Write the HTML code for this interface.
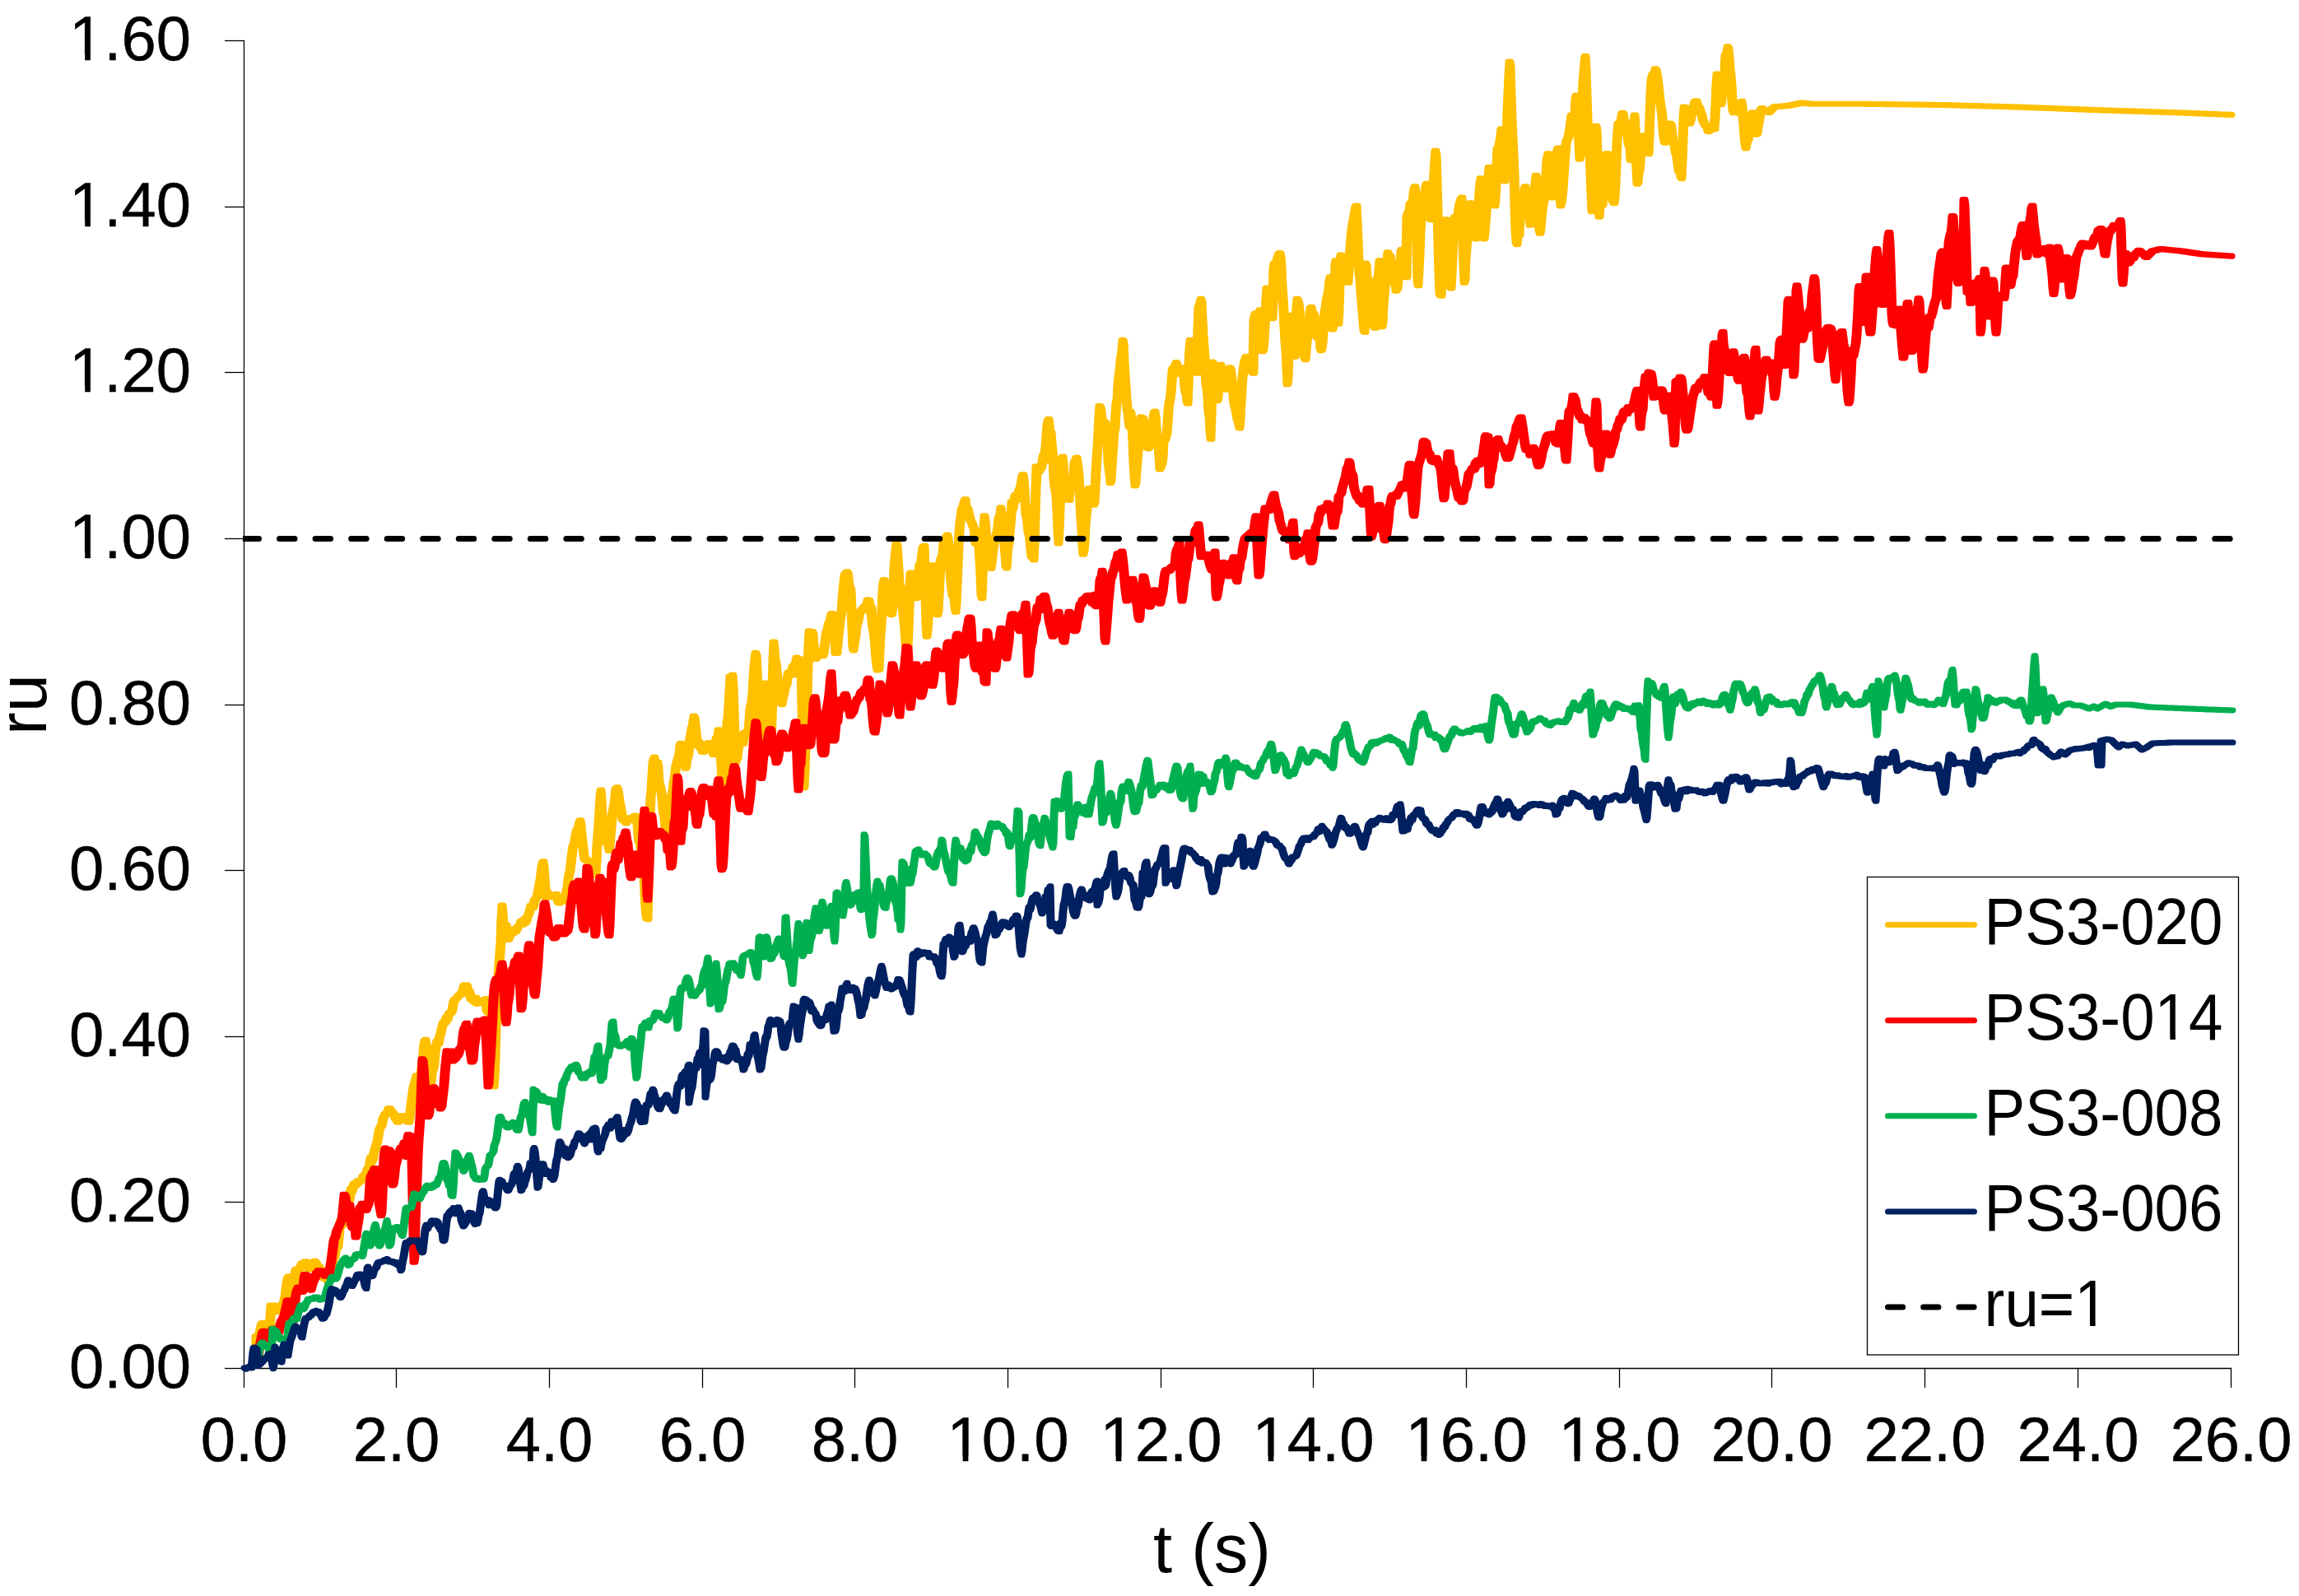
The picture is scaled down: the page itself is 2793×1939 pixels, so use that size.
<!DOCTYPE html>
<html><head><meta charset="utf-8"><title>ru vs t</title>
<style>html,body{margin:0;padding:0;background:#fff;}svg{display:block;}</style>
</head><body>
<svg width="2793" height="1939" viewBox="0 0 2793 1939">
<defs><clipPath id="f1c29" clipPathUnits="userSpaceOnUse"><path clip-rule="evenodd" d="M-5000,-5000H8000V8000H-5000ZM121.72,-6.64H137.07V2.50H121.72ZM144.10,-6.64H158.83V2.50H144.10Z"/></clipPath><clipPath id="f1c26" clipPathUnits="userSpaceOnUse"><path clip-rule="evenodd" d="M-5000,-5000H8000V8000H-5000ZM225.53,-6.64H240.88V2.50H225.53ZM247.91,-6.64H262.65V2.50H247.91Z"/></clipPath><clipPath id="f1c18" clipPathUnits="userSpaceOnUse"><path clip-rule="evenodd" d="M-5000,-5000H8000V8000H-5000ZM1897.93,1768.62H1912.65V1777.50H1897.93ZM1919.37,1768.62H1933.49V1777.50H1919.37Z"/></clipPath><clipPath id="f1c17" clipPathUnits="userSpaceOnUse"><path clip-rule="evenodd" d="M-5000,-5000H8000V8000H-5000ZM1711.93,1768.62H1726.65V1777.50H1711.93ZM1733.37,1768.62H1747.49V1777.50H1733.37Z"/></clipPath><clipPath id="f1c16" clipPathUnits="userSpaceOnUse"><path clip-rule="evenodd" d="M-5000,-5000H8000V8000H-5000ZM1525.93,1768.62H1540.65V1777.50H1525.93ZM1547.37,1768.62H1561.49V1777.50H1547.37Z"/></clipPath><clipPath id="f1c15" clipPathUnits="userSpaceOnUse"><path clip-rule="evenodd" d="M-5000,-5000H8000V8000H-5000ZM1340.93,1768.62H1355.65V1777.50H1340.93ZM1362.37,1768.62H1376.49V1777.50H1362.37Z"/></clipPath><clipPath id="f1c14" clipPathUnits="userSpaceOnUse"><path clip-rule="evenodd" d="M-5000,-5000H8000V8000H-5000ZM1154.93,1768.62H1169.65V1777.50H1154.93ZM1176.37,1768.62H1190.49V1777.50H1176.37Z"/></clipPath><clipPath id="f1c8" clipPathUnits="userSpaceOnUse"><path clip-rule="evenodd" d="M-5000,-5000H8000V8000H-5000ZM88.47,66.12H103.19V75.00H88.47ZM109.91,66.12H124.03V75.00H109.91Z"/></clipPath><clipPath id="f1c7" clipPathUnits="userSpaceOnUse"><path clip-rule="evenodd" d="M-5000,-5000H8000V8000H-5000ZM88.47,268.12H103.19V277.00H88.47ZM109.91,268.12H124.03V277.00H109.91Z"/></clipPath><clipPath id="f1c6" clipPathUnits="userSpaceOnUse"><path clip-rule="evenodd" d="M-5000,-5000H8000V8000H-5000ZM88.47,469.12H103.19V478.00H88.47ZM109.91,469.12H124.03V478.00H109.91Z"/></clipPath><clipPath id="f1c5" clipPathUnits="userSpaceOnUse"><path clip-rule="evenodd" d="M-5000,-5000H8000V8000H-5000ZM88.47,671.12H103.19V680.00H88.47ZM109.91,671.12H124.03V680.00H109.91Z"/></clipPath></defs>
<rect x="0" y="0" width="2793" height="1939" fill="#fff"/>
<line x1="296.5" y1="49" x2="296.5" y2="1663" stroke="#000" stroke-width="1.3"/>
<line x1="296" y1="1662.5" x2="2711" y2="1662.5" stroke="#000" stroke-width="1.3"/>
<line x1="273" y1="1662.5" x2="297" y2="1662.5" stroke="#000" stroke-width="1.3"/>
<text x="232.0" y="1685.5" text-anchor="end" font-size="76" stroke="#000" stroke-width="0.45" style="font-family:'Liberation Sans',Arial,sans-serif">0.00</text>
<line x1="273" y1="1460.5" x2="297" y2="1460.5" stroke="#000" stroke-width="1.3"/>
<text x="232.0" y="1483.5" text-anchor="end" font-size="76" stroke="#000" stroke-width="0.45" style="font-family:'Liberation Sans',Arial,sans-serif">0.20</text>
<line x1="273" y1="1259.5" x2="297" y2="1259.5" stroke="#000" stroke-width="1.3"/>
<text x="232.0" y="1282.5" text-anchor="end" font-size="76" stroke="#000" stroke-width="0.45" style="font-family:'Liberation Sans',Arial,sans-serif">0.40</text>
<line x1="273" y1="1057.5" x2="297" y2="1057.5" stroke="#000" stroke-width="1.3"/>
<text x="232.0" y="1080.5" text-anchor="end" font-size="76" stroke="#000" stroke-width="0.45" style="font-family:'Liberation Sans',Arial,sans-serif">0.60</text>
<line x1="273" y1="856.5" x2="297" y2="856.5" stroke="#000" stroke-width="1.3"/>
<text x="232.0" y="879.5" text-anchor="end" font-size="76" stroke="#000" stroke-width="0.45" style="font-family:'Liberation Sans',Arial,sans-serif">0.80</text>
<line x1="273" y1="654.5" x2="297" y2="654.5" stroke="#000" stroke-width="1.3"/>
<text clip-path="url(#f1c5)" x="232.0" y="677.5" text-anchor="end" font-size="76" stroke="#000" stroke-width="0.45" style="font-family:'Liberation Sans',Arial,sans-serif">1.00</text>
<line x1="273" y1="452.5" x2="297" y2="452.5" stroke="#000" stroke-width="1.3"/>
<text clip-path="url(#f1c6)" x="232.0" y="475.5" text-anchor="end" font-size="76" stroke="#000" stroke-width="0.45" style="font-family:'Liberation Sans',Arial,sans-serif">1.20</text>
<line x1="273" y1="251.5" x2="297" y2="251.5" stroke="#000" stroke-width="1.3"/>
<text clip-path="url(#f1c7)" x="232.0" y="274.5" text-anchor="end" font-size="76" stroke="#000" stroke-width="0.45" style="font-family:'Liberation Sans',Arial,sans-serif">1.40</text>
<line x1="273" y1="49.5" x2="297" y2="49.5" stroke="#000" stroke-width="1.3"/>
<text clip-path="url(#f1c8)" x="232.0" y="72.5" text-anchor="end" font-size="76" stroke="#000" stroke-width="0.45" style="font-family:'Liberation Sans',Arial,sans-serif">1.60</text>
<line x1="296.5" y1="1662" x2="296.5" y2="1686" stroke="#000" stroke-width="1.3"/>
<text x="296.5" y="1775" text-anchor="middle" font-size="76" stroke="#000" stroke-width="0.45" style="font-family:'Liberation Sans',Arial,sans-serif">0.0</text>
<line x1="481.5" y1="1662" x2="481.5" y2="1686" stroke="#000" stroke-width="1.3"/>
<text x="481.5" y="1775" text-anchor="middle" font-size="76" stroke="#000" stroke-width="0.45" style="font-family:'Liberation Sans',Arial,sans-serif">2.0</text>
<line x1="667.5" y1="1662" x2="667.5" y2="1686" stroke="#000" stroke-width="1.3"/>
<text x="667.5" y="1775" text-anchor="middle" font-size="76" stroke="#000" stroke-width="0.45" style="font-family:'Liberation Sans',Arial,sans-serif">4.0</text>
<line x1="853.5" y1="1662" x2="853.5" y2="1686" stroke="#000" stroke-width="1.3"/>
<text x="853.5" y="1775" text-anchor="middle" font-size="76" stroke="#000" stroke-width="0.45" style="font-family:'Liberation Sans',Arial,sans-serif">6.0</text>
<line x1="1038.5" y1="1662" x2="1038.5" y2="1686" stroke="#000" stroke-width="1.3"/>
<text x="1038.5" y="1775" text-anchor="middle" font-size="76" stroke="#000" stroke-width="0.45" style="font-family:'Liberation Sans',Arial,sans-serif">8.0</text>
<line x1="1224.5" y1="1662" x2="1224.5" y2="1686" stroke="#000" stroke-width="1.3"/>
<text clip-path="url(#f1c14)" x="1224.5" y="1775" text-anchor="middle" font-size="76" stroke="#000" stroke-width="0.45" style="font-family:'Liberation Sans',Arial,sans-serif">10.0</text>
<line x1="1410.5" y1="1662" x2="1410.5" y2="1686" stroke="#000" stroke-width="1.3"/>
<text clip-path="url(#f1c15)" x="1410.5" y="1775" text-anchor="middle" font-size="76" stroke="#000" stroke-width="0.45" style="font-family:'Liberation Sans',Arial,sans-serif">12.0</text>
<line x1="1595.5" y1="1662" x2="1595.5" y2="1686" stroke="#000" stroke-width="1.3"/>
<text clip-path="url(#f1c16)" x="1595.5" y="1775" text-anchor="middle" font-size="76" stroke="#000" stroke-width="0.45" style="font-family:'Liberation Sans',Arial,sans-serif">14.0</text>
<line x1="1781.5" y1="1662" x2="1781.5" y2="1686" stroke="#000" stroke-width="1.3"/>
<text clip-path="url(#f1c17)" x="1781.5" y="1775" text-anchor="middle" font-size="76" stroke="#000" stroke-width="0.45" style="font-family:'Liberation Sans',Arial,sans-serif">16.0</text>
<line x1="1967.5" y1="1662" x2="1967.5" y2="1686" stroke="#000" stroke-width="1.3"/>
<text clip-path="url(#f1c18)" x="1967.5" y="1775" text-anchor="middle" font-size="76" stroke="#000" stroke-width="0.45" style="font-family:'Liberation Sans',Arial,sans-serif">18.0</text>
<line x1="2152.5" y1="1662" x2="2152.5" y2="1686" stroke="#000" stroke-width="1.3"/>
<text x="2152.5" y="1775" text-anchor="middle" font-size="76" stroke="#000" stroke-width="0.45" style="font-family:'Liberation Sans',Arial,sans-serif">20.0</text>
<line x1="2338.5" y1="1662" x2="2338.5" y2="1686" stroke="#000" stroke-width="1.3"/>
<text x="2338.5" y="1775" text-anchor="middle" font-size="76" stroke="#000" stroke-width="0.45" style="font-family:'Liberation Sans',Arial,sans-serif">22.0</text>
<line x1="2524.5" y1="1662" x2="2524.5" y2="1686" stroke="#000" stroke-width="1.3"/>
<text x="2524.5" y="1775" text-anchor="middle" font-size="76" stroke="#000" stroke-width="0.45" style="font-family:'Liberation Sans',Arial,sans-serif">24.0</text>
<line x1="2710.5" y1="1662" x2="2710.5" y2="1686" stroke="#000" stroke-width="1.3"/>
<text x="2710.5" y="1775" text-anchor="middle" font-size="76" stroke="#000" stroke-width="0.45" style="font-family:'Liberation Sans',Arial,sans-serif">26.0</text>
<text x="1472.5" y="1910" text-anchor="middle" font-size="83" style="font-family:'Liberation Sans',Arial,sans-serif">t (s)</text>
<text transform="translate(55.5,856) rotate(-90)" text-anchor="middle" font-size="83" style="font-family:'Liberation Sans',Arial,sans-serif">ru</text>
<path d="M309,1623.4 L310,1623.4 L311,1622.9 L312,1622.3 L313,1620.1 L314,1614.7 L315,1610.8 L316,1607.9 L317,1607.5 L318,1607.3 L319,1607.3 L320,1607.3 L321,1607.3 L322,1607.3 L323,1607.5 L324,1607.8 L325,1608.2 L326,1600.5 L327,1586.0 L328,1586.0 L329,1586.0 L330,1586.0 L331,1586.0 L332,1586.0 L333,1586.0 L334,1586.0 L335,1586.0 L336,1586.0 L337,1587.9 L338,1589.6 L339,1589.6 L340,1588.8 L341,1585.9 L342,1582.7 L343,1579.9 L344,1575.6 L345,1566.4 L346,1559.1 L347,1553.6 L348,1551.7 L349,1550.7 L350,1550.7 L351,1550.7 L352,1550.7 L353,1550.7 L354,1552.2 L355,1554.7 L356,1547.7 L357,1543.3 L358,1542.0 L359,1542.0 L360,1542.0 L361,1542.0 L362,1540.2 L363,1538.3 L364,1536.0 L365,1534.9 L366,1534.3 L367,1534.3 L368,1534.1 L369,1532.7 L370,1532.7 L371,1532.7 L372,1532.7 L373,1532.7 L374,1533.2 L375,1534.2 L376,1537.2 L377,1535.0 L378,1535.0 L379,1534.5 L380,1532.2 L381,1532.2 L382,1532.2 L383,1532.2 L384,1532.2 L385,1532.7 L386,1533.9 L387,1535.8 L388,1538.2 L389,1538.2 L390,1539.1 L391,1541.4 L392,1542.0 L393,1543.1 L394,1546.3 L395,1550.2 L396,1551.6 L397,1551.6 L398,1551.6 L399,1545.1 L400,1536.7 L401,1536.7 L402,1531.2 L403,1525.5 L404,1525.5 L405,1520.6 L406,1516.2 L407,1514.5 L408,1514.5 L409,1504.1 L410,1492.8 L411,1484.7 L412,1482.3 L413,1481.4 L414,1481.4 L415,1478.4 L416,1478.4 L417,1469.6 L418,1458.6 L419,1458.6 L420,1458.6 L421,1457.1 L422,1457.1 L423,1452.2 L424,1444.8 L425,1443.3 L426,1443.3 L427,1440.7 L428,1437.9 L429,1437.4 L430,1437.4 L431,1437.4 L432,1435.3 L433,1434.4 L434,1434.4 L435,1434.4 L436,1434.2 L437,1433.6 L438,1431.9 L439,1428.7 L440,1428.5 L441,1427.2 L442,1425.7 L443,1425.0 L444,1420.5 L445,1419.6 L446,1419.6 L447,1412.7 L448,1407.0 L449,1405.5 L450,1405.5 L451,1405.5 L452,1399.9 L453,1397.0 L454,1393.6 L455,1389.9 L456,1387.0 L457,1380.6 L458,1374.8 L459,1371.0 L460,1368.8 L461,1368.1 L462,1364.7 L463,1358.9 L464,1357.1 L465,1354.9 L466,1353.1 L467,1353.1 L468,1353.1 L469,1349.4 L470,1346.9 L471,1346.7 L472,1346.7 L473,1346.7 L474,1346.7 L475,1346.7 L476,1347.1 L477,1349.5 L478,1350.3 L479,1351.5 L480,1353.4 L481,1353.4 L482,1355.3 L483,1359.2 L484,1358.4 L485,1358.4 L486,1355.9 L487,1355.4 L488,1355.4 L489,1355.4 L490,1355.4 L491,1355.4 L492,1356.3 L493,1357.6 L494,1359.2 L495,1358.9 L496,1351.6 L497,1342.9 L498,1334.6 L499,1327.7 L500,1321.4 L501,1316.7 L502,1315.5 L503,1310.2 L504,1306.7 L505,1306.7 L506,1306.7 L507,1306.7 L508,1306.7 L509,1304.5 L510,1297.6 L511,1289.4 L512,1279.2 L513,1267.9 L514,1264.2 L515,1263.3 L516,1263.3 L517,1263.3 L518,1263.3 L519,1263.3 L520,1268.6 L521,1277.9 L522,1288.6 L523,1296.0 L524,1298.1 L525,1293.8 L526,1279.9 L527,1273.0 L528,1268.1 L529,1264.3 L530,1264.3 L531,1263.1 L532,1258.3 L533,1255.6 L534,1250.9 L535,1246.7 L536,1243.4 L537,1241.5 L538,1241.0 L539,1240.4 L540,1236.1 L541,1236.1 L542,1235.4 L543,1231.5 L544,1230.4 L545,1230.0 L546,1230.0 L547,1227.2 L548,1221.2 L549,1216.8 L550,1214.3 L551,1214.0 L552,1213.4 L553,1212.1 L554,1210.4 L555,1209.6 L556,1208.7 L557,1208.7 L558,1206.7 L559,1205.0 L560,1203.9 L561,1198.7 L562,1196.8 L563,1196.8 L564,1196.8 L565,1196.7 L566,1196.7 L567,1196.7 L568,1196.7 L569,1196.7 L570,1199.1 L571,1202.6 L572,1205.2 L573,1205.2 L574,1211.2 L575,1212.6 L576,1212.1 L577,1212.1 L578,1212.1 L579,1212.1 L580,1212.1 L581,1215.3 L582,1215.3 L583,1215.7 L584,1215.2 L585,1215.2 L586,1215.2 L587,1215.2 L588,1213.4 L589,1213.4 L590,1213.4 L591,1213.4 L592,1213.4 L593,1217.5 L594,1217.5 L595,1217.5 L596,1217.5 L597,1218.4 L598,1219.8 L599,1220.0 L600,1246.9 L601,1237.0 L602,1218.2 L603,1186.5 L604,1169.6 L605,1157.9 L606,1143.7 L607,1114.9 L608,1100.0 L609,1100.0 L610,1100.0 L611,1100.0 L612,1100.0 L613,1108.9 L614,1123.8 L615,1123.8 L616,1123.8 L617,1123.8 L618,1132.7 L619,1132.4 L620,1132.4 L621,1132.4 L622,1131.9 L623,1128.5 L624,1128.5 L625,1128.5 L626,1127.8 L627,1126.4 L628,1124.8 L629,1124.2 L630,1122.3 L631,1118.9 L632,1118.9 L633,1118.9 L634,1118.9 L635,1116.6 L636,1116.6 L637,1116.6 L638,1115.3 L639,1112.2 L640,1110.7 L641,1107.4 L642,1103.5 L643,1100.0 L644,1100.0 L645,1100.0 L646,1099.5 L647,1093.3 L648,1093.2 L649,1091.5 L650,1089.1 L651,1085.7 L652,1078.7 L653,1074.4 L654,1068.8 L655,1061.1 L656,1052.7 L657,1048.5 L658,1046.7 L659,1046.7 L660,1046.7 L661,1046.7 L662,1046.7 L663,1053.6 L664,1067.6 L665,1080.0 L666,1083.7 L667,1083.7 L668,1086.7 L669,1086.7 L670,1086.7 L671,1086.7 L672,1086.7 L673,1086.7 L674,1086.6 L675,1086.6 L676,1086.6 L677,1086.6 L678,1086.6 L679,1089.0 L680,1089.8 L681,1089.8 L682,1089.8 L683,1089.8 L684,1090.8 L685,1088.1 L686,1082.4 L687,1078.1 L688,1067.9 L689,1062.1 L690,1058.9 L691,1050.6 L692,1041.8 L693,1033.5 L694,1027.6 L695,1026.3 L696,1022.2 L697,1014.8 L698,1009.6 L699,1007.8 L700,1007.1 L701,1002.2 L702,998.5 L703,996.7 L704,996.7 L705,996.7 L706,996.7 L707,996.7 L708,1002.6 L709,1013.5 L710,1022.4 L711,1030.8 L712,1039.3 L713,1044.1 L714,1044.2 L715,1044.2 L716,1045.1 L717,1046.5 L718,1046.7 L719,1046.7 L720,1051.5 L721,1051.9 L722,1047.4 L723,1027.7 L724,1012.5 L725,1001.8 L726,983.9 L727,968.0 L728,960.0 L729,960.0 L730,960.0 L731,960.0 L732,960.0 L733,970.0 L734,988.9 L735,999.8 L736,1000.5 L737,1000.5 L738,1015.3 L739,1017.5 L740,1006.1 L741,995.1 L742,987.3 L743,981.4 L744,976.6 L745,967.7 L746,958.7 L747,957.5 L748,956.7 L749,956.7 L750,956.7 L751,956.7 L752,956.7 L753,960.0 L754,966.3 L755,974.1 L756,978.6 L757,983.8 L758,989.6 L759,993.9 L760,993.9 L761,994.6 L762,995.4 L763,995.4 L764,993.6 L765,993.6 L766,993.6 L767,993.6 L768,991.9 L769,991.4 L770,991.1 L771,991.1 L772,991.1 L773,991.1 L774,991.1 L775,992.4 L776,994.8 L777,1001.2 L778,1014.4 L779,1014.4 L780,1016.8 L781,1029.7 L782,1038.8 L783,1038.8 L784,1042.2 L785,1062.4 L786,1036.5 L787,994.7 L788,969.0 L789,960.7 L790,943.3 L791,926.9 L792,922.5 L793,920.0 L794,920.0 L795,920.0 L796,920.0 L797,920.0 L798,924.5 L799,925.9 L800,925.9 L801,926.1 L802,932.1 L803,950.4 L804,953.8 L805,957.2 L806,961.9 L807,971.6 L808,982.7 L809,989.9 L810,987.5 L811,976.2 L812,972.6 L813,968.2 L814,964.9 L815,961.1 L816,951.3 L817,945.8 L818,938.4 L819,929.6 L820,926.7 L821,922.9 L822,919.6 L823,916.0 L824,905.3 L825,903.3 L826,903.3 L827,903.3 L828,903.3 L829,903.3 L830,904.2 L831,907.0 L832,912.2 L833,915.8 L834,915.8 L835,902.1 L836,896.6 L837,891.7 L838,885.5 L839,882.3 L840,876.5 L841,870.0 L842,870.0 L843,870.0 L844,870.0 L845,870.0 L846,872.0 L847,880.7 L848,889.6 L849,898.5 L850,901.1 L851,901.1 L852,902.1 L853,906.0 L854,906.0 L855,906.0 L856,906.0 L857,904.7 L858,903.1 L859,902.5 L860,902.5 L861,902.5 L862,902.5 L863,902.5 L864,903.4 L865,906.7 L866,906.7 L867,906.3 L868,897.5 L869,895.6 L870,895.6 L871,886.7 L872,886.7 L873,886.7 L874,886.7 L875,886.7 L876,888.6 L877,898.3 L878,912.6 L879,930.3 L880,915.0 L881,876.2 L882,873.0 L883,857.6 L884,839.1 L885,822.1 L886,822.1 L887,822.1 L888,820.0 L889,820.0 L890,820.0 L891,820.0 L892,820.0 L893,833.9 L894,861.1 L895,896.3 L896,900.3 L897,900.3 L898,900.3 L899,898.1 L900,898.1 L901,898.0 L902,890.6 L903,890.6 L904,890.6 L905,889.4 L906,888.2 L907,885.3 L908,875.4 L909,859.9 L910,856.5 L911,851.6 L912,841.8 L913,823.4 L914,810.2 L915,800.3 L916,793.3 L917,793.3 L918,793.3 L919,793.3 L920,793.3 L921,796.3 L922,813.3 L923,836.7 L924,857.6 L925,852.4 L926,852.4 L927,842.0 L928,830.0 L929,830.0 L930,830.0 L931,830.0 L932,830.0 L933,834.5 L934,844.4 L935,859.4 L936,842.1 L937,800.9 L938,780.0 L939,780.0 L940,780.0 L941,780.0 L942,780.0 L943,788.4 L944,802.2 L945,804.3 L946,815.1 L947,826.5 L948,836.4 L949,846.2 L950,843.3 L951,835.7 L952,833.3 L953,832.0 L954,824.8 L955,819.5 L956,816.7 L957,816.7 L958,816.7 L959,816.3 L960,813.5 L961,809.8 L962,808.4 L963,808.4 L964,808.4 L965,802.4 L966,799.1 L967,799.1 L968,799.1 L969,799.1 L970,799.1 L971,800.6 L972,800.6 L973,800.6 L974,803.3 L975,803.3 L976,811.8 L977,859.7 L978,845.4 L979,808.5 L980,784.6 L981,766.7 L982,766.7 L983,766.7 L984,766.7 L985,766.7 L986,767.1 L987,767.6 L988,767.6 L989,767.6 L990,770.0 L991,784.2 L992,788.6 L993,790.9 L994,790.4 L995,790.4 L996,790.4 L997,790.4 L998,790.4 L999,788.1 L1000,780.1 L1001,771.3 L1002,766.5 L1003,766.5 L1004,758.6 L1005,756.4 L1006,755.1 L1007,749.6 L1008,746.3 L1009,745.5 L1010,745.5 L1011,745.5 L1012,745.5 L1013,745.5 L1014,748.0 L1015,761.5 L1016,766.8 L1017,764.3 L1018,755.5 L1019,748.8 L1020,742.6 L1021,728.1 L1022,716.7 L1023,707.3 L1024,698.6 L1025,696.7 L1026,696.7 L1027,694.7 L1028,694.7 L1029,694.7 L1030,694.7 L1031,694.7 L1032,696.1 L1033,701.8 L1034,713.3 L1035,713.3 L1036,717.8 L1037,742.7 L1038,761.3 L1039,758.4 L1040,755.0 L1041,749.5 L1042,744.0 L1043,743.0 L1044,741.9 L1045,740.0 L1046,740.0 L1047,739.1 L1048,736.7 L1049,736.7 L1050,736.7 L1051,734.2 L1052,728.8 L1053,728.8 L1054,728.8 L1055,728.8 L1056,728.8 L1057,729.2 L1058,729.6 L1059,734.9 L1060,738.2 L1061,738.2 L1062,754.0 L1063,764.3 L1064,767.6 L1065,775.7 L1066,788.1 L1067,771.3 L1068,760.4 L1069,742.5 L1070,717.8 L1071,708.4 L1072,704.4 L1073,704.4 L1074,704.4 L1075,704.4 L1076,704.4 L1077,707.3 L1078,713.6 L1079,725.3 L1080,725.3 L1081,725.3 L1082,725.3 L1083,714.5 L1084,690.0 L1085,678.1 L1086,668.2 L1087,660.0 L1088,660.0 L1089,660.0 L1090,660.0 L1091,660.0 L1092,662.5 L1093,675.3 L1094,692.0 L1095,712.5 L1096,712.5 L1097,716.9 L1098,727.6 L1099,737.8 L1100,746.6 L1101,754.6 L1102,738.9 L1103,711.1 L1104,696.4 L1105,696.0 L1106,696.0 L1107,696.0 L1108,696.0 L1109,696.0 L1110,697.4 L1111,704.8 L1112,710.7 L1113,709.3 L1114,693.4 L1115,685.9 L1116,685.9 L1117,682.2 L1118,672.3 L1119,665.5 L1120,663.8 L1121,663.3 L1122,663.3 L1123,663.3 L1124,663.3 L1125,663.3 L1126,693.2 L1127,726.4 L1128,707.6 L1129,691.8 L1130,687.6 L1131,686.7 L1132,686.7 L1133,686.7 L1134,686.7 L1135,686.7 L1136,694.1 L1137,698.9 L1138,702.6 L1139,704.8 L1140,683.5 L1141,678.5 L1142,676.2 L1143,673.3 L1144,659.7 L1145,654.8 L1146,654.8 L1147,654.2 L1148,651.4 L1149,650.0 L1150,650.0 L1151,650.0 L1152,650.0 L1153,650.0 L1154,654.4 L1155,663.8 L1156,679.1 L1157,695.4 L1158,707.4 L1159,716.7 L1160,711.9 L1161,688.1 L1162,663.8 L1163,646.0 L1164,634.2 L1165,628.9 L1166,619.6 L1167,616.8 L1168,614.6 L1169,611.4 L1170,607.6 L1171,606.7 L1172,606.7 L1173,606.7 L1174,606.7 L1175,606.7 L1176,615.8 L1177,617.0 L1178,618.0 L1179,622.3 L1180,626.7 L1181,630.5 L1182,633.8 L1183,634.8 L1184,637.5 L1185,640.3 L1186,642.8 L1187,651.9 L1188,651.9 L1189,652.4 L1190,656.6 L1191,660.4 L1192,665.8 L1193,642.1 L1194,626.7 L1195,626.7 L1196,626.7 L1197,626.7 L1198,626.7 L1199,633.0 L1200,644.3 L1201,654.5 L1202,657.2 L1203,664.1 L1204,667.3 L1205,660.5 L1206,656.9 L1207,656.2 L1208,650.0 L1209,646.1 L1210,638.7 L1211,629.2 L1212,629.2 L1213,623.6 L1214,616.7 L1215,616.7 L1216,616.7 L1217,616.7 L1218,616.7 L1219,625.0 L1220,640.6 L1221,651.7 L1222,656.5 L1223,660.9 L1224,648.6 L1225,637.9 L1226,624.2 L1227,610.0 L1228,610.0 L1229,610.0 L1230,606.5 L1231,602.0 L1232,601.0 L1233,601.0 L1234,601.0 L1235,598.5 L1236,594.6 L1237,594.6 L1238,588.7 L1239,582.8 L1240,577.6 L1241,576.7 L1242,576.7 L1243,576.7 L1244,576.7 L1245,576.7 L1246,583.0 L1247,595.2 L1248,611.3 L1249,625.7 L1250,628.6 L1251,635.9 L1252,647.1 L1253,649.5 L1254,657.8 L1255,625.8 L1256,593.0 L1257,566.7 L1258,566.7 L1259,566.7 L1260,566.7 L1261,566.7 L1262,567.2 L1263,567.0 L1264,560.8 L1265,554.5 L1266,551.6 L1267,551.6 L1268,542.7 L1269,528.8 L1270,515.8 L1271,511.3 L1272,509.3 L1273,509.3 L1274,509.3 L1275,509.3 L1276,509.3 L1277,517.3 L1278,525.4 L1279,525.4 L1280,537.9 L1281,548.8 L1282,557.8 L1283,583.6 L1284,592.3 L1285,597.0 L1286,585.9 L1287,559.5 L1288,556.1 L1289,555.1 L1290,555.1 L1291,555.1 L1292,555.1 L1293,555.1 L1294,564.3 L1295,581.1 L1296,594.8 L1297,594.8 L1298,590.8 L1299,590.8 L1300,588.8 L1301,586.4 L1302,576.1 L1303,561.2 L1304,561.0 L1305,558.0 L1306,556.1 L1307,556.1 L1308,556.1 L1309,556.1 L1310,556.1 L1311,560.4 L1312,568.2 L1313,577.1 L1314,595.0 L1315,613.9 L1316,631.3 L1317,628.5 L1318,617.6 L1319,604.8 L1320,595.3 L1321,593.3 L1322,593.3 L1323,593.3 L1324,593.3 L1325,593.3 L1326,602.3 L1327,602.3 L1328,592.5 L1329,573.5 L1330,557.1 L1331,542.7 L1332,525.3 L1333,504.3 L1334,493.3 L1335,493.3 L1336,493.3 L1337,493.3 L1338,493.3 L1339,495.2 L1340,499.5 L1341,510.1 L1342,510.5 L1343,513.3 L1344,513.3 L1345,513.3 L1346,526.8 L1347,530.6 L1348,535.0 L1349,552.6 L1350,537.4 L1351,524.7 L1352,520.9 L1353,501.3 L1354,489.5 L1355,486.1 L1356,466.2 L1357,457.3 L1358,450.0 L1359,438.2 L1360,433.0 L1361,424.2 L1362,413.3 L1363,413.3 L1364,413.3 L1365,413.3 L1366,413.3 L1367,417.3 L1368,438.8 L1369,456.1 L1370,469.9 L1371,484.8 L1372,497.6 L1373,499.7 L1374,499.7 L1375,499.7 L1376,501.7 L1377,512.2 L1378,520.0 L1379,536.8 L1380,549.3 L1381,539.2 L1382,523.7 L1383,512.5 L1384,506.7 L1385,506.7 L1386,506.7 L1387,506.7 L1388,506.7 L1389,508.0 L1390,508.0 L1391,508.0 L1392,516.4 L1393,519.3 L1394,519.3 L1395,526.0 L1396,527.5 L1397,522.6 L1398,516.2 L1399,508.4 L1400,501.5 L1401,500.0 L1402,500.0 L1403,500.0 L1404,500.0 L1405,500.0 L1406,505.8 L1407,518.6 L1408,534.2 L1409,534.2 L1410,541.7 L1411,535.4 L1412,532.4 L1413,532.4 L1414,530.8 L1415,527.4 L1416,515.0 L1417,498.6 L1418,489.4 L1419,485.6 L1420,478.2 L1421,465.2 L1422,450.4 L1423,447.2 L1424,446.7 L1425,446.7 L1426,443.0 L1427,440.6 L1428,440.6 L1429,440.6 L1430,440.6 L1431,440.6 L1432,443.0 L1433,445.5 L1434,446.7 L1435,446.7 L1436,446.7 L1437,446.7 L1438,446.7 L1439,449.1 L1440,453.5 L1441,459.2 L1442,443.2 L1443,423.3 L1444,413.3 L1445,413.3 L1446,413.3 L1447,413.3 L1448,413.3 L1449,418.7 L1450,423.5 L1451,423.5 L1452,429.4 L1453,397.8 L1454,372.9 L1455,371.5 L1456,367.2 L1457,363.3 L1458,363.3 L1459,363.3 L1460,363.3 L1461,363.3 L1462,367.3 L1463,389.0 L1464,406.8 L1465,421.3 L1466,434.2 L1467,450.1 L1468,469.2 L1469,470.4 L1470,449.5 L1471,440.0 L1472,440.0 L1473,440.0 L1474,440.0 L1475,440.0 L1476,444.5 L1477,454.3 L1478,466.0 L1479,454.1 L1480,445.3 L1481,443.3 L1482,443.3 L1483,443.3 L1484,443.3 L1485,443.3 L1486,449.2 L1487,455.6 L1488,461.2 L1489,461.5 L1490,458.9 L1491,452.5 L1492,446.7 L1493,446.7 L1494,446.7 L1495,446.7 L1496,446.7 L1497,447.6 L1498,452.9 L1499,460.3 L1500,469.2 L1501,480.6 L1502,490.9 L1503,494.7 L1504,498.7 L1505,491.0 L1506,473.8 L1507,459.0 L1508,450.1 L1509,443.2 L1510,438.3 L1511,435.8 L1512,433.3 L1513,433.3 L1514,433.3 L1515,433.3 L1516,433.3 L1517,433.8 L1518,436.2 L1519,439.6 L1520,442.5 L1521,389.0 L1522,384.3 L1523,381.1 L1524,381.1 L1525,381.1 L1526,381.1 L1527,379.8 L1528,378.0 L1529,376.7 L1530,376.7 L1531,376.7 L1532,376.7 L1533,376.7 L1534,381.1 L1535,378.9 L1536,363.0 L1537,350.0 L1538,350.0 L1539,350.0 L1540,350.0 L1541,350.0 L1542,350.4 L1543,353.1 L1544,355.4 L1545,327.0 L1546,320.0 L1547,320.0 L1548,320.0 L1549,316.5 L1550,312.6 L1551,310.3 L1552,308.0 L1553,307.6 L1554,307.6 L1555,307.6 L1556,307.6 L1557,307.6 L1558,311.4 L1559,324.8 L1560,346.7 L1561,362.0 L1562,377.3 L1563,398.5 L1564,406.2 L1565,386.8 L1566,383.3 L1567,383.3 L1568,383.3 L1569,383.3 L1570,383.3 L1571,387.7 L1572,391.3 L1573,372.8 L1574,363.3 L1575,363.3 L1576,363.3 L1577,363.3 L1578,363.3 L1579,365.3 L1580,368.7 L1581,377.2 L1582,393.7 L1583,411.1 L1584,413.0 L1585,415.2 L1586,409.3 L1587,408.3 L1588,397.8 L1589,379.9 L1590,374.3 L1591,373.3 L1592,373.3 L1593,373.3 L1594,373.3 L1595,373.3 L1596,377.8 L1597,379.9 L1598,380.8 L1599,383.5 L1600,392.7 L1601,401.4 L1602,407.2 L1603,408.5 L1604,408.5 L1605,404.5 L1606,391.3 L1607,379.5 L1608,374.3 L1609,366.5 L1610,360.7 L1611,357.1 L1612,350.2 L1613,341.5 L1614,336.7 L1615,336.7 L1616,336.7 L1617,336.7 L1618,336.7 L1619,347.6 L1620,322.1 L1621,316.7 L1622,316.7 L1623,316.7 L1624,316.7 L1625,316.7 L1626,325.8 L1627,310.0 L1628,310.0 L1629,310.0 L1630,310.0 L1631,310.0 L1632,311.5 L1633,318.3 L1634,318.5 L1635,318.5 L1636,318.5 L1637,313.6 L1638,300.8 L1639,289.0 L1640,278.6 L1641,272.9 L1642,267.1 L1643,260.8 L1644,255.4 L1645,251.0 L1646,250.0 L1647,250.0 L1648,250.0 L1649,250.0 L1650,250.0 L1651,268.3 L1652,290.2 L1653,317.1 L1654,332.8 L1655,339.5 L1656,355.2 L1657,320.0 L1658,320.0 L1659,320.0 L1660,320.0 L1661,320.0 L1662,322.5 L1663,336.2 L1664,341.2 L1665,341.2 L1666,341.2 L1667,348.0 L1668,359.7 L1669,376.4 L1670,358.4 L1671,338.6 L1672,338.6 L1673,327.6 L1674,316.7 L1675,316.7 L1676,316.7 L1677,316.7 L1678,316.7 L1679,325.1 L1680,341.4 L1681,339.4 L1682,332.6 L1683,316.0 L1684,306.7 L1685,306.7 L1686,306.7 L1687,306.7 L1688,306.7 L1689,310.7 L1690,310.7 L1691,310.7 L1692,317.6 L1693,328.0 L1694,333.5 L1695,333.5 L1696,333.5 L1697,328.0 L1698,319.7 L1699,316.5 L1700,305.3 L1701,303.3 L1702,303.3 L1703,303.3 L1704,303.3 L1705,303.3 L1706,310.7 L1707,262.8 L1708,259.3 L1709,257.8 L1710,255.8 L1711,247.4 L1712,246.4 L1713,246.4 L1714,246.4 L1715,235.8 L1716,228.9 L1717,226.7 L1718,226.7 L1719,226.7 L1720,226.7 L1721,226.7 L1722,232.7 L1723,267.1 L1724,264.3 L1725,259.4 L1726,259.4 L1727,246.1 L1728,236.2 L1729,236.2 L1730,226.3 L1731,223.3 L1732,223.3 L1733,223.3 L1734,223.3 L1735,223.3 L1736,233.2 L1737,234.5 L1738,228.1 L1739,225.8 L1740,209.9 L1741,194.1 L1742,183.3 L1743,183.3 L1744,183.3 L1745,183.3 L1746,183.3 L1747,188.8 L1748,218.3 L1749,255.3 L1750,299.1 L1751,301.8 L1752,296.1 L1753,277.6 L1754,266.7 L1755,266.7 L1756,266.7 L1757,266.7 L1758,266.7 L1759,278.0 L1760,298.2 L1761,307.7 L1762,313.0 L1763,282.1 L1764,265.7 L1765,263.8 L1766,263.8 L1767,263.8 L1768,263.6 L1769,260.4 L1770,253.2 L1771,247.4 L1772,244.6 L1773,241.8 L1774,240.0 L1775,240.0 L1776,240.0 L1777,240.0 L1778,240.0 L1779,258.5 L1780,290.0 L1781,275.5 L1782,257.5 L1783,250.1 L1784,246.7 L1785,246.7 L1786,246.7 L1787,246.7 L1788,246.7 L1789,255.1 L1790,256.8 L1791,256.8 L1792,268.7 L1793,251.9 L1794,249.9 L1795,234.0 L1796,221.6 L1797,216.7 L1798,216.7 L1799,216.7 L1800,216.7 L1801,216.7 L1802,222.1 L1803,253.4 L1804,245.0 L1805,230.1 L1806,215.3 L1807,203.3 L1808,203.3 L1809,203.3 L1810,203.3 L1811,203.3 L1812,204.3 L1813,207.0 L1814,214.8 L1815,224.2 L1816,200.8 L1817,180.0 L1818,179.7 L1819,176.9 L1820,171.5 L1821,164.1 L1822,156.7 L1823,156.7 L1824,156.7 L1825,156.7 L1826,156.7 L1827,159.6 L1828,171.9 L1829,137.1 L1830,112.9 L1831,91.7 L1832,75.0 L1833,75.0 L1834,75.0 L1835,75.0 L1836,75.0 L1837,81.0 L1838,115.4 L1839,144.3 L1840,167.6 L1841,187.4 L1842,210.3 L1843,251.3 L1844,259.1 L1845,244.2 L1846,239.3 L1847,239.3 L1848,239.3 L1849,239.3 L1850,229.1 L1851,226.7 L1852,226.7 L1853,226.7 L1854,226.7 L1855,226.7 L1856,232.4 L1857,237.8 L1858,244.2 L1859,251.7 L1860,244.8 L1861,237.9 L1862,234.8 L1863,221.7 L1864,213.3 L1865,213.3 L1866,213.3 L1867,213.3 L1868,213.3 L1869,221.3 L1870,236.6 L1871,255.4 L1872,249.9 L1873,244.7 L1874,234.4 L1875,222.9 L1876,210.4 L1877,195.4 L1878,189.6 L1879,186.7 L1880,186.7 L1881,186.7 L1882,186.7 L1883,186.7 L1884,194.7 L1885,210.1 L1886,214.9 L1887,213.3 L1888,199.6 L1889,187.8 L1890,181.5 L1891,180.0 L1892,180.0 L1893,180.0 L1894,180.0 L1895,180.0 L1896,198.4 L1897,215.3 L1898,200.5 L1899,188.8 L1900,175.8 L1901,171.0 L1902,168.7 L1903,167.4 L1904,161.0 L1905,154.6 L1906,146.8 L1907,140.0 L1908,139.9 L1909,139.8 L1910,139.8 L1911,138.2 L1912,119.4 L1913,115.9 L1914,115.9 L1915,115.9 L1916,115.9 L1917,115.9 L1918,118.6 L1919,130.9 L1920,118.8 L1921,99.1 L1922,87.2 L1923,74.8 L1924,68.3 L1925,68.3 L1926,68.3 L1927,68.3 L1928,68.3 L1929,84.3 L1930,116.1 L1931,144.4 L1932,167.1 L1933,170.4 L1934,184.8 L1935,181.0 L1936,165.2 L1937,153.3 L1938,153.3 L1939,153.3 L1940,153.3 L1941,153.3 L1942,158.3 L1943,186.3 L1944,219.1 L1945,231.3 L1946,219.0 L1947,219.0 L1948,205.4 L1949,187.1 L1950,186.8 L1951,186.7 L1952,186.7 L1953,186.7 L1954,186.7 L1955,186.7 L1956,191.4 L1957,196.7 L1958,202.6 L1959,212.8 L1960,223.8 L1961,198.4 L1962,172.4 L1963,158.0 L1964,150.0 L1965,150.0 L1966,150.0 L1967,147.4 L1968,140.6 L1969,137.2 L1970,137.2 L1971,137.2 L1972,137.2 L1973,137.2 L1974,138.1 L1975,142.9 L1976,148.8 L1977,154.7 L1978,158.5 L1979,158.5 L1980,165.3 L1981,168.6 L1982,164.8 L1983,148.4 L1984,140.0 L1985,140.0 L1986,140.0 L1987,140.0 L1988,140.0 L1989,155.9 L1990,186.8 L1991,177.8 L1992,176.4 L1993,170.6 L1994,166.2 L1995,164.7 L1996,164.7 L1997,164.7 L1998,164.7 L1999,164.7 L2000,165.6 L2001,166.2 L2002,140.3 L2003,113.9 L2004,97.6 L2005,92.9 L2006,90.1 L2007,89.1 L2008,89.1 L2009,83.8 L2010,83.8 L2011,83.8 L2012,83.8 L2013,83.8 L2014,84.8 L2015,89.5 L2016,94.8 L2017,102.6 L2018,112.6 L2019,122.5 L2020,128.2 L2021,134.5 L2022,142.5 L2023,157.2 L2024,156.7 L2025,152.9 L2026,150.7 L2027,150.0 L2028,150.0 L2029,150.0 L2030,150.0 L2031,150.0 L2032,150.9 L2033,153.8 L2034,164.5 L2035,172.1 L2036,174.3 L2037,177.7 L2038,183.3 L2039,187.6 L2040,190.9 L2041,195.7 L2042,169.8 L2043,143.4 L2044,130.0 L2045,130.0 L2046,130.0 L2047,130.0 L2048,130.0 L2049,130.4 L2050,131.1 L2051,133.7 L2052,141.5 L2053,138.5 L2054,136.2 L2055,131.3 L2056,126.5 L2057,123.3 L2058,122.9 L2059,122.7 L2060,122.7 L2061,122.7 L2062,122.7 L2063,122.7 L2064,125.5 L2065,128.3 L2066,130.0 L2067,131.3 L2068,134.7 L2069,137.6 L2070,139.9 L2071,145.5 L2072,147.9 L2073,149.9 L2074,151.7 L2075,152.4 L2076,152.4 L2077,153.2 L2078,153.2 L2079,153.2 L2080,153.2 L2081,143.4 L2082,125.7 L2083,101.9 L2084,90.0 L2085,90.0 L2086,90.0 L2087,90.0 L2088,90.0 L2089,92.9 L2090,97.8 L2091,105.2 L2092,98.8 L2093,87.9 L2094,67.2 L2095,65.7 L2096,62.9 L2097,56.7 L2098,56.7 L2099,56.7 L2100,56.7 L2101,56.7 L2102,59.2 L2103,71.1 L2104,82.8 L2105,92.6 L2106,103.1 L2107,125.1 L2108,124.8 L2109,124.8 L2110,124.8 L2111,124.8 L2112,124.8 L2113,125.8 L2114,123.3 L2115,123.3 L2116,123.3 L2117,123.3 L2118,123.3 L2119,129.2 L2120,140.6 L2121,153.4 L2122,164.4 L2123,156.6 L2124,149.2 L2125,145.0 L2126,140.6 L2127,136.7 L2128,136.7 L2129,136.7 L2130,136.7 L2131,136.7 L2132,138.1 L2133,145.1 L2134,149.3 L2135,144.6 L2136,138.7 L2137,133.3 L2138,131.9 L2139,131.4 L2140,131.4 L2141,131.4 L2142,131.4 L2143,131.4 L2144,133.3 L2145,134.0 L2146,134.0 L2147,134.0 L2148,134.0 L2149,134.2 L2150,133.1 L2151,132.3 L2152,130.9 L2153,130.3 L2154,129.8 L2155,129.4 L2156,129.4 L2157,129.4 L2158,129.4 L2159,129.4 L2160,129.4 L2161,129.3 L2162,129.2 L2163,129.1 L2164,129.0 L2165,128.9 L2166,128.8 L2167,128.7 L2168,128.6 L2169,128.5 L2170,128.4 L2171,128.2 L2172,128.1 L2173,127.8 L2174,127.6 L2175,127.4 L2176,127.2 L2177,127.0 L2178,126.9 L2179,126.6 L2180,126.4 L2181,126.2 L2182,126.0 L2183,125.8 L2184,125.6 L2185,125.4 L2186,125.2 L2187,125.0 L2188,125.0 L2189,125.0 L2190,125.0 L2191,125.0 L2192,125.1 L2193,125.2 L2194,125.3 L2195,125.4 L2196,125.5 L2197,125.6 L2198,125.7 L2199,125.9 L2200,126.0 L2201,126.1 L2202,126.2 L2203,126.2 L2204,126.2 L2205,126.2 L2206,126.2 L2207,126.2 L2208,126.2 L2209,126.2 L2210,126.2 L2211,126.2 L2212,126.2 L2213,126.2 L2214,126.2 L2215,126.2 L2216,126.2 L2217,126.2 L2218,126.2 L2219,126.2 L2220,126.2 L2221,126.2 L2222,126.2 L2223,126.2 L2224,126.2 L2225,126.2 L2226,126.2 L2227,126.2 L2228,126.2 L2229,126.2 L2230,126.2 L2231,126.2 L2232,126.2 L2233,126.2 L2234,126.2 L2235,126.2 L2236,126.2 L2237,126.2 L2238,126.2 L2239,126.2 L2240,126.2 L2241,126.2 L2242,126.2 L2243,126.2 L2244,126.2 L2245,126.2 L2246,126.2 L2247,126.2 L2248,126.2 L2249,126.2 L2250,126.2 L2251,126.2 L2252,126.2 L2253,126.2 L2254,126.2 L2255,126.2 L2256,126.2 L2257,126.2 L2258,126.2 L2259,126.2 L2260,126.2 L2261,126.2 L2262,126.2 L2263,126.3 L2264,126.3 L2265,126.3 L2266,126.3 L2267,126.3 L2268,126.3 L2269,126.3 L2270,126.3 L2271,126.4 L2272,126.4 L2273,126.4 L2274,126.4 L2275,126.4 L2276,126.4 L2277,126.4 L2278,126.4 L2279,126.5 L2280,126.5 L2281,126.5 L2282,126.5 L2283,126.5 L2284,126.5 L2285,126.5 L2286,126.5 L2287,126.6 L2288,126.6 L2289,126.6 L2290,126.6 L2291,126.6 L2292,126.6 L2293,126.6 L2294,126.6 L2295,126.7 L2296,126.7 L2297,126.7 L2298,126.7 L2299,126.7 L2300,126.7 L2301,126.7 L2302,126.7 L2303,126.8 L2304,126.8 L2305,126.8 L2306,126.8 L2307,126.8 L2308,126.8 L2309,126.8 L2310,126.8 L2311,126.9 L2312,126.9 L2313,126.9 L2314,126.9 L2315,126.9 L2316,126.9 L2317,126.9 L2318,126.9 L2319,127.0 L2320,127.0 L2321,127.0 L2322,127.0 L2323,127.0 L2324,127.0 L2325,127.0 L2326,127.0 L2327,127.1 L2328,127.1 L2329,127.1 L2330,127.1 L2331,127.1 L2332,127.1 L2333,127.1 L2334,127.1 L2335,127.2 L2336,127.2 L2337,127.2 L2338,127.2 L2339,127.2 L2340,127.2 L2341,127.2 L2342,127.2 L2343,127.3 L2344,127.3 L2345,127.3 L2346,127.3 L2347,127.3 L2348,127.3 L2349,127.3 L2350,127.3 L2351,127.4 L2352,127.4 L2353,127.4 L2354,127.4 L2355,127.4 L2356,127.4 L2357,127.4 L2358,127.4 L2359,127.5 L2360,127.5 L2361,127.5 L2362,127.5 L2363,127.5 L2364,127.5 L2365,127.6 L2366,127.6 L2367,127.6 L2368,127.7 L2369,127.7 L2370,127.7 L2371,127.7 L2372,127.8 L2373,127.8 L2374,127.8 L2375,127.9 L2376,127.9 L2377,127.9 L2378,127.9 L2379,128.0 L2380,128.0 L2381,128.0 L2382,128.0 L2383,128.1 L2384,128.1 L2385,128.1 L2386,128.2 L2387,128.2 L2388,128.2 L2389,128.2 L2390,128.3 L2391,128.3 L2392,128.3 L2393,128.4 L2394,128.4 L2395,128.4 L2396,128.4 L2397,128.5 L2398,128.5 L2399,128.5 L2400,128.6 L2401,128.6 L2402,128.6 L2403,128.6 L2404,128.7 L2405,128.7 L2406,128.7 L2407,128.7 L2408,128.8 L2409,128.8 L2410,128.8 L2411,128.9 L2412,128.9 L2413,128.9 L2414,128.9 L2415,129.0 L2416,129.0 L2417,129.0 L2418,129.0 L2419,129.1 L2420,129.1 L2421,129.1 L2422,129.2 L2423,129.2 L2424,129.2 L2425,129.2 L2426,129.3 L2427,129.3 L2428,129.3 L2429,129.3 L2430,129.4 L2431,129.4 L2432,129.4 L2433,129.5 L2434,129.5 L2435,129.5 L2436,129.6 L2437,129.6 L2438,129.6 L2439,129.6 L2440,129.7 L2441,129.7 L2442,129.7 L2443,129.7 L2444,129.8 L2445,129.8 L2446,129.8 L2447,129.9 L2448,129.9 L2449,129.9 L2450,129.9 L2451,130.0 L2452,130.0 L2453,130.0 L2454,130.1 L2455,130.1 L2456,130.1 L2457,130.2 L2458,130.2 L2459,130.2 L2460,130.3 L2461,130.3 L2462,130.4 L2463,130.4 L2464,130.4 L2465,130.5 L2466,130.5 L2467,130.6 L2468,130.6 L2469,130.6 L2470,130.7 L2471,130.7 L2472,130.7 L2473,130.8 L2474,130.8 L2475,130.9 L2476,130.9 L2477,130.9 L2478,131.0 L2479,131.0 L2480,131.0 L2481,131.1 L2482,131.1 L2483,131.2 L2484,131.2 L2485,131.2 L2486,131.3 L2487,131.3 L2488,131.3 L2489,131.4 L2490,131.4 L2491,131.4 L2492,131.5 L2493,131.5 L2494,131.6 L2495,131.6 L2496,131.6 L2497,131.7 L2498,131.7 L2499,131.8 L2500,131.8 L2501,131.8 L2502,131.9 L2503,131.9 L2504,131.9 L2505,132.0 L2506,132.0 L2507,132.1 L2508,132.1 L2509,132.1 L2510,132.2 L2511,132.2 L2512,132.2 L2513,132.3 L2514,132.3 L2515,132.4 L2516,132.4 L2517,132.4 L2518,132.5 L2519,132.5 L2520,132.5 L2521,132.6 L2522,132.6 L2523,132.6 L2524,132.7 L2525,132.7 L2526,132.8 L2527,132.8 L2528,132.8 L2529,132.9 L2530,132.9 L2531,132.9 L2532,133.0 L2533,133.0 L2534,133.1 L2535,133.1 L2536,133.1 L2537,133.2 L2538,133.2 L2539,133.3 L2540,133.3 L2541,133.3 L2542,133.4 L2543,133.4 L2544,133.4 L2545,133.5 L2546,133.5 L2547,133.6 L2548,133.6 L2549,133.6 L2550,133.7 L2551,133.7 L2552,133.7 L2553,133.8 L2554,133.8 L2555,133.8 L2556,133.9 L2557,133.9 L2558,133.9 L2559,134.0 L2560,134.0 L2561,134.0 L2562,134.1 L2563,134.1 L2564,134.1 L2565,134.2 L2566,134.2 L2567,134.2 L2568,134.3 L2569,134.3 L2570,134.3 L2571,134.4 L2572,134.4 L2573,134.4 L2574,134.5 L2575,134.5 L2576,134.5 L2577,134.5 L2578,134.6 L2579,134.6 L2580,134.6 L2581,134.7 L2582,134.7 L2583,134.7 L2584,134.8 L2585,134.8 L2586,134.8 L2587,134.9 L2588,134.9 L2589,134.9 L2590,135.0 L2591,135.0 L2592,135.0 L2593,135.1 L2594,135.1 L2595,135.1 L2596,135.2 L2597,135.2 L2598,135.2 L2599,135.3 L2600,135.3 L2601,135.3 L2602,135.4 L2603,135.4 L2604,135.4 L2605,135.5 L2606,135.5 L2607,135.5 L2608,135.6 L2609,135.6 L2610,135.6 L2611,135.7 L2612,135.7 L2613,135.7 L2614,135.8 L2615,135.8 L2616,135.8 L2617,135.9 L2618,135.9 L2619,135.9 L2620,135.9 L2621,136.0 L2622,136.0 L2623,136.0 L2624,136.1 L2625,136.1 L2626,136.1 L2627,136.2 L2628,136.2 L2629,136.2 L2630,136.3 L2631,136.3 L2632,136.3 L2633,136.4 L2634,136.4 L2635,136.4 L2636,136.5 L2637,136.5 L2638,136.5 L2639,136.6 L2640,136.6 L2641,136.6 L2642,136.7 L2643,136.7 L2644,136.7 L2645,136.8 L2646,136.8 L2647,136.8 L2648,136.9 L2649,136.9 L2650,136.9 L2651,137.0 L2652,137.0 L2653,137.0 L2654,137.1 L2655,137.1 L2656,137.2 L2657,137.2 L2658,137.2 L2659,137.3 L2660,137.3 L2661,137.3 L2662,137.4 L2663,137.4 L2664,137.5 L2665,137.5 L2666,137.6 L2667,137.6 L2668,137.6 L2669,137.7 L2670,137.7 L2671,137.7 L2672,137.8 L2673,137.8 L2674,137.9 L2675,137.9 L2676,138.0 L2677,138.0 L2678,138.0 L2679,138.1 L2680,138.1 L2681,138.1 L2682,138.2 L2683,138.2 L2684,138.3 L2685,138.3 L2686,138.4 L2687,138.4 L2688,138.4 L2689,138.5 L2690,138.5 L2691,138.5 L2692,138.6 L2693,138.6 L2694,138.7 L2695,138.7 L2696,138.8 L2697,138.8 L2698,138.8 L2699,138.9 L2700,138.9 L2701,138.9 L2702,139.0 L2703,139.0 L2704,139.1 L2705,139.1 L2706,139.2 L2707,139.2 L2708,139.2 L2709,139.3 L2710,139.3 L2711,139.3 L2712,139.4 L2712,139.5 L2711,139.5 L2710,139.5 L2709,139.4 L2708,139.4 L2707,139.4 L2706,139.3 L2705,139.3 L2704,139.3 L2703,139.2 L2702,139.2 L2701,139.1 L2700,139.1 L2699,139.0 L2698,139.0 L2697,139.0 L2696,138.9 L2695,138.9 L2694,138.9 L2693,138.8 L2692,138.8 L2691,138.7 L2690,138.7 L2689,138.6 L2688,138.6 L2687,138.6 L2686,138.5 L2685,138.5 L2684,138.5 L2683,138.4 L2682,138.4 L2681,138.3 L2680,138.3 L2679,138.2 L2678,138.2 L2677,138.2 L2676,138.1 L2675,138.1 L2674,138.1 L2673,138.0 L2672,138.0 L2671,137.9 L2670,137.9 L2669,137.9 L2668,137.8 L2667,137.8 L2666,137.7 L2665,137.7 L2664,137.7 L2663,137.6 L2662,137.6 L2661,137.5 L2660,137.5 L2659,137.5 L2658,137.4 L2657,137.4 L2656,137.3 L2655,137.3 L2654,137.2 L2653,137.2 L2652,137.2 L2651,137.1 L2650,137.1 L2649,137.1 L2648,137.0 L2647,137.0 L2646,136.9 L2645,136.9 L2644,136.9 L2643,136.8 L2642,136.8 L2641,136.8 L2640,136.7 L2639,136.7 L2638,136.7 L2637,136.7 L2636,136.6 L2635,136.6 L2634,136.6 L2633,136.5 L2632,136.5 L2631,136.5 L2630,136.4 L2629,136.4 L2628,136.4 L2627,136.3 L2626,136.3 L2625,136.3 L2624,136.2 L2623,136.2 L2622,136.2 L2621,136.1 L2620,136.1 L2619,136.1 L2618,136.0 L2617,136.0 L2616,136.0 L2615,135.9 L2614,135.9 L2613,135.9 L2612,135.8 L2611,135.8 L2610,135.8 L2609,135.7 L2608,135.7 L2607,135.7 L2606,135.6 L2605,135.6 L2604,135.6 L2603,135.5 L2602,135.5 L2601,135.5 L2600,135.4 L2599,135.4 L2598,135.4 L2597,135.3 L2596,135.3 L2595,135.3 L2594,135.3 L2593,135.2 L2592,135.2 L2591,135.2 L2590,135.1 L2589,135.1 L2588,135.1 L2587,135.0 L2586,135.0 L2585,135.0 L2584,134.9 L2583,134.9 L2582,134.9 L2581,134.8 L2580,134.8 L2579,134.8 L2578,134.7 L2577,134.7 L2576,134.7 L2575,134.6 L2574,134.6 L2573,134.6 L2572,134.5 L2571,134.5 L2570,134.5 L2569,134.4 L2568,134.4 L2567,134.4 L2566,134.3 L2565,134.3 L2564,134.3 L2563,134.2 L2562,134.2 L2561,134.2 L2560,134.1 L2559,134.1 L2558,134.1 L2557,134.0 L2556,134.0 L2555,134.0 L2554,133.9 L2553,133.9 L2552,133.9 L2551,133.8 L2550,133.8 L2549,133.8 L2548,133.8 L2547,133.7 L2546,133.7 L2545,133.7 L2544,133.6 L2543,133.6 L2542,133.5 L2541,133.5 L2540,133.5 L2539,133.4 L2538,133.4 L2537,133.4 L2536,133.3 L2535,133.3 L2534,133.2 L2533,133.2 L2532,133.2 L2531,133.1 L2530,133.1 L2529,133.0 L2528,133.0 L2527,133.0 L2526,132.9 L2525,132.9 L2524,132.9 L2523,132.8 L2522,132.8 L2521,132.7 L2520,132.7 L2519,132.7 L2518,132.6 L2517,132.6 L2516,132.6 L2515,132.5 L2514,132.5 L2513,132.5 L2512,132.4 L2511,132.4 L2510,132.3 L2509,132.3 L2508,132.3 L2507,132.2 L2506,132.2 L2505,132.2 L2504,132.1 L2503,132.1 L2502,132.0 L2501,132.0 L2500,132.0 L2499,131.9 L2498,131.9 L2497,131.8 L2496,131.8 L2495,131.8 L2494,131.7 L2493,131.7 L2492,131.7 L2491,131.6 L2490,131.6 L2489,131.5 L2488,131.5 L2487,131.5 L2486,131.4 L2485,131.4 L2484,131.4 L2483,131.3 L2482,131.3 L2481,131.2 L2480,131.2 L2479,131.2 L2478,131.1 L2477,131.1 L2476,131.1 L2475,131.0 L2474,131.0 L2473,131.0 L2472,130.9 L2471,130.9 L2470,130.8 L2469,130.8 L2468,130.8 L2467,130.7 L2466,130.7 L2465,130.6 L2464,130.6 L2463,130.6 L2462,130.5 L2461,130.5 L2460,130.5 L2459,130.4 L2458,130.4 L2457,130.3 L2456,130.3 L2455,130.3 L2454,130.2 L2453,130.2 L2452,130.2 L2451,130.1 L2450,130.1 L2449,130.0 L2448,130.0 L2447,130.0 L2446,130.0 L2445,129.9 L2444,129.9 L2443,129.9 L2442,129.8 L2441,129.8 L2440,129.8 L2439,129.8 L2438,129.7 L2437,129.7 L2436,129.7 L2435,129.6 L2434,129.6 L2433,129.6 L2432,129.6 L2431,129.5 L2430,129.5 L2429,129.5 L2428,129.5 L2427,129.4 L2426,129.4 L2425,129.4 L2424,129.3 L2423,129.3 L2422,129.3 L2421,129.3 L2420,129.2 L2419,129.2 L2418,129.2 L2417,129.1 L2416,129.1 L2415,129.1 L2414,129.1 L2413,129.0 L2412,129.0 L2411,129.0 L2410,128.9 L2409,128.9 L2408,128.9 L2407,128.9 L2406,128.8 L2405,128.8 L2404,128.8 L2403,128.8 L2402,128.7 L2401,128.7 L2400,128.7 L2399,128.6 L2398,128.6 L2397,128.6 L2396,128.6 L2395,128.5 L2394,128.5 L2393,128.5 L2392,128.5 L2391,128.4 L2390,128.4 L2389,128.4 L2388,128.3 L2387,128.3 L2386,128.3 L2385,128.3 L2384,128.2 L2383,128.2 L2382,128.2 L2381,128.2 L2380,128.1 L2379,128.1 L2378,128.1 L2377,128.0 L2376,128.0 L2375,128.0 L2374,127.9 L2373,127.9 L2372,127.9 L2371,127.9 L2370,127.8 L2369,127.8 L2368,127.8 L2367,127.8 L2366,127.7 L2365,127.7 L2364,127.7 L2363,127.6 L2362,127.6 L2361,127.6 L2360,127.6 L2359,127.5 L2358,127.5 L2357,127.5 L2356,127.5 L2355,127.5 L2354,127.5 L2353,127.4 L2352,127.4 L2351,127.4 L2350,127.4 L2349,127.4 L2348,127.4 L2347,127.4 L2346,127.4 L2345,127.3 L2344,127.3 L2343,127.3 L2342,127.3 L2341,127.3 L2340,127.3 L2339,127.3 L2338,127.3 L2337,127.2 L2336,127.2 L2335,127.2 L2334,127.2 L2333,127.2 L2332,127.2 L2331,127.2 L2330,127.2 L2329,127.1 L2328,127.1 L2327,127.1 L2326,127.1 L2325,127.1 L2324,127.1 L2323,127.1 L2322,127.1 L2321,127.0 L2320,127.0 L2319,127.0 L2318,127.0 L2317,127.0 L2316,127.0 L2315,127.0 L2314,127.0 L2313,126.9 L2312,126.9 L2311,126.9 L2310,126.9 L2309,126.9 L2308,126.9 L2307,126.9 L2306,126.9 L2305,126.8 L2304,126.8 L2303,126.8 L2302,126.8 L2301,126.8 L2300,126.8 L2299,126.8 L2298,126.8 L2297,126.7 L2296,126.7 L2295,126.7 L2294,126.7 L2293,126.7 L2292,126.7 L2291,126.7 L2290,126.7 L2289,126.6 L2288,126.6 L2287,126.6 L2286,126.6 L2285,126.6 L2284,126.6 L2283,126.6 L2282,126.6 L2281,126.5 L2280,126.5 L2279,126.5 L2278,126.5 L2277,126.5 L2276,126.5 L2275,126.5 L2274,126.5 L2273,126.4 L2272,126.4 L2271,126.4 L2270,126.4 L2269,126.4 L2268,126.4 L2267,126.4 L2266,126.4 L2265,126.3 L2264,126.3 L2263,126.3 L2262,126.3 L2261,126.3 L2260,126.3 L2259,126.3 L2258,126.3 L2257,126.2 L2256,126.2 L2255,126.2 L2254,126.2 L2253,126.2 L2252,126.2 L2251,126.2 L2250,126.2 L2249,126.2 L2248,126.2 L2247,126.2 L2246,126.2 L2245,126.2 L2244,126.2 L2243,126.2 L2242,126.2 L2241,126.2 L2240,126.2 L2239,126.2 L2238,126.2 L2237,126.2 L2236,126.2 L2235,126.2 L2234,126.2 L2233,126.2 L2232,126.2 L2231,126.2 L2230,126.2 L2229,126.2 L2228,126.2 L2227,126.2 L2226,126.2 L2225,126.2 L2224,126.2 L2223,126.2 L2222,126.2 L2221,126.2 L2220,126.2 L2219,126.2 L2218,126.2 L2217,126.2 L2216,126.2 L2215,126.2 L2214,126.2 L2213,126.2 L2212,126.2 L2211,126.2 L2210,126.2 L2209,126.2 L2208,126.2 L2207,126.2 L2206,126.2 L2205,126.2 L2204,126.2 L2203,126.2 L2202,126.2 L2201,126.2 L2200,126.2 L2199,126.2 L2198,126.2 L2197,126.1 L2196,126.0 L2195,125.9 L2194,125.8 L2193,125.7 L2192,125.6 L2191,125.5 L2190,125.4 L2189,125.6 L2188,125.7 L2187,125.9 L2186,126.1 L2185,126.3 L2184,126.5 L2183,126.8 L2182,126.9 L2181,127.1 L2180,127.3 L2179,127.5 L2178,127.7 L2177,128.0 L2176,128.1 L2175,128.3 L2174,128.4 L2173,128.5 L2172,128.6 L2171,128.7 L2170,128.8 L2169,128.9 L2168,129.0 L2167,129.1 L2166,129.2 L2165,129.3 L2164,129.4 L2163,129.5 L2162,129.6 L2161,129.6 L2160,129.6 L2159,129.6 L2158,130.1 L2157,130.4 L2156,131.8 L2155,132.7 L2154,134.0 L2153,134.9 L2152,136.2 L2151,136.7 L2150,136.7 L2149,136.7 L2148,136.7 L2147,136.7 L2146,135.4 L2145,135.0 L2144,135.0 L2143,135.0 L2142,135.0 L2141,138.2 L2140,144.1 L2139,148.8 L2138,155.1 L2137,161.9 L2136,163.3 L2135,163.3 L2134,163.3 L2133,163.3 L2132,163.3 L2131,158.6 L2130,153.3 L2129,150.0 L2128,156.1 L2127,163.9 L2126,169.8 L2125,169.8 L2124,175.2 L2123,180.0 L2122,180.0 L2121,180.0 L2120,180.0 L2119,180.0 L2118,175.1 L2117,165.6 L2116,152.9 L2115,140.1 L2114,137.3 L2113,137.3 L2112,137.3 L2111,137.3 L2110,137.3 L2109,135.3 L2108,136.7 L2107,136.7 L2106,136.7 L2105,136.7 L2104,136.7 L2103,133.3 L2102,124.6 L2101,102.6 L2100,92.1 L2099,82.3 L2098,87.4 L2097,98.3 L2096,104.7 L2095,109.4 L2094,120.7 L2093,126.7 L2092,126.7 L2091,126.7 L2090,126.7 L2089,126.7 L2088,125.7 L2087,125.2 L2086,142.9 L2085,156.7 L2084,156.7 L2083,156.7 L2082,157.4 L2081,157.4 L2080,157.4 L2079,157.4 L2078,159.7 L2077,159.7 L2076,159.7 L2075,159.7 L2074,159.7 L2073,159.2 L2072,154.3 L2071,153.3 L2070,152.9 L2069,151.3 L2068,149.4 L2067,147.4 L2066,145.0 L2065,139.4 L2064,137.1 L2063,134.2 L2062,130.9 L2061,129.6 L2060,130.8 L2059,135.8 L2058,138.0 L2057,142.3 L2056,146.6 L2055,150.0 L2054,150.0 L2053,150.0 L2052,150.0 L2051,150.0 L2050,149.5 L2049,148.5 L2048,146.7 L2047,169.3 L2046,195.2 L2045,216.7 L2044,216.7 L2043,216.7 L2042,216.7 L2041,216.7 L2040,214.7 L2039,209.5 L2038,209.5 L2037,206.1 L2036,199.7 L2035,190.4 L2034,187.1 L2033,182.9 L2032,177.2 L2031,173.9 L2030,171.7 L2029,164.0 L2028,163.6 L2027,167.0 L2026,170.5 L2025,173.3 L2024,173.3 L2023,173.3 L2022,173.3 L2021,173.3 L2020,172.4 L2019,166.5 L2018,156.7 L2017,142.0 L2016,134.0 L2015,127.7 L2014,122.0 L2013,112.1 L2012,102.2 L2011,99.4 L2010,99.4 L2009,99.4 L2008,113.4 L2007,139.8 L2006,165.7 L2005,186.7 L2004,186.7 L2003,186.7 L2002,186.7 L2001,186.7 L2000,185.7 L1999,182.4 L1998,182.4 L1997,177.6 L1996,177.4 L1995,196.7 L1994,208.2 L1993,209.8 L1992,221.4 L1991,223.3 L1990,223.3 L1989,223.3 L1988,223.3 L1987,223.3 L1986,207.6 L1985,190.5 L1984,193.5 L1983,194.4 L1982,194.4 L1981,194.4 L1980,194.4 L1979,194.4 L1978,181.0 L1977,175.5 L1976,175.5 L1975,164.8 L1974,160.4 L1973,160.0 L1972,154.2 L1971,154.1 L1970,155.3 L1969,155.7 L1968,157.5 L1967,171.9 L1966,197.9 L1965,223.4 L1964,238.7 L1963,246.7 L1962,246.7 L1961,246.7 L1960,246.7 L1959,246.7 L1958,245.8 L1957,244.1 L1956,237.4 L1955,225.1 L1954,212.3 L1953,204.9 L1952,221.7 L1951,221.7 L1950,237.3 L1949,249.2 L1948,249.2 L1947,249.2 L1946,250.0 L1945,263.3 L1944,263.3 L1943,263.3 L1942,263.3 L1941,263.3 L1940,256.9 L1939,218.6 L1938,227.2 L1937,252.2 L1936,256.7 L1935,256.7 L1934,256.7 L1933,256.7 L1932,256.7 L1931,235.4 L1930,210.6 L1929,184.3 L1928,170.0 L1927,166.7 L1926,143.9 L1925,118.3 L1924,141.7 L1923,166.1 L1922,189.4 L1921,193.3 L1920,193.3 L1919,193.3 L1918,193.3 L1917,193.3 L1916,174.5 L1915,151.6 L1914,147.1 L1913,147.1 L1912,147.1 L1911,147.1 L1910,154.1 L1909,160.5 L1908,166.9 L1907,168.3 L1906,170.5 L1905,175.3 L1904,188.3 L1903,200.1 L1902,214.8 L1901,230.6 L1900,239.4 L1899,246.6 L1898,250.0 L1897,250.0 L1896,250.0 L1895,250.0 L1894,250.0 L1893,239.6 L1892,219.7 L1891,225.0 L1890,228.4 L1889,235.7 L1888,240.0 L1887,240.0 L1886,240.0 L1885,240.0 L1884,240.0 L1883,233.0 L1882,219.1 L1881,214.4 L1880,222.4 L1879,233.9 L1878,244.2 L1877,249.4 L1876,255.2 L1875,265.5 L1874,277.4 L1873,283.3 L1872,283.3 L1871,283.3 L1870,283.3 L1869,283.3 L1868,279.5 L1867,271.7 L1866,254.9 L1865,244.3 L1864,251.2 L1863,258.7 L1862,270.9 L1861,273.3 L1860,273.3 L1859,273.3 L1858,273.3 L1857,273.3 L1856,267.4 L1855,263.8 L1854,260.8 L1853,245.4 L1852,247.3 L1851,247.3 L1850,247.3 L1849,258.6 L1848,285.3 L1847,285.3 L1846,288.9 L1845,296.7 L1844,296.7 L1843,296.7 L1842,296.7 L1841,296.7 L1840,294.2 L1839,278.7 L1838,250.8 L1837,209.8 L1836,186.9 L1835,167.1 L1834,143.8 L1833,171.4 L1832,177.4 L1831,190.3 L1830,220.0 L1829,220.0 L1828,220.0 L1827,220.0 L1826,220.0 L1825,216.1 L1824,195.8 L1823,179.6 L1822,179.9 L1821,200.3 L1820,224.1 L1819,241.0 L1818,250.0 L1817,250.0 L1816,250.0 L1815,250.0 L1814,250.0 L1813,246.0 L1812,239.1 L1811,233.1 L1810,229.6 L1809,244.5 L1808,257.7 L1807,271.2 L1806,282.6 L1805,290.0 L1804,290.0 L1803,290.0 L1802,290.0 L1801,290.0 L1800,287.5 L1799,274.8 L1798,252.9 L1797,268.3 L1796,282.6 L1795,290.0 L1794,290.0 L1793,290.0 L1792,290.0 L1791,290.0 L1790,288.1 L1789,278.4 L1788,276.3 L1787,268.6 L1786,275.0 L1785,289.5 L1784,301.9 L1783,315.2 L1782,339.4 L1781,343.3 L1780,343.3 L1779,343.3 L1778,343.3 L1777,343.3 L1776,321.8 L1775,294.4 L1774,259.9 L1773,263.1 L1772,268.5 L1771,272.9 L1770,272.9 L1769,272.9 L1768,281.6 L1767,312.5 L1766,334.0 L1765,350.0 L1764,350.0 L1763,350.0 L1762,350.0 L1761,350.0 L1760,348.5 L1759,340.7 L1758,325.0 L1757,313.1 L1756,307.2 L1755,318.1 L1754,339.4 L1753,359.3 L1752,359.3 L1751,359.3 L1750,359.3 L1749,359.3 L1748,358.9 L1747,356.7 L1746,331.4 L1745,298.6 L1744,254.8 L1743,227.6 L1742,234.0 L1741,248.3 L1740,266.7 L1739,266.7 L1738,266.7 L1737,266.7 L1736,266.7 L1735,264.7 L1734,255.4 L1733,248.2 L1732,245.6 L1731,261.4 L1730,261.4 L1729,263.8 L1728,280.5 L1727,308.8 L1726,330.2 L1725,346.7 L1724,346.7 L1723,346.7 L1722,346.7 L1721,346.7 L1720,340.2 L1719,302.5 L1718,266.6 L1717,249.8 L1716,249.8 L1715,255.3 L1714,257.8 L1713,258.9 L1712,262.3 L1711,336.7 L1710,336.7 L1709,336.7 L1708,336.7 L1707,336.7 L1706,328.5 L1705,323.5 L1704,323.5 L1703,323.5 L1702,327.5 L1701,340.7 L1700,349.9 L1699,352.5 L1698,353.3 L1697,353.3 L1696,353.3 L1695,353.3 L1694,353.3 L1693,345.9 L1692,343.8 L1691,343.8 L1690,341.3 L1689,336.9 L1688,327.5 L1687,332.2 L1686,338.9 L1685,348.1 L1684,357.9 L1683,370.9 L1682,392.7 L1681,396.7 L1680,396.7 L1679,396.7 L1678,396.7 L1677,396.7 L1676,370.3 L1675,357.9 L1674,380.1 L1673,398.3 L1672,398.3 L1671,398.3 L1670,398.3 L1669,398.3 L1668,397.9 L1667,396.7 L1666,388.9 L1665,381.2 L1664,375.9 L1663,359.2 L1662,347.5 L1661,361.4 L1660,403.3 L1659,403.3 L1658,403.3 L1657,403.3 L1656,403.3 L1655,401.4 L1654,391.2 L1653,378.9 L1652,367.0 L1651,354.7 L1650,339.0 L1649,332.3 L1648,316.6 L1647,289.7 L1646,272.4 L1645,278.1 L1644,288.5 L1643,300.3 L1642,313.1 L1641,328.9 L1640,343.3 L1639,343.3 L1638,343.3 L1637,343.3 L1636,343.3 L1635,342.9 L1634,340.7 L1633,334.4 L1632,334.4 L1631,333.9 L1630,346.6 L1629,377.4 L1628,393.3 L1627,393.3 L1626,393.3 L1625,393.3 L1624,393.3 L1623,379.5 L1622,396.5 L1621,400.0 L1620,400.0 L1619,400.0 L1618,400.0 L1617,400.0 L1616,386.5 L1615,369.0 L1614,366.0 L1613,373.8 L1612,379.1 L1611,390.8 L1610,404.0 L1609,416.9 L1608,423.8 L1607,425.8 L1606,425.8 L1605,425.8 L1604,425.8 L1603,425.8 L1602,423.4 L1601,410.5 L1600,410.5 L1599,410.5 L1598,410.1 L1597,406.7 L1596,400.9 L1595,392.2 L1594,383.0 L1593,397.3 L1592,408.2 L1591,408.9 L1590,414.7 L1589,428.7 L1588,436.7 L1587,436.7 L1586,436.7 L1585,436.7 L1584,436.7 L1583,434.8 L1582,431.0 L1581,422.7 L1580,416.8 L1579,412.5 L1578,410.6 L1577,393.2 L1576,413.6 L1575,433.3 L1574,433.3 L1573,433.3 L1572,433.3 L1571,433.3 L1570,432.4 L1569,427.4 L1568,430.5 L1567,461.2 L1566,466.7 L1565,466.7 L1564,466.7 L1563,466.7 L1562,466.7 L1561,447.9 L1560,427.1 L1559,414.8 L1558,398.0 L1557,376.8 L1556,361.5 L1555,346.2 L1554,324.3 L1553,324.3 L1552,324.8 L1551,324.8 L1550,326.5 L1549,366.3 L1548,386.7 L1547,386.7 L1546,386.7 L1545,386.7 L1544,386.7 L1543,381.7 L1542,372.8 L1541,370.0 L1540,378.4 L1539,398.1 L1538,413.4 L1537,424.7 L1536,426.7 L1535,426.7 L1534,426.7 L1533,426.7 L1532,426.7 L1531,408.8 L1530,389.9 L1529,384.8 L1528,384.8 L1527,384.8 L1526,388.6 L1525,453.3 L1524,453.3 L1523,453.3 L1522,453.3 L1521,453.3 L1520,452.9 L1519,450.8 L1518,450.8 L1517,448.3 L1516,443.3 L1515,442.1 L1514,442.7 L1513,449.6 L1512,458.5 L1511,473.3 L1510,490.5 L1509,510.0 L1508,520.0 L1507,520.0 L1506,520.0 L1505,520.0 L1504,520.0 L1503,516.5 L1502,511.5 L1501,509.6 L1500,503.6 L1499,498.2 L1498,494.2 L1497,490.5 L1496,480.1 L1495,468.7 L1494,463.3 L1493,468.1 L1492,472.4 L1491,473.3 L1490,473.3 L1489,473.3 L1488,473.3 L1487,473.3 L1486,467.6 L1485,462.8 L1484,461.3 L1483,466.9 L1482,483.7 L1481,486.7 L1480,486.7 L1479,486.7 L1478,486.7 L1477,486.7 L1476,477.8 L1475,470.9 L1474,504.9 L1473,533.3 L1472,533.3 L1471,533.3 L1470,533.3 L1469,533.3 L1468,523.4 L1467,506.1 L1466,500.3 L1465,483.9 L1464,470.0 L1463,468.8 L1462,449.6 L1461,433.7 L1460,420.8 L1459,406.3 L1458,397.3 L1457,444.8 L1456,453.3 L1455,453.3 L1454,453.3 L1453,453.3 L1452,453.3 L1451,448.9 L1450,442.4 L1449,434.7 L1448,434.7 L1447,442.7 L1446,468.1 L1445,490.0 L1444,490.0 L1443,490.0 L1442,490.0 L1441,490.0 L1440,488.1 L1439,477.8 L1438,476.9 L1437,470.5 L1436,458.7 L1435,454.6 L1434,454.6 L1433,454.6 L1432,454.6 L1431,454.6 L1430,451.3 L1429,448.8 L1428,448.8 L1427,449.9 L1426,464.7 L1425,477.7 L1424,485.1 L1423,488.9 L1422,498.1 L1421,514.5 L1420,526.9 L1419,530.4 L1418,533.8 L1417,535.3 L1416,535.3 L1415,556.6 L1414,563.5 L1413,563.5 L1412,568.5 L1411,570.0 L1410,570.0 L1409,570.0 L1408,570.0 L1407,570.0 L1406,555.1 L1405,541.2 L1404,534.4 L1403,534.4 L1402,522.1 L1401,527.0 L1400,529.5 L1399,537.9 L1398,543.7 L1397,544.9 L1396,544.9 L1395,544.9 L1394,544.9 L1393,544.9 L1392,543.9 L1391,534.2 L1390,526.4 L1389,526.4 L1388,526.4 L1387,523.2 L1386,538.7 L1385,548.9 L1384,559.2 L1383,570.6 L1382,587.0 L1381,590.0 L1380,590.0 L1379,590.0 L1378,590.0 L1377,590.0 L1376,578.1 L1375,562.2 L1374,536.3 L1373,519.5 L1372,518.4 L1371,518.4 L1370,518.4 L1369,512.0 L1368,500.8 L1367,497.1 L1366,484.3 L1365,469.4 L1364,455.7 L1363,449.5 L1362,456.8 L1361,465.7 L1360,485.6 L1359,489.1 L1358,500.8 L1357,520.5 L1356,524.2 L1355,536.9 L1354,552.1 L1353,567.3 L1352,583.7 L1351,586.7 L1350,586.7 L1349,586.7 L1348,586.7 L1347,586.7 L1346,577.2 L1345,569.4 L1344,561.2 L1343,534.8 L1342,534.8 L1341,526.3 L1340,517.4 L1339,517.4 L1338,513.0 L1337,524.8 L1336,542.2 L1335,556.6 L1334,573.0 L1333,592.0 L1332,609.9 L1331,613.3 L1330,613.3 L1329,613.3 L1328,613.3 L1327,613.3 L1326,613.2 L1325,613.2 L1324,613.2 L1323,617.1 L1322,628.0 L1321,638.0 L1320,658.5 L1319,668.9 L1318,673.3 L1317,673.3 L1316,673.3 L1315,673.3 L1314,673.3 L1313,663.4 L1312,644.5 L1311,630.9 L1310,613.4 L1309,594.5 L1308,576.6 L1307,575.6 L1306,585.9 L1305,588.3 L1304,593.2 L1303,594.2 L1302,596.7 L1301,607.6 L1300,607.6 L1299,607.6 L1298,607.6 L1297,607.6 L1296,606.7 L1295,606.7 L1294,606.7 L1293,603.3 L1292,599.5 L1291,599.5 L1290,616.2 L1289,645.1 L1288,660.0 L1287,660.0 L1286,660.0 L1285,660.0 L1284,660.0 L1283,646.6 L1282,621.8 L1281,602.7 L1280,596.6 L1279,591.8 L1278,583.1 L1277,557.3 L1276,548.3 L1275,537.4 L1274,530.3 L1273,542.2 L1272,557.5 L1271,560.0 L1270,560.0 L1269,560.3 L1268,566.5 L1267,569.3 L1266,569.3 L1265,572.0 L1264,573.4 L1263,573.4 L1262,573.4 L1261,592.5 L1260,625.3 L1259,661.6 L1258,680.0 L1257,680.0 L1256,680.0 L1255,680.0 L1254,680.0 L1253,676.4 L1252,676.4 L1251,676.4 L1250,667.1 L1249,657.3 L1248,649.0 L1247,646.7 L1246,635.4 L1245,628.1 L1244,625.2 L1243,610.8 L1242,595.2 L1241,596.7 L1240,598.0 L1239,606.7 L1238,607.1 L1237,607.1 L1236,607.1 L1235,607.1 L1234,612.3 L1233,618.0 L1232,618.0 L1231,623.7 L1230,637.4 L1229,648.1 L1228,660.4 L1227,663.8 L1226,674.1 L1225,690.0 L1224,690.0 L1223,690.0 L1222,690.0 L1221,690.0 L1220,687.6 L1219,674.3 L1218,663.2 L1217,656.0 L1216,651.3 L1215,640.1 L1214,645.6 L1213,649.5 L1212,655.7 L1211,656.8 L1210,660.0 L1209,666.8 L1208,675.4 L1207,684.9 L1206,690.4 L1205,690.4 L1204,690.4 L1203,690.4 L1202,690.4 L1201,687.5 L1200,681.9 L1199,675.5 L1198,663.6 L1197,671.5 L1196,701.8 L1195,726.7 L1194,726.7 L1193,726.7 L1192,726.7 L1191,726.7 L1190,722.7 L1189,699.3 L1188,680.5 L1187,665.3 L1186,660.2 L1185,660.2 L1184,660.2 L1183,660.2 L1182,653.2 L1181,642.3 L1180,639.8 L1179,637.1 L1178,634.3 L1177,633.3 L1176,630.1 L1175,626.2 L1174,621.8 L1173,620.7 L1172,620.7 L1171,619.1 L1170,628.4 L1169,633.8 L1168,645.5 L1167,663.3 L1166,687.6 L1165,711.4 L1164,732.9 L1163,743.3 L1162,743.3 L1161,743.3 L1160,743.3 L1159,743.3 L1158,737.5 L1157,726.8 L1156,724.9 L1155,723.0 L1154,716.2 L1153,706.9 L1152,694.9 L1151,678.6 L1150,663.3 L1149,659.2 L1148,672.9 L1147,675.7 L1146,678.1 L1145,683.0 L1144,704.3 L1143,724.2 L1142,743.2 L1141,746.7 L1140,746.7 L1139,746.7 L1138,746.7 L1137,746.7 L1136,739.9 L1135,728.2 L1134,713.9 L1133,707.2 L1132,725.9 L1131,743.7 L1130,753.5 L1129,766.4 L1128,773.3 L1127,773.3 L1126,773.3 L1125,773.3 L1124,773.3 L1123,757.9 L1122,728.0 L1121,692.7 L1120,693.4 L1119,693.4 L1118,708.8 L1117,715.1 L1116,721.3 L1115,726.7 L1114,726.7 L1113,726.7 L1112,726.7 L1111,726.7 L1110,725.8 L1109,722.1 L1108,716.5 L1107,738.4 L1106,764.8 L1105,787.1 L1104,790.5 L1103,791.5 L1102,791.5 L1101,791.5 L1100,791.5 L1099,791.5 L1098,780.0 L1097,765.5 L1096,754.1 L1095,746.1 L1094,737.3 L1093,727.1 L1092,716.7 L1091,716.7 L1090,712.7 L1089,691.5 L1088,714.0 L1087,733.5 L1086,744.4 L1085,746.7 L1084,746.7 L1083,746.7 L1082,746.7 L1081,746.7 L1080,746.2 L1079,744.4 L1078,736.8 L1077,736.8 L1076,736.8 L1075,736.8 L1074,742.0 L1073,759.9 L1072,770.8 L1071,792.6 L1070,813.3 L1069,813.7 L1068,814.1 L1067,814.1 L1066,814.1 L1065,814.1 L1064,814.1 L1063,809.2 L1062,800.4 L1061,787.6 L1060,775.2 L1059,767.1 L1058,763.8 L1057,753.5 L1056,742.2 L1055,742.2 L1054,737.1 L1053,737.1 L1052,738.6 L1051,742.0 L1050,742.0 L1049,742.0 L1048,742.9 L1047,743.5 L1046,749.0 L1045,754.5 L1044,757.9 L1043,760.8 L1042,771.5 L1041,777.1 L1040,783.3 L1039,790.0 L1038,790.0 L1037,790.0 L1036,790.0 L1035,790.0 L1034,786.0 L1033,765.1 L1032,742.2 L1031,721.0 L1030,721.0 L1029,714.1 L1028,706.8 L1027,716.2 L1026,727.6 L1025,742.1 L1024,748.3 L1023,755.0 L1022,763.9 L1021,772.1 L1020,782.9 L1019,793.3 L1018,793.4 L1017,793.5 L1016,793.5 L1015,793.5 L1014,793.5 L1013,793.5 L1012,777.6 L1011,766.3 L1010,761.0 L1009,758.1 L1008,766.9 L1007,768.8 L1006,770.8 L1005,779.6 L1004,787.6 L1003,793.3 L1002,796.7 L1001,796.7 L1000,796.7 L999,796.7 L998,796.7 L997,795.9 L996,795.9 L995,797.2 L994,799.9 L993,800.4 L992,800.4 L991,800.4 L990,800.4 L989,800.4 L988,793.5 L987,791.8 L986,791.8 L985,791.8 L984,808.0 L983,844.9 L982,878.7 L981,909.4 L980,935.8 L979,956.7 L978,956.7 L977,956.7 L976,956.7 L975,956.7 L974,949.2 L973,905.5 L972,859.2 L971,811.3 L970,811.3 L969,808.1 L968,817.3 L967,819.8 L966,819.8 L965,819.8 L964,819.8 L963,819.8 L962,820.7 L961,820.7 L960,820.7 L959,824.3 L958,831.6 L957,834.0 L956,835.2 L955,842.9 L954,845.7 L953,850.0 L952,855.7 L951,855.7 L950,855.7 L949,855.7 L948,855.7 L947,855.2 L946,850.0 L945,850.0 L944,847.6 L943,835.9 L942,826.0 L941,841.6 L940,876.0 L939,903.3 L938,903.3 L937,903.3 L936,903.3 L935,903.3 L934,899.9 L933,881.8 L932,881.8 L931,873.8 L930,861.0 L929,861.0 L928,865.4 L927,876.3 L926,893.7 L925,896.7 L924,896.7 L923,896.7 L922,896.7 L921,896.7 L920,883.8 L919,865.4 L918,836.2 L917,841.3 L916,851.1 L915,856.0 L914,859.4 L913,874.9 L912,884.8 L911,887.8 L910,889.0 L909,891.2 L908,894.4 L907,894.4 L906,897.5 L905,903.5 L904,903.5 L903,903.5 L902,903.5 L901,903.5 L900,903.3 L899,913.0 L898,921.4 L897,921.4 L896,925.7 L895,926.7 L894,926.7 L893,926.7 L892,926.7 L891,926.7 L890,895.8 L889,860.6 L888,857.1 L887,872.5 L886,875.7 L885,914.5 L884,957.8 L883,990.2 L882,1006.7 L881,1006.7 L880,1006.7 L879,1006.7 L878,1006.7 L877,997.8 L876,978.4 L875,951.0 L874,929.8 L873,912.1 L872,905.8 L871,908.7 L870,912.0 L869,916.7 L868,916.7 L867,916.7 L866,916.7 L865,916.7 L864,915.2 L863,911.1 L862,911.1 L861,909.8 L860,908.9 L859,909.4 L858,909.4 L857,913.4 L856,913.4 L855,913.4 L854,913.4 L853,913.4 L852,913.3 L851,913.3 L850,909.0 L849,909.0 L848,908.0 L847,906.4 L846,906.4 L845,903.9 L844,898.0 L843,889.1 L842,891.3 L841,896.1 L840,901.6 L839,915.5 L838,920.0 L837,920.0 L836,930.8 L835,933.3 L834,933.3 L833,933.3 L832,933.3 L831,933.3 L830,928.4 L829,924.1 L828,920.9 L827,919.2 L826,922.4 L825,926.3 L824,929.2 L823,938.0 L822,945.3 L821,950.8 L820,960.6 L819,964.4 L818,967.7 L817,972.1 L816,975.8 L815,987.0 L814,1000.8 L813,1015.5 L812,1023.3 L811,1023.3 L810,1023.3 L809,1023.3 L808,1023.3 L807,1016.9 L806,1005.0 L805,993.2 L804,989.4 L803,982.3 L802,971.1 L801,961.4 L800,956.7 L799,953.4 L798,950.0 L797,931.6 L796,931.5 L795,942.8 L794,960.2 L793,968.5 L792,994.2 L791,1036.0 L790,1079.8 L789,1116.7 L788,1116.7 L787,1116.7 L786,1116.7 L785,1116.7 L784,1116.2 L783,1113.5 L782,1103.4 L781,1085.2 L780,1061.9 L779,1043.3 L778,1043.3 L777,1038.5 L776,1029.2 L775,1022.7 L774,1022.7 L773,1014.9 L772,1000.7 L771,995.8 L770,995.8 L769,995.8 L768,995.8 L767,996.7 L766,996.7 L765,996.7 L764,996.8 L763,1000.1 L762,1000.1 L761,1000.1 L760,1000.1 L759,1000.1 L758,999.2 L757,996.7 L756,996.7 L755,996.7 L754,995.2 L753,989.1 L752,983.4 L751,978.1 L750,973.7 L749,976.1 L748,980.9 L747,986.8 L746,994.6 L745,1005.6 L744,1017.0 L743,1027.9 L742,1033.3 L741,1033.3 L740,1033.3 L739,1033.3 L738,1033.3 L737,1028.4 L736,1023.6 L735,1023.6 L734,1023.6 L733,1014.8 L732,1006.7 L731,1006.7 L730,1001.3 L729,1012.0 L728,1027.2 L727,1046.9 L726,1060.8 L725,1063.3 L724,1063.3 L723,1063.3 L722,1063.3 L721,1063.3 L720,1061.7 L719,1060.3 L718,1058.8 L717,1053.9 L716,1053.9 L715,1051.0 L714,1048.0 L713,1048.0 L712,1046.0 L711,1044.9 L710,1044.9 L709,1044.9 L708,1043.7 L707,1038.8 L706,1030.3 L705,1021.9 L704,1013.0 L703,1009.2 L702,1014.3 L701,1021.7 L700,1026.0 L699,1027.2 L698,1033.0 L697,1041.3 L696,1050.1 L695,1058.4 L694,1061.7 L693,1067.4 L692,1077.6 L691,1081.9 L690,1087.6 L689,1093.3 L688,1094.7 L687,1095.2 L686,1095.2 L685,1095.2 L684,1095.2 L683,1095.2 L682,1096.8 L681,1097.1 L680,1097.1 L679,1097.1 L678,1097.1 L677,1097.1 L676,1096.1 L675,1092.8 L674,1088.8 L673,1089.4 L672,1089.9 L671,1089.9 L670,1089.9 L669,1089.9 L668,1089.9 L667,1089.9 L666,1089.8 L665,1090.0 L664,1090.0 L663,1090.0 L662,1090.0 L661,1090.0 L660,1079.5 L659,1068.3 L658,1074.0 L657,1078.2 L656,1085.2 L655,1088.6 L654,1091.0 L653,1093.2 L652,1093.3 L651,1099.0 L650,1102.8 L649,1102.8 L648,1102.8 L647,1103.0 L646,1106.9 L645,1110.2 L644,1111.7 L643,1114.9 L642,1118.1 L641,1120.9 L640,1120.9 L639,1120.9 L638,1122.6 L637,1123.3 L636,1123.3 L635,1123.3 L634,1124.0 L633,1124.3 L632,1126.0 L631,1127.3 L630,1129.3 L629,1131.7 L628,1131.7 L627,1131.7 L626,1133.4 L625,1133.4 L624,1133.4 L623,1134.8 L622,1137.0 L621,1138.2 L620,1141.1 L619,1141.6 L618,1141.6 L617,1141.6 L616,1141.6 L615,1141.6 L614,1140.0 L613,1140.0 L612,1140.0 L611,1143.2 L610,1157.4 L609,1169.1 L608,1186.0 L607,1217.7 L606,1236.5 L605,1246.4 L604,1285.3 L603,1309.1 L602,1320.0 L601,1320.0 L600,1320.0 L599,1320.0 L598,1320.0 L597,1307.1 L596,1281.8 L595,1248.4 L594,1230.2 L593,1230.2 L592,1230.2 L591,1230.2 L590,1229.3 L589,1226.5 L588,1218.9 L587,1218.9 L586,1218.9 L585,1218.9 L584,1217.7 L583,1217.7 L582,1218.0 L581,1219.4 L580,1219.4 L579,1219.4 L578,1219.4 L577,1219.4 L576,1217.1 L575,1217.1 L574,1217.1 L573,1216.4 L572,1215.2 L571,1214.1 L570,1214.1 L569,1210.7 L568,1206.6 L567,1206.6 L566,1202.1 L565,1203.4 L564,1204.7 L563,1206.2 L562,1208.6 L561,1208.7 L560,1209.2 L559,1210.0 L558,1211.7 L557,1213.0 L556,1213.9 L555,1214.2 L554,1216.3 L553,1220.7 L552,1226.7 L551,1229.6 L550,1231.0 L549,1231.0 L548,1231.1 L547,1234.9 L546,1238.7 L545,1238.7 L544,1239.9 L543,1242.8 L542,1242.8 L541,1242.9 L540,1246.3 L539,1250.5 L538,1255.1 L537,1257.9 L536,1262.6 L535,1267.9 L534,1267.9 L533,1267.9 L532,1272.5 L531,1279.4 L530,1293.3 L529,1297.6 L528,1300.4 L527,1305.0 L526,1314.7 L525,1316.7 L524,1316.7 L523,1316.7 L522,1316.7 L521,1316.7 L520,1309.7 L519,1302.3 L518,1295.5 L517,1288.1 L516,1288.9 L515,1297.1 L514,1304.0 L513,1308.0 L512,1310.0 L511,1310.0 L510,1316.6 L509,1318.1 L508,1318.1 L507,1318.1 L506,1318.1 L505,1320.9 L504,1327.2 L503,1334.1 L502,1342.4 L501,1351.1 L500,1358.4 L499,1363.3 L498,1363.3 L497,1363.3 L496,1363.3 L495,1363.3 L494,1362.9 L493,1362.5 L492,1362.5 L491,1361.1 L490,1359.4 L489,1359.0 L488,1359.0 L487,1360.0 L486,1362.9 L485,1363.3 L484,1363.3 L483,1363.3 L482,1363.3 L481,1363.3 L480,1361.1 L479,1359.8 L478,1358.9 L477,1354.8 L476,1353.4 L475,1352.9 L474,1351.0 L473,1353.3 L472,1353.8 L471,1354.0 L470,1354.4 L469,1356.7 L468,1358.4 L467,1364.2 L466,1367.9 L465,1368.4 L464,1370.6 L463,1374.3 L462,1380.1 L461,1386.6 L460,1389.4 L459,1393.2 L458,1396.5 L457,1399.4 L456,1405.7 L455,1409.5 L454,1411.9 L453,1411.9 L452,1412.3 L451,1420.2 L450,1424.1 L449,1424.1 L448,1424.5 L447,1425.6 L446,1426.7 L445,1428.5 L444,1428.6 L443,1431.5 L442,1433.5 L441,1433.8 L440,1435.2 L439,1436.0 L438,1436.7 L437,1436.7 L436,1438.7 L435,1439.6 L434,1439.6 L433,1439.6 L432,1440.3 L431,1444.7 L430,1447.6 L429,1447.6 L428,1451.8 L427,1457.2 L426,1460.2 L425,1460.2 L424,1465.1 L423,1466.1 L422,1469.1 L421,1484.0 L420,1484.0 L419,1485.4 L418,1488.9 L417,1488.9 L416,1488.9 L415,1492.3 L414,1503.6 L413,1514.6 L412,1514.6 L411,1515.7 L410,1520.1 L409,1527.1 L408,1527.1 L407,1530.8 L406,1537.0 L405,1537.0 L404,1544.6 L403,1551.9 L402,1556.2 L401,1556.4 L400,1556.5 L399,1556.5 L398,1556.5 L397,1556.5 L396,1556.5 L395,1554.5 L394,1553.1 L393,1553.1 L392,1553.1 L391,1553.1 L390,1549.7 L389,1545.9 L388,1542.6 L387,1541.8 L386,1541.0 L385,1538.6 L384,1538.2 L383,1537.7 L382,1535.9 L381,1538.0 L380,1541.5 L379,1541.5 L378,1541.5 L377,1542.1 L376,1542.1 L375,1542.1 L374,1542.1 L373,1542.1 L372,1541.6 L371,1536.7 L370,1534.7 L369,1535.5 L368,1537.8 L367,1539.7 L366,1542.1 L365,1542.8 L364,1543.5 L363,1543.5 L362,1543.5 L361,1547.2 L360,1556.1 L359,1567.8 L358,1576.6 L357,1576.6 L356,1576.6 L355,1576.6 L354,1576.6 L353,1574.6 L352,1567.2 L351,1560.4 L350,1565.9 L349,1575.1 L348,1579.4 L347,1582.2 L346,1585.5 L345,1588.3 L344,1590.7 L343,1590.7 L342,1590.7 L341,1593.0 L340,1593.4 L339,1593.8 L338,1593.8 L337,1593.8 L336,1593.8 L335,1593.8 L334,1592.3 L333,1590.3 L332,1587.8 L331,1600.0 L330,1620.4 L329,1620.4 L328,1620.4 L327,1620.4 L326,1620.4 L325,1620.0 L324,1618.0 L323,1614.7 L322,1609.5 L321,1608.6 L320,1610.3 L319,1614.2 L318,1619.6 L317,1622.1 L316,1622.4 L315,1623.3 L314,1623.7 L313,1623.7 L312,1624.6 L311,1634.5 L310,1634.5 L309,1634.5Z" fill="#FFC000" stroke="#FFC000" stroke-width="7" stroke-linejoin="round"/>
<path d="M313,1635.1 L314,1632.1 L315,1626.1 L316,1621.2 L317,1618.3 L318,1617.3 L319,1617.3 L320,1617.3 L321,1617.3 L322,1617.3 L323,1619.2 L324,1622.0 L325,1624.9 L326,1625.9 L327,1621.6 L328,1615.7 L329,1614.2 L330,1614.2 L331,1614.2 L332,1614.2 L333,1614.2 L334,1614.2 L335,1614.2 L336,1614.2 L337,1614.2 L338,1609.7 L339,1605.8 L340,1603.9 L341,1602.6 L342,1600.6 L343,1597.8 L344,1594.0 L345,1589.7 L346,1585.0 L347,1580.2 L348,1579.7 L349,1579.7 L350,1579.7 L351,1579.7 L352,1579.7 L353,1587.2 L354,1593.1 L355,1591.7 L356,1581.0 L357,1573.7 L358,1568.8 L359,1566.3 L360,1564.3 L361,1564.1 L362,1564.1 L363,1564.1 L364,1564.1 L365,1564.1 L366,1564.1 L367,1553.4 L368,1548.4 L369,1548.4 L370,1548.4 L371,1548.4 L372,1548.4 L373,1548.5 L374,1548.9 L375,1549.8 L376,1551.7 L377,1554.7 L378,1557.7 L379,1555.3 L380,1553.8 L381,1549.3 L382,1546.8 L383,1546.8 L384,1545.2 L385,1543.4 L386,1543.4 L387,1543.4 L388,1543.4 L389,1543.4 L390,1543.9 L391,1543.9 L392,1543.9 L393,1543.9 L394,1543.9 L395,1545.4 L396,1547.3 L397,1547.7 L398,1544.2 L399,1537.4 L400,1531.6 L401,1523.8 L402,1516.0 L403,1508.0 L404,1504.2 L405,1503.2 L406,1498.2 L407,1494.7 L408,1493.0 L409,1490.6 L410,1488.3 L411,1486.1 L412,1483.9 L413,1481.1 L414,1473.1 L415,1462.2 L416,1451.3 L417,1451.3 L418,1451.3 L419,1451.3 L420,1451.3 L421,1451.8 L422,1455.3 L423,1460.7 L424,1463.8 L425,1463.8 L426,1463.8 L427,1463.8 L428,1472.8 L429,1479.5 L430,1479.5 L431,1479.5 L432,1479.5 L433,1479.5 L434,1473.9 L435,1467.0 L436,1466.4 L437,1464.8 L438,1462.3 L439,1462.3 L440,1462.3 L441,1462.3 L442,1462.3 L443,1462.7 L444,1464.6 L445,1463.7 L446,1456.3 L447,1438.9 L448,1429.6 L449,1428.3 L450,1424.9 L451,1424.4 L452,1422.8 L453,1419.4 L454,1419.4 L455,1419.4 L456,1419.4 L457,1419.4 L458,1419.6 L459,1420.0 L460,1431.9 L461,1443.8 L462,1452.4 L463,1430.1 L464,1407.3 L465,1398.4 L466,1394.9 L467,1394.9 L468,1394.9 L469,1394.9 L470,1394.9 L471,1396.7 L472,1396.7 L473,1396.7 L474,1396.7 L475,1396.7 L476,1398.6 L477,1409.4 L478,1416.0 L479,1413.1 L480,1409.2 L481,1403.3 L482,1400.7 L483,1398.6 L484,1396.4 L485,1394.1 L486,1394.1 L487,1394.0 L488,1391.8 L489,1387.9 L490,1387.9 L491,1387.9 L492,1387.9 L493,1382.8 L494,1378.4 L495,1378.4 L496,1378.4 L497,1378.4 L498,1378.4 L499,1379.7 L500,1379.7 L501,1379.7 L502,1382.4 L503,1406.8 L504,1434.0 L505,1406.1 L506,1385.3 L507,1372.5 L508,1358.2 L509,1337.7 L510,1311.4 L511,1286.7 L512,1286.7 L513,1286.7 L514,1286.7 L515,1286.7 L516,1288.7 L517,1297.6 L518,1313.5 L519,1325.8 L520,1333.8 L521,1323.3 L522,1322.4 L523,1321.9 L524,1321.9 L525,1320.8 L526,1320.8 L527,1320.8 L528,1320.8 L529,1320.8 L530,1323.8 L531,1332.2 L532,1330.0 L533,1330.0 L534,1330.0 L535,1330.0 L536,1326.2 L537,1318.4 L538,1304.5 L539,1293.1 L540,1283.9 L541,1276.7 L542,1276.7 L543,1276.7 L544,1276.7 L545,1276.7 L546,1277.1 L547,1277.0 L548,1277.0 L549,1277.0 L550,1277.0 L551,1277.0 L552,1280.8 L553,1283.0 L554,1282.0 L555,1279.6 L556,1274.4 L557,1273.4 L558,1272.4 L559,1268.7 L560,1259.0 L561,1252.2 L562,1248.8 L563,1248.8 L564,1244.3 L565,1243.3 L566,1243.3 L567,1243.3 L568,1243.3 L569,1243.3 L570,1250.2 L571,1258.0 L572,1264.9 L573,1272.6 L574,1267.8 L575,1262.0 L576,1251.7 L577,1243.9 L578,1240.0 L579,1240.0 L580,1240.0 L581,1240.0 L582,1240.0 L583,1241.4 L584,1242.9 L585,1243.3 L586,1238.6 L587,1238.1 L588,1238.1 L589,1238.1 L590,1238.1 L591,1238.1 L592,1246.0 L593,1258.4 L594,1270.4 L595,1251.6 L596,1233.9 L597,1214.2 L598,1200.9 L599,1194.9 L600,1190.8 L601,1188.9 L602,1188.9 L603,1188.9 L604,1188.9 L605,1183.9 L606,1181.0 L607,1173.8 L608,1170.0 L609,1170.0 L610,1170.0 L611,1170.0 L612,1170.0 L613,1175.8 L614,1186.5 L615,1206.4 L616,1209.6 L617,1196.8 L618,1190.0 L619,1190.0 L620,1180.3 L621,1176.4 L622,1176.4 L623,1169.4 L624,1166.9 L625,1166.9 L626,1166.6 L627,1162.4 L628,1160.0 L629,1160.0 L630,1160.0 L631,1160.0 L632,1160.0 L633,1169.4 L634,1186.5 L635,1177.1 L636,1175.6 L637,1175.6 L638,1175.6 L639,1159.3 L640,1150.0 L641,1146.7 L642,1146.7 L643,1146.7 L644,1146.7 L645,1146.7 L646,1150.7 L647,1163.9 L648,1163.9 L649,1169.8 L650,1181.7 L651,1170.3 L652,1151.4 L653,1138.6 L654,1131.9 L655,1126.2 L656,1119.4 L657,1114.5 L658,1109.7 L659,1098.7 L660,1096.7 L661,1096.7 L662,1096.7 L663,1096.7 L664,1096.7 L665,1102.1 L666,1108.0 L667,1114.9 L668,1121.8 L669,1129.0 L670,1132.8 L671,1133.4 L672,1133.8 L673,1134.6 L674,1132.4 L675,1129.5 L676,1126.7 L677,1126.5 L678,1126.5 L679,1126.5 L680,1126.5 L681,1126.5 L682,1126.5 L683,1127.9 L684,1128.8 L685,1130.2 L686,1132.3 L687,1130.9 L688,1126.1 L689,1117.2 L690,1108.3 L691,1100.0 L692,1094.2 L693,1089.3 L694,1078.6 L695,1074.9 L696,1073.1 L697,1073.1 L698,1073.1 L699,1073.1 L700,1071.9 L701,1070.0 L702,1070.0 L703,1070.0 L704,1070.0 L705,1070.0 L706,1071.5 L707,1079.0 L708,1091.2 L709,1095.8 L710,1072.6 L711,1053.3 L712,1053.3 L713,1053.3 L714,1053.3 L715,1053.3 L716,1054.3 L717,1059.2 L718,1068.5 L719,1081.4 L720,1088.3 L721,1096.8 L722,1108.1 L723,1094.3 L724,1079.6 L725,1075.2 L726,1071.3 L727,1065.3 L728,1065.3 L729,1065.3 L730,1065.3 L731,1065.3 L732,1067.8 L733,1070.0 L734,1070.0 L735,1070.0 L736,1072.0 L737,1081.5 L738,1095.9 L739,1099.6 L740,1074.2 L741,1052.8 L742,1049.4 L743,1048.5 L744,1048.5 L745,1043.9 L746,1038.0 L747,1034.6 L748,1034.6 L749,1034.6 L750,1034.6 L751,1029.5 L752,1023.7 L753,1022.7 L754,1022.7 L755,1017.5 L756,1017.5 L757,1013.9 L758,1010.0 L759,1010.0 L760,1010.0 L761,1010.0 L762,1010.0 L763,1014.8 L764,1022.0 L765,1024.9 L766,1039.3 L767,1041.7 L768,1036.7 L769,1036.7 L770,1036.7 L771,1036.7 L772,1036.7 L773,1042.1 L774,1043.8 L775,1043.8 L776,1041.9 L777,1040.8 L778,1031.8 L779,1011.1 L780,993.3 L781,983.3 L782,983.3 L783,983.3 L784,983.3 L785,983.3 L786,989.3 L787,1022.1 L788,1001.2 L789,990.3 L790,990.3 L791,990.3 L792,990.3 L793,990.3 L794,991.3 L795,1001.0 L796,1008.9 L797,1008.9 L798,1008.9 L799,1009.3 L800,1009.3 L801,1009.3 L802,1009.3 L803,1009.3 L804,1009.7 L805,1011.1 L806,1012.9 L807,1013.0 L808,1013.0 L809,1015.4 L810,1016.7 L811,1016.7 L812,1016.7 L813,1023.5 L814,1026.0 L815,1026.0 L816,1015.0 L817,998.7 L818,998.7 L819,978.8 L820,957.3 L821,943.3 L822,943.3 L823,943.3 L824,943.3 L825,943.3 L826,947.3 L827,969.0 L828,988.7 L829,976.9 L830,971.0 L831,970.0 L832,970.0 L833,970.0 L834,968.1 L835,964.7 L836,961.5 L837,960.6 L838,960.6 L839,960.6 L840,960.6 L841,960.6 L842,962.4 L843,967.8 L844,976.3 L845,981.9 L846,981.9 L847,985.4 L848,982.7 L849,971.9 L850,964.2 L851,959.5 L852,956.5 L853,955.5 L854,955.5 L855,955.5 L856,955.5 L857,955.5 L858,958.9 L859,958.9 L860,958.0 L861,958.0 L862,958.0 L863,958.0 L864,958.0 L865,960.4 L866,963.8 L867,965.5 L868,974.8 L869,959.7 L870,951.5 L871,946.7 L872,946.7 L873,946.7 L874,946.7 L875,946.7 L876,953.1 L877,989.0 L878,1004.2 L879,981.9 L880,969.1 L881,965.7 L882,958.8 L883,956.8 L884,956.8 L885,956.8 L886,949.0 L887,944.0 L888,944.0 L889,935.5 L890,930.6 L891,930.6 L892,930.6 L893,930.6 L894,930.6 L895,931.9 L896,935.3 L897,946.3 L898,953.7 L899,959.9 L900,965.7 L901,972.6 L902,978.2 L903,978.2 L904,976.0 L905,974.1 L906,974.1 L907,974.1 L908,973.3 L909,965.9 L910,952.5 L911,937.5 L912,920.6 L913,906.2 L914,894.3 L915,885.0 L916,876.7 L917,876.7 L918,876.7 L919,876.7 L920,876.7 L921,878.7 L922,890.1 L923,904.0 L924,920.7 L925,914.1 L926,914.1 L927,912.9 L928,908.6 L929,904.8 L930,899.6 L931,894.9 L932,889.6 L933,886.3 L934,885.6 L935,885.6 L936,885.6 L937,885.6 L938,885.6 L939,887.1 L940,897.6 L941,907.0 L942,914.0 L943,916.3 L944,911.8 L945,902.5 L946,898.3 L947,893.0 L948,890.0 L949,890.0 L950,890.0 L951,890.0 L952,890.0 L953,891.5 L954,894.4 L955,899.0 L956,899.0 L957,899.9 L958,899.3 L959,897.4 L960,897.4 L961,891.8 L962,887.1 L963,883.4 L964,877.6 L965,876.7 L966,876.7 L967,876.7 L968,876.7 L969,876.7 L970,896.6 L971,912.1 L972,901.9 L973,899.1 L974,885.8 L975,883.3 L976,883.3 L977,883.3 L978,883.3 L979,883.3 L980,883.9 L981,883.9 L982,884.9 L983,888.7 L984,883.6 L985,872.9 L986,855.1 L987,849.2 L988,846.7 L989,846.7 L990,846.7 L991,846.7 L992,846.7 L993,852.0 L994,862.3 L995,865.0 L996,867.7 L997,870.9 L998,875.8 L999,883.1 L1000,894.5 L1001,883.0 L1002,862.1 L1003,856.7 L1004,850.9 L1005,843.6 L1006,832.4 L1007,822.1 L1008,816.7 L1009,816.7 L1010,816.7 L1011,816.7 L1012,816.7 L1013,831.5 L1014,860.2 L1015,870.9 L1016,864.1 L1017,861.6 L1018,858.5 L1019,849.8 L1020,849.8 L1021,849.8 L1022,849.0 L1023,849.0 L1024,844.3 L1025,843.3 L1026,843.3 L1027,843.3 L1028,843.3 L1029,843.3 L1030,845.6 L1031,850.5 L1032,857.9 L1033,861.4 L1034,862.0 L1035,861.3 L1036,856.5 L1037,855.1 L1038,852.5 L1039,849.3 L1040,849.3 L1041,848.4 L1042,846.2 L1043,843.0 L1044,840.4 L1045,839.8 L1046,839.3 L1047,839.3 L1048,836.4 L1049,835.9 L1050,835.9 L1051,832.6 L1052,825.8 L1053,824.3 L1054,824.3 L1055,824.3 L1056,824.3 L1057,824.3 L1058,826.2 L1059,836.0 L1060,846.4 L1061,846.4 L1062,859.8 L1063,869.6 L1064,854.6 L1065,850.8 L1066,842.4 L1067,830.0 L1068,830.0 L1069,830.0 L1070,830.0 L1071,830.0 L1072,832.0 L1073,834.6 L1074,834.6 L1075,834.6 L1076,834.6 L1077,842.0 L1078,843.5 L1079,833.0 L1080,826.6 L1081,816.1 L1082,806.7 L1083,806.7 L1084,806.7 L1085,806.7 L1086,806.7 L1087,808.1 L1088,814.5 L1089,817.4 L1090,821.8 L1091,829.9 L1092,846.2 L1093,846.2 L1094,838.4 L1095,826.7 L1096,813.0 L1097,806.6 L1098,795.3 L1099,785.5 L1100,785.5 L1101,785.5 L1102,785.5 L1103,785.5 L1104,785.9 L1105,786.7 L1106,804.1 L1107,825.6 L1108,828.0 L1109,818.2 L1110,808.7 L1111,806.7 L1112,806.7 L1113,806.7 L1114,806.7 L1115,806.7 L1116,809.6 L1117,816.0 L1118,825.9 L1119,837.9 L1120,832.2 L1121,824.0 L1122,811.7 L1123,808.0 L1124,806.7 L1125,806.7 L1126,806.7 L1127,806.7 L1128,806.7 L1129,809.5 L1130,813.5 L1131,813.8 L1132,822.1 L1133,810.8 L1134,800.4 L1135,792.0 L1136,790.0 L1137,790.0 L1138,790.0 L1139,790.0 L1140,790.0 L1141,792.4 L1142,793.5 L1143,794.6 L1144,803.7 L1145,803.7 L1146,800.6 L1147,795.9 L1148,789.2 L1149,781.8 L1150,780.5 L1151,780.0 L1152,780.0 L1153,780.0 L1154,780.0 L1155,780.0 L1156,801.4 L1157,808.1 L1158,792.3 L1159,783.5 L1160,772.0 L1161,770.0 L1162,770.0 L1163,770.0 L1164,770.0 L1165,770.0 L1166,776.9 L1167,778.9 L1168,779.9 L1169,782.0 L1170,772.1 L1171,772.1 L1172,768.3 L1173,761.9 L1174,757.6 L1175,751.4 L1176,750.0 L1177,750.0 L1178,750.0 L1179,750.0 L1180,750.0 L1181,750.4 L1182,759.5 L1183,778.8 L1184,786.2 L1185,793.4 L1186,790.6 L1187,783.3 L1188,783.2 L1189,783.1 L1190,783.1 L1191,783.1 L1192,783.1 L1193,783.1 L1194,796.0 L1195,809.3 L1196,798.6 L1197,766.7 L1198,766.7 L1199,766.7 L1200,766.7 L1201,766.7 L1202,768.6 L1203,777.3 L1204,782.0 L1205,782.6 L1206,782.6 L1207,782.6 L1208,788.5 L1209,797.6 L1210,788.8 L1211,777.5 L1212,777.0 L1213,768.8 L1214,763.3 L1215,763.3 L1216,763.3 L1217,763.3 L1218,763.3 L1219,766.6 L1220,771.1 L1221,771.1 L1222,782.8 L1223,779.0 L1224,765.0 L1225,758.1 L1226,752.1 L1227,746.7 L1228,746.0 L1229,745.7 L1230,745.7 L1231,745.7 L1232,745.7 L1233,745.7 L1234,749.6 L1235,749.6 L1236,749.6 L1237,752.9 L1238,756.8 L1239,751.6 L1240,744.7 L1241,744.7 L1242,744.7 L1243,739.2 L1244,733.3 L1245,733.3 L1246,733.3 L1247,733.3 L1248,733.3 L1249,744.2 L1250,764.9 L1251,782.1 L1252,771.5 L1253,763.8 L1254,759.0 L1255,756.5 L1256,753.8 L1257,743.9 L1258,737.0 L1259,736.3 L1260,736.3 L1261,733.1 L1262,727.1 L1263,727.1 L1264,727.1 L1265,725.5 L1266,723.9 L1267,723.3 L1268,723.3 L1269,723.3 L1270,723.3 L1271,723.3 L1272,724.8 L1273,731.6 L1274,734.8 L1275,738.2 L1276,745.1 L1277,752.8 L1278,758.6 L1279,761.3 L1280,764.8 L1281,763.2 L1282,750.8 L1283,745.8 L1284,743.3 L1285,743.3 L1286,743.3 L1287,743.3 L1288,743.3 L1289,748.3 L1290,756.7 L1291,757.9 L1292,759.7 L1293,757.9 L1294,757.9 L1295,756.8 L1296,748.1 L1297,743.3 L1298,743.3 L1299,743.3 L1300,743.3 L1301,743.3 L1302,744.3 L1303,748.0 L1304,752.9 L1305,754.3 L1306,750.5 L1307,748.0 L1308,747.5 L1309,739.6 L1310,734.3 L1311,733.3 L1312,733.3 L1313,728.6 L1314,728.1 L1315,728.1 L1316,726.5 L1317,725.9 L1318,724.8 L1319,723.5 L1320,723.4 L1321,723.3 L1322,723.3 L1323,723.3 L1324,723.3 L1325,723.3 L1326,724.3 L1327,724.2 L1328,722.3 L1329,722.3 L1330,722.3 L1331,722.3 L1332,722.3 L1333,720.1 L1334,704.7 L1335,701.8 L1336,701.7 L1337,693.3 L1338,693.3 L1339,693.3 L1340,693.3 L1341,693.3 L1342,697.8 L1343,724.0 L1344,730.3 L1345,721.4 L1346,710.7 L1347,700.0 L1348,700.0 L1349,697.3 L1350,693.0 L1351,692.7 L1352,686.7 L1353,682.3 L1354,682.3 L1355,677.6 L1356,672.7 L1357,672.7 L1358,672.7 L1359,672.7 L1360,671.0 L1361,670.0 L1362,670.0 L1363,670.0 L1364,670.0 L1365,670.0 L1366,676.7 L1367,685.1 L1368,695.5 L1369,707.8 L1370,714.6 L1371,712.3 L1372,711.0 L1373,706.2 L1374,703.3 L1375,703.3 L1376,703.3 L1377,703.3 L1378,703.3 L1379,707.8 L1380,714.9 L1381,715.2 L1382,724.2 L1383,732.6 L1384,723.9 L1385,722.2 L1386,710.9 L1387,700.0 L1388,700.0 L1389,700.0 L1390,700.0 L1391,700.0 L1392,700.9 L1393,706.1 L1394,711.4 L1395,714.6 L1396,717.3 L1397,725.6 L1398,726.1 L1399,723.4 L1400,717.6 L1401,716.7 L1402,716.7 L1403,716.7 L1404,716.7 L1405,716.7 L1406,717.5 L1407,720.3 L1408,721.9 L1409,721.9 L1410,718.9 L1411,711.0 L1412,702.0 L1413,696.2 L1414,693.0 L1415,692.2 L1416,692.2 L1417,692.2 L1418,692.2 L1419,692.2 L1420,690.5 L1421,688.6 L1422,688.6 L1423,688.0 L1424,686.7 L1425,686.4 L1426,674.2 L1427,668.8 L1428,666.2 L1429,665.4 L1430,661.0 L1431,660.0 L1432,660.0 L1433,660.0 L1434,660.0 L1435,660.0 L1436,680.9 L1437,703.3 L1438,697.4 L1439,689.0 L1440,673.0 L1441,670.0 L1442,670.0 L1443,659.3 L1444,659.3 L1445,657.9 L1446,655.5 L1447,655.5 L1448,655.5 L1449,650.8 L1450,644.6 L1451,642.4 L1452,642.4 L1453,640.7 L1454,636.7 L1455,636.7 L1456,636.7 L1457,636.7 L1458,636.7 L1459,643.1 L1460,655.9 L1461,667.7 L1462,673.1 L1463,673.1 L1464,673.1 L1465,673.1 L1466,673.3 L1467,673.3 L1468,673.3 L1469,674.7 L1470,677.4 L1471,680.1 L1472,676.4 L1473,672.5 L1474,670.0 L1475,670.0 L1476,670.0 L1477,670.0 L1478,670.0 L1479,687.4 L1480,701.7 L1481,695.9 L1482,692.0 L1483,686.7 L1484,683.3 L1485,683.3 L1486,683.3 L1487,683.3 L1488,683.3 L1489,684.2 L1490,686.0 L1491,688.9 L1492,688.9 L1493,689.7 L1494,683.3 L1495,681.8 L1496,681.8 L1497,676.7 L1498,676.7 L1499,676.7 L1500,676.7 L1501,676.7 L1502,678.1 L1503,686.5 L1504,683.3 L1505,678.9 L1506,677.8 L1507,669.6 L1508,663.4 L1509,658.7 L1510,654.3 L1511,652.9 L1512,652.1 L1513,651.5 L1514,650.2 L1515,649.2 L1516,649.2 L1517,647.5 L1518,646.5 L1519,646.5 L1520,646.5 L1521,644.7 L1522,637.4 L1523,630.6 L1524,626.7 L1525,626.7 L1526,626.7 L1527,626.7 L1528,626.7 L1529,639.1 L1530,662.9 L1531,653.8 L1532,641.9 L1533,632.1 L1534,623.8 L1535,617.1 L1536,617.1 L1537,617.1 L1538,617.1 L1539,617.1 L1540,617.5 L1541,614.0 L1542,610.0 L1543,606.7 L1544,603.9 L1545,601.0 L1546,600.0 L1547,600.0 L1548,600.0 L1549,600.0 L1550,600.0 L1551,605.8 L1552,611.2 L1553,615.1 L1554,618.0 L1555,620.7 L1556,624.9 L1557,632.9 L1558,635.7 L1559,639.1 L1560,643.0 L1561,643.4 L1562,643.4 L1563,643.8 L1564,645.8 L1565,648.6 L1566,645.6 L1567,642.7 L1568,636.8 L1569,633.3 L1570,633.3 L1571,633.3 L1572,633.3 L1573,633.3 L1574,646.8 L1575,670.2 L1576,670.2 L1577,666.1 L1578,663.7 L1579,663.7 L1580,663.7 L1581,663.7 L1582,663.2 L1583,660.4 L1584,654.6 L1585,653.1 L1586,652.5 L1587,646.7 L1588,646.7 L1589,646.7 L1590,646.7 L1591,646.7 L1592,649.6 L1593,665.4 L1594,660.9 L1595,651.1 L1596,640.7 L1597,638.3 L1598,636.9 L1599,634.2 L1600,625.3 L1601,623.3 L1602,622.1 L1603,617.4 L1604,617.4 L1605,617.4 L1606,617.4 L1607,616.0 L1608,616.0 L1609,616.0 L1610,616.0 L1611,610.9 L1612,610.9 L1613,610.9 L1614,610.9 L1615,610.9 L1616,611.9 L1617,613.3 L1618,613.3 L1619,617.2 L1620,623.9 L1621,623.7 L1622,622.9 L1623,616.2 L1624,602.9 L1625,601.9 L1626,600.7 L1627,599.5 L1628,593.7 L1629,590.3 L1630,587.0 L1631,583.3 L1632,580.4 L1633,575.5 L1634,569.1 L1635,568.3 L1636,564.9 L1637,560.0 L1638,560.0 L1639,560.0 L1640,560.0 L1641,560.0 L1642,561.5 L1643,569.4 L1644,573.6 L1645,575.4 L1646,577.6 L1647,589.2 L1648,594.7 L1649,598.1 L1650,601.0 L1651,601.1 L1652,601.1 L1653,602.6 L1654,608.5 L1655,608.9 L1656,606.4 L1657,605.5 L1658,602.0 L1659,593.7 L1660,593.5 L1661,593.3 L1662,593.3 L1663,593.3 L1664,593.3 L1665,593.3 L1666,607.2 L1667,624.1 L1668,641.9 L1669,636.1 L1670,634.1 L1671,629.6 L1672,615.3 L1673,613.7 L1674,613.3 L1675,613.3 L1676,613.3 L1677,613.3 L1678,613.3 L1679,618.7 L1680,627.5 L1681,631.7 L1682,637.0 L1683,641.0 L1684,634.7 L1685,621.7 L1686,613.6 L1687,612.4 L1688,605.5 L1689,602.7 L1690,601.4 L1691,601.4 L1692,601.4 L1693,600.6 L1694,600.6 L1695,600.6 L1696,599.0 L1697,596.7 L1698,595.5 L1699,593.3 L1700,590.9 L1701,588.2 L1702,587.8 L1703,587.8 L1704,587.1 L1705,587.1 L1706,587.1 L1707,585.7 L1708,577.4 L1709,570.6 L1710,564.3 L1711,563.3 L1712,563.3 L1713,563.3 L1714,563.3 L1715,563.3 L1716,575.8 L1717,589.7 L1718,593.1 L1719,580.1 L1720,568.7 L1721,563.9 L1722,561.1 L1723,557.6 L1724,554.8 L1725,550.9 L1726,545.0 L1727,536.8 L1728,535.3 L1729,535.3 L1730,535.3 L1731,535.3 L1732,535.3 L1733,536.2 L1734,536.8 L1735,537.8 L1736,544.2 L1737,547.9 L1738,550.1 L1739,550.8 L1740,554.2 L1741,557.1 L1742,558.5 L1743,556.2 L1744,556.2 L1745,556.2 L1746,556.2 L1747,556.2 L1748,558.1 L1749,561.4 L1750,563.8 L1751,565.7 L1752,567.6 L1753,570.8 L1754,578.2 L1755,576.1 L1756,562.3 L1757,550.0 L1758,549.7 L1759,549.5 L1760,549.5 L1761,549.5 L1762,549.5 L1763,549.5 L1764,559.5 L1765,568.1 L1766,568.1 L1767,568.1 L1768,572.0 L1769,580.8 L1770,585.6 L1771,589.9 L1772,594.3 L1773,597.0 L1774,602.8 L1775,603.4 L1776,599.1 L1777,595.4 L1778,594.4 L1779,592.0 L1780,587.1 L1781,581.8 L1782,575.8 L1783,574.1 L1784,573.1 L1785,572.3 L1786,569.5 L1787,568.2 L1788,567.5 L1789,567.5 L1790,562.6 L1791,561.1 L1792,561.1 L1793,559.1 L1794,559.1 L1795,559.1 L1796,559.1 L1797,559.1 L1798,557.0 L1799,553.1 L1800,547.2 L1801,539.5 L1802,531.7 L1803,528.8 L1804,528.8 L1805,528.8 L1806,528.8 L1807,528.8 L1808,530.0 L1809,530.0 L1810,530.0 L1811,560.5 L1812,558.9 L1813,547.0 L1814,538.2 L1815,534.5 L1816,534.5 L1817,534.5 L1818,532.4 L1819,532.4 L1820,532.4 L1821,532.4 L1822,532.4 L1823,536.8 L1824,540.0 L1825,540.0 L1826,541.5 L1827,543.4 L1828,543.4 L1829,543.4 L1830,545.9 L1831,549.8 L1832,550.7 L1833,546.9 L1834,542.5 L1835,539.5 L1836,537.0 L1837,530.6 L1838,527.7 L1839,524.8 L1840,518.1 L1841,516.2 L1842,514.5 L1843,511.0 L1844,508.5 L1845,507.1 L1846,506.7 L1847,506.7 L1848,506.7 L1849,506.7 L1850,506.7 L1851,511.9 L1852,518.1 L1853,524.9 L1854,532.2 L1855,539.0 L1856,544.4 L1857,544.8 L1858,544.8 L1859,544.8 L1860,543.8 L1861,543.3 L1862,543.3 L1863,543.3 L1864,543.3 L1865,543.3 L1866,546.3 L1867,549.2 L1868,551.6 L1869,554.8 L1870,556.6 L1871,550.2 L1872,546.8 L1873,543.8 L1874,541.0 L1875,537.1 L1876,533.3 L1877,530.0 L1878,528.6 L1879,528.0 L1880,527.5 L1881,527.4 L1882,527.4 L1883,527.4 L1884,526.7 L1885,526.7 L1886,526.7 L1887,526.7 L1888,526.7 L1889,527.6 L1890,528.2 L1891,528.5 L1892,524.2 L1893,517.3 L1894,513.3 L1895,513.3 L1896,513.3 L1897,513.3 L1898,513.3 L1899,517.2 L1900,524.8 L1901,531.5 L1902,531.6 L1903,510.9 L1904,499.6 L1905,497.8 L1906,496.9 L1907,495.1 L1908,488.9 L1909,480.5 L1910,480.5 L1911,480.5 L1912,480.5 L1913,480.5 L1914,481.0 L1915,483.3 L1916,485.0 L1917,490.2 L1918,496.9 L1919,497.8 L1920,501.0 L1921,504.3 L1922,504.5 L1923,504.5 L1924,506.5 L1925,506.5 L1926,506.5 L1927,506.5 L1928,507.9 L1929,510.0 L1930,510.0 L1931,510.0 L1932,511.0 L1933,517.1 L1934,524.9 L1935,514.4 L1936,499.1 L1937,486.7 L1938,486.7 L1939,486.7 L1940,486.7 L1941,486.7 L1942,492.1 L1943,523.8 L1944,543.5 L1945,537.1 L1946,531.6 L1947,526.7 L1948,526.2 L1949,526.0 L1950,526.0 L1951,526.0 L1952,526.0 L1953,526.0 L1954,536.2 L1955,543.0 L1956,543.8 L1957,540.6 L1958,536.9 L1959,533.5 L1960,524.8 L1961,523.3 L1962,521.4 L1963,516.5 L1964,515.2 L1965,512.4 L1966,507.9 L1967,507.9 L1968,507.9 L1969,505.0 L1970,501.0 L1971,499.2 L1972,498.4 L1973,498.4 L1974,498.4 L1975,498.4 L1976,494.4 L1977,494.4 L1978,494.4 L1979,494.4 L1980,494.4 L1981,494.7 L1982,491.9 L1983,488.1 L1984,484.3 L1985,479.5 L1986,475.6 L1987,473.3 L1988,473.3 L1989,473.3 L1990,473.3 L1991,473.3 L1992,475.8 L1993,487.6 L1994,482.7 L1995,471.8 L1996,463.4 L1997,456.7 L1998,456.7 L1999,456.7 L2000,456.7 L2001,452.1 L2002,452.1 L2003,452.1 L2004,452.1 L2005,452.1 L2006,452.6 L2007,453.3 L2008,453.3 L2009,457.3 L2010,464.3 L2011,474.6 L2012,477.0 L2013,477.0 L2014,472.8 L2015,472.8 L2016,472.8 L2017,472.8 L2018,472.8 L2019,472.8 L2020,472.9 L2021,473.2 L2022,475.3 L2023,484.7 L2024,491.5 L2025,484.9 L2026,480.7 L2027,480.0 L2028,480.0 L2029,480.0 L2030,480.0 L2031,480.0 L2032,482.5 L2033,486.7 L2034,463.0 L2035,462.3 L2036,462.3 L2037,462.3 L2038,462.3 L2039,458.0 L2040,458.0 L2041,458.0 L2042,458.0 L2043,458.0 L2044,458.5 L2045,460.0 L2046,467.9 L2047,478.8 L2048,490.7 L2049,499.4 L2050,507.5 L2051,500.8 L2052,494.9 L2053,487.2 L2054,482.4 L2055,479.5 L2056,475.8 L2057,472.4 L2058,470.0 L2059,470.0 L2060,470.0 L2061,468.3 L2062,468.3 L2063,465.2 L2064,463.3 L2065,463.3 L2066,461.9 L2067,461.4 L2068,460.5 L2069,457.4 L2070,457.4 L2071,457.4 L2072,457.4 L2073,457.4 L2074,457.8 L2075,460.0 L2076,464.4 L2077,470.7 L2078,458.8 L2079,438.9 L2080,420.1 L2081,416.7 L2082,416.7 L2083,416.7 L2084,416.7 L2085,416.7 L2086,434.0 L2087,439.3 L2088,429.0 L2089,429.0 L2090,407.3 L2091,403.3 L2092,403.3 L2093,403.3 L2094,403.3 L2095,403.3 L2096,416.5 L2097,424.0 L2098,425.5 L2099,430.5 L2100,430.5 L2101,433.1 L2102,432.3 L2103,429.0 L2104,426.7 L2105,426.7 L2106,426.7 L2107,426.7 L2108,426.7 L2109,431.1 L2110,439.0 L2111,444.3 L2112,446.7 L2113,447.1 L2114,447.1 L2115,439.9 L2116,434.5 L2117,433.3 L2118,433.3 L2119,433.3 L2120,433.3 L2121,433.3 L2122,435.8 L2123,447.6 L2124,467.3 L2125,476.3 L2126,467.6 L2127,463.7 L2128,460.4 L2129,441.6 L2130,426.3 L2131,423.3 L2132,423.3 L2133,423.3 L2134,423.3 L2135,423.3 L2136,442.6 L2137,463.0 L2138,456.3 L2139,454.9 L2140,448.1 L2141,446.7 L2142,444.7 L2143,436.4 L2144,435.9 L2145,435.9 L2146,435.9 L2147,435.9 L2148,435.9 L2149,440.7 L2150,441.5 L2151,440.0 L2152,440.0 L2153,440.0 L2154,440.0 L2155,440.0 L2156,449.9 L2157,451.3 L2158,442.4 L2159,431.1 L2160,416.3 L2161,412.9 L2162,411.7 L2163,410.9 L2164,410.9 L2165,410.9 L2166,410.9 L2167,410.9 L2168,408.5 L2169,387.7 L2170,366.8 L2171,363.3 L2172,363.3 L2173,363.3 L2174,363.3 L2175,363.3 L2176,376.6 L2177,392.9 L2178,408.4 L2179,393.4 L2180,353.6 L2181,346.7 L2182,346.7 L2183,346.7 L2184,346.7 L2185,346.7 L2186,353.4 L2187,363.6 L2188,374.9 L2189,379.0 L2190,397.0 L2191,400.8 L2192,393.8 L2193,392.3 L2194,392.3 L2195,392.3 L2196,379.7 L2197,375.7 L2198,375.7 L2199,359.2 L2200,351.8 L2201,344.0 L2202,336.7 L2203,336.7 L2204,336.7 L2205,336.7 L2206,336.7 L2207,339.6 L2208,353.8 L2209,376.1 L2210,405.4 L2211,423.8 L2212,420.7 L2213,414.0 L2214,404.6 L2215,403.6 L2216,402.2 L2217,400.0 L2218,398.2 L2219,397.2 L2220,397.2 L2221,397.2 L2222,397.2 L2223,397.2 L2224,397.4 L2225,398.0 L2226,398.5 L2227,400.0 L2228,406.5 L2229,418.4 L2230,415.0 L2231,414.4 L2232,412.3 L2233,407.1 L2234,404.3 L2235,403.0 L2236,402.5 L2237,402.5 L2238,402.5 L2239,402.5 L2240,402.5 L2241,410.7 L2242,418.0 L2243,422.0 L2244,428.9 L2245,443.1 L2246,456.8 L2247,435.9 L2248,425.0 L2249,425.0 L2250,425.0 L2251,422.8 L2252,417.9 L2253,408.1 L2254,393.2 L2255,374.8 L2256,353.0 L2257,347.5 L2258,347.5 L2259,347.5 L2260,347.5 L2261,347.5 L2262,353.4 L2263,360.1 L2264,358.0 L2265,335.5 L2266,335.0 L2267,335.0 L2268,335.0 L2269,335.0 L2270,335.0 L2271,351.9 L2272,368.8 L2273,366.5 L2274,348.1 L2275,333.2 L2276,319.4 L2277,308.4 L2278,302.5 L2279,302.5 L2280,302.5 L2281,302.5 L2282,302.5 L2283,308.9 L2284,320.8 L2285,338.1 L2286,354.3 L2287,365.1 L2288,357.5 L2289,342.1 L2290,318.2 L2291,296.3 L2292,286.9 L2293,282.5 L2294,282.5 L2295,282.5 L2296,282.5 L2297,282.5 L2298,295.4 L2299,320.1 L2300,349.5 L2301,382.0 L2302,386.5 L2303,386.5 L2304,382.0 L2305,375.5 L2306,375.0 L2307,375.0 L2308,375.0 L2309,375.0 L2310,375.0 L2311,387.9 L2312,400.8 L2313,395.4 L2314,382.0 L2315,368.0 L2316,367.5 L2317,367.5 L2318,367.5 L2319,367.5 L2320,367.5 L2321,387.0 L2322,403.4 L2323,398.4 L2324,386.9 L2325,375.5 L2326,375.0 L2327,375.0 L2328,370.4 L2329,362.5 L2330,362.5 L2331,362.5 L2332,362.5 L2333,362.5 L2334,366.4 L2335,382.2 L2336,402.4 L2337,406.9 L2338,396.1 L2339,388.4 L2340,387.9 L2341,387.9 L2342,384.2 L2343,384.2 L2344,383.8 L2345,380.5 L2346,375.6 L2347,371.6 L2348,367.8 L2349,364.9 L2350,362.5 L2351,351.0 L2352,338.5 L2353,329.1 L2354,322.3 L2355,314.9 L2356,308.4 L2357,306.5 L2358,305.0 L2359,305.0 L2360,305.0 L2361,305.0 L2362,305.0 L2363,314.9 L2364,326.0 L2365,295.5 L2366,289.6 L2367,285.2 L2368,282.5 L2369,274.3 L2370,262.5 L2371,262.5 L2372,262.5 L2373,262.5 L2374,262.5 L2375,263.0 L2376,278.5 L2377,291.3 L2378,297.1 L2379,314.5 L2380,330.2 L2381,330.2 L2382,330.2 L2383,298.5 L2384,242.5 L2385,242.5 L2386,242.5 L2387,242.5 L2388,242.5 L2389,249.4 L2390,276.2 L2391,305.5 L2392,338.5 L2393,348.6 L2394,348.6 L2395,348.6 L2396,351.9 L2397,351.9 L2398,343.1 L2399,343.1 L2400,343.1 L2401,343.1 L2402,339.4 L2403,337.5 L2404,337.5 L2405,337.5 L2406,337.5 L2407,337.5 L2408,340.9 L2409,327.5 L2410,327.5 L2411,327.5 L2412,327.5 L2413,327.5 L2414,332.5 L2415,353.0 L2416,356.9 L2417,354.6 L2418,346.8 L2419,340.0 L2420,340.0 L2421,340.0 L2422,340.0 L2423,340.0 L2424,343.9 L2425,360.2 L2426,362.1 L2427,361.1 L2428,358.3 L2429,358.3 L2430,358.3 L2431,358.3 L2432,358.3 L2433,355.5 L2434,340.0 L2435,325.5 L2436,325.0 L2437,325.0 L2438,325.0 L2439,325.0 L2440,325.0 L2441,329.2 L2442,333.9 L2443,336.0 L2444,324.7 L2445,315.4 L2446,306.1 L2447,300.8 L2448,295.6 L2449,292.3 L2450,291.4 L2451,290.3 L2452,287.5 L2453,281.2 L2454,275.9 L2455,273.0 L2456,272.5 L2457,272.5 L2458,272.5 L2459,272.5 L2460,272.5 L2461,281.2 L2462,288.2 L2463,273.2 L2464,267.3 L2465,261.3 L2466,252.5 L2467,250.0 L2468,250.0 L2469,250.0 L2470,250.0 L2471,250.0 L2472,258.9 L2473,270.4 L2474,278.8 L2475,285.8 L2476,291.8 L2477,304.1 L2478,305.2 L2479,304.3 L2480,304.3 L2481,302.7 L2482,301.3 L2483,301.3 L2484,301.3 L2485,301.3 L2486,301.3 L2487,300.8 L2488,300.0 L2489,300.0 L2490,300.0 L2491,300.0 L2492,300.0 L2493,306.4 L2494,319.1 L2495,327.0 L2496,313.8 L2497,304.9 L2498,300.0 L2499,300.0 L2500,300.0 L2501,300.0 L2502,300.0 L2503,303.4 L2504,309.6 L2505,318.8 L2506,321.1 L2507,319.9 L2508,316.0 L2509,312.5 L2510,312.5 L2511,312.5 L2512,312.5 L2513,312.5 L2514,316.0 L2515,329.4 L2516,340.3 L2517,335.9 L2518,327.1 L2519,319.8 L2520,312.5 L2521,310.6 L2522,307.7 L2523,305.2 L2524,302.8 L2525,300.8 L2526,297.9 L2527,296.5 L2528,295.0 L2529,295.0 L2530,295.0 L2531,295.0 L2532,295.0 L2533,295.6 L2534,295.6 L2535,295.6 L2536,297.5 L2537,299.1 L2538,299.1 L2539,296.4 L2540,294.7 L2541,292.4 L2542,289.5 L2543,287.5 L2544,286.9 L2545,286.5 L2546,283.6 L2547,279.4 L2548,279.0 L2549,279.0 L2550,277.5 L2551,277.5 L2552,277.5 L2553,277.5 L2554,277.5 L2555,278.0 L2556,284.8 L2557,291.6 L2558,290.4 L2559,285.5 L2560,280.0 L2561,280.0 L2562,280.0 L2563,277.7 L2564,277.1 L2565,276.2 L2566,273.5 L2567,273.5 L2568,273.5 L2569,273.5 L2570,273.5 L2571,273.9 L2572,271.9 L2573,269.5 L2574,267.5 L2575,267.5 L2576,267.5 L2577,267.5 L2578,267.5 L2579,275.5 L2580,306.5 L2581,307.5 L2582,307.5 L2583,307.5 L2584,307.5 L2585,308.0 L2586,310.8 L2587,312.7 L2588,312.7 L2589,312.7 L2590,312.5 L2591,309.6 L2592,308.3 L2593,307.3 L2594,307.0 L2595,306.0 L2596,304.2 L2597,304.2 L2598,304.2 L2599,304.2 L2600,304.2 L2601,304.4 L2602,304.8 L2603,306.0 L2604,306.5 L2605,308.0 L2606,308.5 L2607,310.0 L2608,309.5 L2609,309.0 L2610,307.5 L2611,307.0 L2612,305.5 L2613,304.9 L2614,304.6 L2615,304.4 L2616,304.2 L2617,303.9 L2618,303.7 L2619,303.5 L2620,303.2 L2621,303.0 L2622,302.7 L2623,302.5 L2624,302.5 L2625,302.5 L2626,302.5 L2627,302.5 L2628,302.6 L2629,302.7 L2630,302.8 L2631,302.9 L2632,303.0 L2633,303.1 L2634,303.2 L2635,303.3 L2636,303.4 L2637,303.5 L2638,303.6 L2639,303.7 L2640,303.8 L2641,303.9 L2642,304.0 L2643,304.1 L2644,304.2 L2645,304.3 L2646,304.4 L2647,304.5 L2648,304.6 L2649,304.7 L2650,304.8 L2651,304.9 L2652,305.0 L2653,305.1 L2654,305.3 L2655,305.4 L2656,305.5 L2657,305.7 L2658,305.9 L2659,306.0 L2660,306.2 L2661,306.3 L2662,306.4 L2663,306.6 L2664,306.8 L2665,306.9 L2666,307.0 L2667,307.2 L2668,307.4 L2669,307.5 L2670,307.6 L2671,307.8 L2672,308.0 L2673,308.1 L2674,308.3 L2675,308.4 L2676,308.6 L2677,308.7 L2678,308.8 L2679,308.9 L2680,308.9 L2681,309.0 L2682,309.1 L2683,309.1 L2684,309.2 L2685,309.3 L2686,309.3 L2687,309.4 L2688,309.5 L2689,309.5 L2690,309.6 L2691,309.7 L2692,309.7 L2693,309.8 L2694,309.9 L2695,309.9 L2696,310.0 L2697,310.1 L2698,310.1 L2699,310.2 L2700,310.3 L2701,310.3 L2702,310.4 L2703,310.5 L2704,310.5 L2705,310.6 L2706,310.7 L2707,310.7 L2708,310.8 L2709,310.9 L2710,310.9 L2711,311.0 L2712,311.1 L2712,311.2 L2711,311.2 L2710,311.2 L2709,311.2 L2708,311.1 L2707,311.0 L2706,311.0 L2705,310.9 L2704,310.8 L2703,310.8 L2702,310.7 L2701,310.6 L2700,310.6 L2699,310.5 L2698,310.4 L2697,310.4 L2696,310.3 L2695,310.2 L2694,310.2 L2693,310.1 L2692,310.0 L2691,310.0 L2690,309.9 L2689,309.8 L2688,309.8 L2687,309.7 L2686,309.6 L2685,309.6 L2684,309.5 L2683,309.4 L2682,309.4 L2681,309.3 L2680,309.2 L2679,309.2 L2678,309.1 L2677,309.0 L2676,309.0 L2675,308.9 L2674,308.8 L2673,308.8 L2672,308.6 L2671,308.5 L2670,308.4 L2669,308.2 L2668,308.0 L2667,307.9 L2666,307.8 L2665,307.6 L2664,307.4 L2663,307.3 L2662,307.2 L2661,307.0 L2660,306.8 L2659,306.7 L2658,306.5 L2657,306.4 L2656,306.2 L2655,306.1 L2654,305.9 L2653,305.8 L2652,305.7 L2651,305.5 L2650,305.3 L2649,305.2 L2648,305.1 L2647,304.9 L2646,304.8 L2645,304.7 L2644,304.6 L2643,304.5 L2642,304.4 L2641,304.3 L2640,304.2 L2639,304.1 L2638,304.0 L2637,303.9 L2636,303.8 L2635,303.7 L2634,303.6 L2633,303.5 L2632,303.4 L2631,303.3 L2630,303.2 L2629,303.1 L2628,303.0 L2627,302.9 L2626,302.9 L2625,303.1 L2624,303.3 L2623,303.6 L2622,303.8 L2621,304.0 L2620,304.3 L2619,304.5 L2618,304.8 L2617,305.0 L2616,306.5 L2615,307.0 L2614,308.5 L2613,309.0 L2612,310.5 L2611,311.0 L2610,312.5 L2609,312.5 L2608,312.5 L2607,312.5 L2606,312.5 L2605,312.0 L2604,311.5 L2603,310.0 L2602,309.5 L2601,308.0 L2600,307.5 L2599,306.9 L2598,307.2 L2597,307.9 L2596,309.1 L2595,312.0 L2594,313.9 L2593,313.9 L2592,313.9 L2591,314.1 L2590,317.5 L2589,318.8 L2588,320.0 L2587,320.0 L2586,320.0 L2585,320.0 L2584,320.0 L2583,321.9 L2582,335.2 L2581,345.0 L2580,345.0 L2579,345.0 L2578,345.0 L2577,345.0 L2576,337.0 L2575,306.0 L2574,277.2 L2573,277.2 L2572,277.5 L2571,277.5 L2570,277.5 L2569,277.5 L2568,277.5 L2567,279.7 L2566,281.6 L2565,281.6 L2564,285.0 L2563,289.9 L2562,294.3 L2561,301.7 L2560,310.0 L2559,310.0 L2558,310.0 L2557,310.0 L2556,310.0 L2555,309.5 L2554,303.5 L2553,297.1 L2552,291.1 L2551,284.3 L2550,286.0 L2549,286.5 L2548,287.3 L2547,289.0 L2546,291.9 L2545,294.2 L2544,296.0 L2543,298.7 L2542,300.0 L2541,300.0 L2540,300.0 L2539,300.0 L2538,300.0 L2537,299.8 L2536,299.8 L2535,299.8 L2534,299.7 L2533,299.3 L2532,298.9 L2531,297.4 L2530,300.4 L2529,302.3 L2528,304.7 L2527,307.2 L2526,310.1 L2525,312.0 L2524,319.3 L2523,326.6 L2522,335.4 L2521,339.8 L2520,346.1 L2519,353.3 L2518,357.6 L2517,360.0 L2516,360.0 L2515,360.0 L2514,360.0 L2513,360.0 L2512,353.6 L2511,341.8 L2510,328.9 L2509,334.6 L2508,338.0 L2507,340.0 L2506,340.0 L2505,340.0 L2504,340.0 L2503,340.0 L2502,335.5 L2501,327.1 L2500,327.2 L2499,340.6 L2498,351.5 L2497,357.5 L2496,357.5 L2495,357.5 L2494,357.5 L2493,357.5 L2492,349.6 L2491,334.9 L2490,326.5 L2489,318.6 L2488,309.5 L2487,309.5 L2486,309.5 L2485,309.5 L2484,307.1 L2483,305.0 L2482,306.2 L2481,307.6 L2480,308.6 L2479,308.6 L2478,309.2 L2477,310.0 L2476,310.0 L2475,310.0 L2474,310.0 L2473,310.0 L2472,303.6 L2471,291.3 L2470,285.3 L2469,278.3 L2468,272.7 L2467,287.7 L2466,300.6 L2465,312.0 L2464,312.5 L2463,312.5 L2462,312.5 L2461,312.5 L2460,312.5 L2459,303.3 L2458,295.5 L2457,288.5 L2456,289.8 L2455,291.2 L2454,291.8 L2453,295.1 L2452,300.4 L2451,305.6 L2450,314.9 L2449,324.2 L2448,335.6 L2447,336.4 L2446,340.7 L2445,347.0 L2444,347.5 L2443,347.5 L2442,347.5 L2441,347.5 L2440,347.5 L2439,343.6 L2438,355.0 L2437,362.5 L2436,362.5 L2435,362.5 L2434,362.5 L2433,362.5 L2432,362.2 L2431,362.0 L2430,362.5 L2429,379.0 L2428,396.5 L2427,405.0 L2426,405.0 L2425,405.0 L2424,405.0 L2423,405.0 L2422,395.5 L2421,376.5 L2420,360.3 L2419,365.6 L2418,378.5 L2417,385.0 L2416,385.0 L2415,385.0 L2414,385.0 L2413,385.0 L2412,379.6 L2411,368.9 L2410,380.6 L2409,400.0 L2408,405.0 L2407,405.0 L2406,405.0 L2405,405.0 L2404,405.0 L2403,364.0 L2402,354.1 L2401,359.6 L2400,360.0 L2399,360.0 L2398,360.0 L2397,368.1 L2396,368.6 L2395,368.6 L2394,368.6 L2393,368.6 L2392,368.6 L2391,355.5 L2390,355.5 L2389,355.4 L2388,355.2 L2387,338.0 L2386,340.1 L2385,340.1 L2384,340.1 L2383,340.1 L2382,342.4 L2381,344.4 L2380,344.4 L2379,344.4 L2378,344.4 L2377,344.4 L2376,341.9 L2375,337.0 L2374,314.0 L2373,296.6 L2372,290.9 L2371,289.1 L2370,295.0 L2369,325.5 L2368,357.0 L2367,372.5 L2366,372.5 L2365,372.5 L2364,372.5 L2363,372.5 L2362,366.5 L2361,354.1 L2360,344.9 L2359,334.1 L2358,328.6 L2357,338.0 L2356,350.5 L2355,362.0 L2354,364.4 L2353,367.3 L2352,371.2 L2351,375.1 L2350,380.0 L2349,383.3 L2348,385.7 L2347,385.7 L2346,394.0 L2345,398.8 L2344,398.8 L2343,398.8 L2342,406.4 L2341,419.2 L2340,432.6 L2339,446.5 L2338,450.0 L2337,450.0 L2336,450.0 L2335,450.0 L2334,450.0 L2333,440.1 L2332,426.2 L2331,401.9 L2330,381.7 L2329,386.4 L2328,397.9 L2327,408.4 L2326,418.2 L2325,427.0 L2324,427.5 L2323,427.5 L2322,427.5 L2321,427.5 L2320,427.5 L2319,421.3 L2318,413.6 L2317,404.6 L2316,419.0 L2315,434.5 L2314,435.0 L2313,435.0 L2312,435.0 L2311,435.0 L2310,435.0 L2309,424.1 L2308,413.2 L2307,400.3 L2306,395.3 L2305,395.7 L2304,395.7 L2303,395.7 L2302,395.7 L2301,395.7 L2300,394.8 L2299,394.8 L2298,394.8 L2297,391.9 L2296,381.5 L2295,349.0 L2294,341.6 L2293,357.0 L2292,366.4 L2291,369.6 L2290,370.5 L2289,370.5 L2288,370.5 L2287,370.5 L2286,370.5 L2285,370.0 L2284,370.0 L2283,370.0 L2282,364.6 L2281,353.8 L2280,337.6 L2279,347.6 L2278,366.0 L2277,380.5 L2276,393.0 L2275,404.5 L2274,405.0 L2273,405.0 L2272,405.0 L2271,405.0 L2270,405.0 L2269,398.1 L2268,387.3 L2267,392.5 L2266,392.5 L2265,392.5 L2264,392.5 L2263,392.5 L2262,390.6 L2261,386.8 L2260,374.3 L2259,392.7 L2258,407.6 L2257,417.4 L2256,422.3 L2255,427.6 L2254,432.4 L2253,432.4 L2252,435.4 L2251,456.3 L2250,472.7 L2249,486.5 L2248,490.0 L2247,490.0 L2246,490.0 L2245,490.0 L2244,490.0 L2243,483.2 L2242,474.3 L2241,458.0 L2240,442.6 L2239,428.4 L2238,421.5 L2237,417.5 L2236,414.0 L2235,414.7 L2234,434.0 L2233,452.5 L2232,462.5 L2231,462.5 L2230,462.5 L2229,462.5 L2228,462.5 L2227,456.1 L2226,443.7 L2225,430.8 L2224,417.9 L2223,406.0 L2222,399.5 L2221,401.8 L2220,403.1 L2219,404.1 L2218,413.5 L2217,420.3 L2216,425.0 L2215,429.3 L2214,434.2 L2213,437.6 L2212,437.6 L2211,437.6 L2210,437.6 L2209,437.6 L2208,437.3 L2207,436.7 L2206,423.3 L2205,404.9 L2204,375.6 L2203,376.5 L2202,382.5 L2201,382.5 L2200,391.9 L2199,397.2 L2198,400.0 L2197,400.0 L2196,400.3 L2195,401.7 L2194,403.9 L2193,409.3 L2192,412.4 L2191,413.3 L2190,413.3 L2189,413.3 L2188,413.3 L2187,413.3 L2186,408.9 L2185,396.5 L2184,392.9 L2183,426.2 L2182,452.2 L2181,456.7 L2180,456.7 L2179,456.7 L2178,456.7 L2177,456.7 L2176,443.5 L2175,427.2 L2174,412.2 L2173,408.0 L2172,429.4 L2171,440.2 L2170,444.5 L2169,444.5 L2168,444.5 L2167,444.5 L2166,444.5 L2165,437.7 L2164,430.6 L2163,441.9 L2162,450.8 L2161,458.2 L2160,470.7 L2159,479.0 L2158,483.3 L2157,483.3 L2156,483.3 L2155,483.3 L2154,483.3 L2153,476.0 L2152,461.2 L2151,450.7 L2150,450.7 L2149,450.7 L2148,450.3 L2147,450.3 L2146,450.3 L2145,448.1 L2144,454.4 L2143,456.1 L2142,462.5 L2141,473.4 L2140,479.8 L2139,492.6 L2138,500.0 L2137,500.0 L2136,500.0 L2135,500.0 L2134,500.0 L2133,488.1 L2132,469.8 L2131,469.8 L2130,488.5 L2129,501.3 L2128,506.7 L2127,506.7 L2126,506.7 L2125,506.7 L2124,506.7 L2123,500.7 L2122,489.4 L2121,477.8 L2120,477.6 L2119,466.8 L2118,447.4 L2117,450.8 L2116,456.6 L2115,463.3 L2114,463.3 L2113,463.3 L2112,463.3 L2111,463.3 L2110,462.4 L2109,459.5 L2108,451.7 L2107,446.2 L2106,443.8 L2105,441.1 L2104,448.5 L2103,453.5 L2102,453.5 L2101,453.5 L2100,453.5 L2099,453.5 L2098,452.6 L2097,450.0 L2096,437.5 L2095,435.3 L2094,433.8 L2093,434.3 L2092,438.8 L2091,458.5 L2090,476.2 L2089,488.0 L2088,493.3 L2087,493.3 L2086,493.3 L2085,493.3 L2084,493.3 L2083,480.5 L2082,479.3 L2081,483.3 L2080,483.3 L2079,483.3 L2078,483.3 L2077,483.3 L2076,481.5 L2075,477.5 L2074,477.5 L2073,477.5 L2072,470.2 L2071,463.9 L2070,464.2 L2069,464.7 L2068,464.7 L2067,468.3 L2066,468.3 L2065,470.7 L2064,474.2 L2063,474.2 L2062,474.2 L2061,475.3 L2060,479.1 L2059,481.9 L2058,486.7 L2057,494.4 L2056,500.3 L2055,507.0 L2054,514.2 L2053,520.8 L2052,522.8 L2051,523.3 L2050,523.3 L2049,523.3 L2048,523.3 L2047,523.3 L2046,520.6 L2045,511.8 L2044,498.9 L2043,490.2 L2042,478.3 L2041,470.4 L2040,470.4 L2039,470.4 L2038,486.2 L2037,532.0 L2036,540.0 L2035,540.0 L2034,540.0 L2033,540.0 L2032,540.0 L2031,528.7 L2030,515.8 L2029,506.9 L2028,495.4 L2027,496.7 L2026,499.7 L2025,500.0 L2024,500.0 L2023,500.0 L2022,500.0 L2021,500.0 L2020,498.5 L2019,492.1 L2018,484.2 L2017,480.0 L2016,480.0 L2015,480.0 L2014,480.0 L2013,480.5 L2012,482.9 L2011,483.3 L2010,483.3 L2009,483.3 L2008,483.3 L2007,483.3 L2006,474.1 L2005,463.8 L2004,459.2 L2003,459.2 L2002,459.2 L2001,463.0 L2000,471.3 L1999,482.2 L1998,498.2 L1997,501.2 L1996,507.7 L1995,520.0 L1994,520.0 L1993,520.0 L1992,520.0 L1991,520.0 L1990,517.1 L1989,501.3 L1988,487.7 L1987,491.5 L1986,494.8 L1985,496.7 L1984,496.7 L1983,496.7 L1982,498.9 L1981,498.9 L1980,499.2 L1979,502.6 L1978,502.6 L1977,502.6 L1976,502.6 L1975,502.6 L1974,504.5 L1973,508.3 L1972,511.0 L1971,511.0 L1970,511.9 L1969,514.8 L1968,516.0 L1967,520.9 L1966,523.3 L1965,524.3 L1964,533.0 L1963,536.4 L1962,540.1 L1961,543.3 L1960,544.7 L1959,550.0 L1958,553.3 L1957,553.3 L1956,553.3 L1955,553.3 L1954,553.3 L1953,550.9 L1952,546.5 L1951,543.4 L1950,542.5 L1949,543.0 L1948,553.9 L1947,557.2 L1946,562.8 L1945,570.0 L1944,570.0 L1943,570.0 L1942,570.0 L1941,570.0 L1940,566.5 L1939,548.6 L1938,540.0 L1937,540.0 L1936,540.0 L1935,540.0 L1934,540.0 L1933,538.0 L1932,535.0 L1931,528.8 L1930,528.8 L1929,524.4 L1928,516.7 L1927,512.7 L1926,512.7 L1925,511.9 L1924,511.0 L1923,511.0 L1922,511.0 L1921,511.0 L1920,511.0 L1919,507.5 L1918,506.7 L1917,506.7 L1916,503.8 L1915,500.5 L1914,497.3 L1913,496.4 L1912,494.7 L1911,496.4 L1910,497.4 L1909,499.1 L1908,510.4 L1907,531.1 L1906,547.0 L1905,560.0 L1904,560.0 L1903,560.0 L1902,560.0 L1901,560.0 L1900,558.1 L1899,547.9 L1898,542.7 L1897,537.4 L1896,532.6 L1895,540.0 L1894,540.0 L1893,540.0 L1892,540.0 L1891,540.0 L1890,539.6 L1889,538.8 L1888,538.1 L1887,533.9 L1886,532.1 L1885,532.1 L1884,532.1 L1883,532.1 L1882,531.2 L1881,532.8 L1880,536.6 L1879,540.5 L1878,543.4 L1877,546.3 L1876,549.7 L1875,556.1 L1874,560.5 L1873,563.8 L1872,566.2 L1871,566.7 L1870,566.7 L1869,566.7 L1868,566.7 L1867,566.7 L1866,564.8 L1865,560.5 L1864,554.4 L1863,551.1 L1862,552.3 L1861,553.3 L1860,553.3 L1859,553.3 L1858,553.3 L1857,553.3 L1856,548.9 L1855,546.9 L1854,546.9 L1853,546.9 L1852,546.8 L1851,543.9 L1850,538.5 L1849,531.7 L1848,524.4 L1847,517.7 L1846,515.8 L1845,517.6 L1844,524.3 L1843,527.2 L1842,530.1 L1841,536.5 L1840,539.0 L1839,542.0 L1838,546.4 L1837,550.2 L1836,553.9 L1835,556.7 L1834,557.3 L1833,557.6 L1832,557.6 L1831,557.6 L1830,557.6 L1829,557.6 L1828,555.6 L1827,553.2 L1826,549.3 L1825,546.3 L1824,546.3 L1823,545.8 L1822,543.7 L1821,543.7 L1820,543.7 L1819,543.7 L1818,546.5 L1817,558.4 L1816,561.7 L1815,569.1 L1814,573.5 L1813,575.8 L1812,588.0 L1811,590.0 L1810,590.0 L1809,590.0 L1808,590.0 L1807,590.0 L1806,560.0 L1805,546.7 L1804,552.6 L1803,556.5 L1802,559.5 L1801,561.9 L1800,563.6 L1799,564.8 L1798,564.8 L1797,564.8 L1796,564.8 L1795,564.8 L1794,569.5 L1793,570.9 L1792,570.9 L1791,570.9 L1790,571.8 L1789,572.9 L1788,573.7 L1787,575.3 L1786,581.3 L1785,586.7 L1784,591.5 L1783,593.9 L1782,595.1 L1781,598.6 L1780,608.1 L1779,609.4 L1778,610.0 L1777,610.0 L1776,610.0 L1775,610.0 L1774,610.0 L1773,608.7 L1772,606.8 L1771,605.7 L1770,605.7 L1769,602.3 L1768,596.6 L1767,593.8 L1766,589.4 L1765,585.1 L1764,580.3 L1763,571.6 L1762,568.7 L1761,568.4 L1760,575.6 L1759,584.1 L1758,593.9 L1757,604.7 L1756,606.7 L1755,606.7 L1754,606.7 L1753,606.7 L1752,606.7 L1751,598.9 L1750,589.7 L1749,577.7 L1748,570.4 L1747,567.1 L1746,565.2 L1745,563.3 L1744,561.7 L1743,561.7 L1742,561.7 L1741,561.7 L1740,561.5 L1739,561.2 L1738,560.7 L1737,560.0 L1736,556.7 L1735,553.8 L1734,550.4 L1733,549.7 L1732,547.5 L1731,544.5 L1730,550.4 L1729,554.4 L1728,557.1 L1727,560.6 L1726,563.4 L1725,568.2 L1724,579.6 L1723,592.6 L1722,608.0 L1721,618.3 L1720,626.7 L1719,626.7 L1718,626.7 L1717,626.7 L1716,626.7 L1715,624.2 L1714,611.7 L1713,600.2 L1712,589.2 L1711,586.9 L1710,587.3 L1709,587.3 L1708,591.9 L1707,594.3 L1706,594.3 L1705,594.3 L1704,594.3 L1703,595.1 L1702,596.3 L1701,598.5 L1700,600.8 L1699,603.0 L1698,603.5 L1697,603.5 L1696,603.5 L1695,603.5 L1694,603.5 L1693,605.0 L1692,611.9 L1691,613.5 L1690,621.2 L1689,634.2 L1688,640.6 L1687,647.8 L1686,653.5 L1685,656.7 L1684,656.7 L1683,656.7 L1682,656.7 L1681,656.7 L1680,655.7 L1679,649.3 L1678,642.9 L1677,636.5 L1676,631.3 L1675,634.6 L1674,635.6 L1673,642.5 L1672,644.5 L1671,644.5 L1670,646.0 L1669,650.9 L1668,653.3 L1667,653.3 L1666,653.3 L1665,653.3 L1664,653.3 L1663,643.4 L1662,623.6 L1661,606.7 L1660,609.8 L1659,612.1 L1658,613.3 L1657,613.3 L1656,613.3 L1655,613.3 L1654,613.3 L1653,612.0 L1652,610.3 L1651,609.5 L1650,609.5 L1649,608.0 L1648,604.8 L1647,604.8 L1646,603.3 L1645,600.5 L1644,597.6 L1643,594.2 L1642,588.7 L1641,577.1 L1640,575.2 L1639,573.1 L1638,575.0 L1637,580.0 L1636,582.8 L1635,586.5 L1634,589.8 L1633,593.2 L1632,599.0 L1631,600.3 L1630,601.5 L1629,602.4 L1628,615.7 L1627,622.5 L1626,623.3 L1625,626.4 L1624,633.6 L1623,639.9 L1622,640.0 L1621,640.0 L1620,640.0 L1619,640.0 L1618,640.0 L1617,640.0 L1616,632.2 L1615,623.4 L1614,620.3 L1613,620.3 L1612,620.3 L1611,620.3 L1610,620.3 L1609,620.5 L1608,620.5 L1607,621.7 L1606,625.0 L1605,625.0 L1604,633.7 L1603,636.6 L1602,637.8 L1601,640.2 L1600,650.6 L1599,660.5 L1598,668.6 L1597,677.5 L1596,681.9 L1595,683.3 L1594,683.3 L1593,683.3 L1592,683.3 L1591,683.3 L1590,681.9 L1589,676.1 L1588,664.9 L1587,662.8 L1586,664.7 L1585,667.2 L1584,670.1 L1583,671.1 L1582,671.1 L1581,672.8 L1580,673.8 L1579,673.8 L1578,673.8 L1577,673.8 L1576,674.3 L1575,676.7 L1574,676.7 L1573,676.7 L1572,676.7 L1571,676.7 L1570,672.2 L1569,653.8 L1568,656.7 L1567,656.7 L1566,656.7 L1565,656.7 L1564,656.7 L1563,655.2 L1562,652.4 L1561,651.2 L1560,648.7 L1559,646.3 L1558,646.3 L1557,646.3 L1556,645.3 L1555,642.6 L1554,638.6 L1553,635.2 L1552,632.4 L1551,624.4 L1550,620.2 L1549,617.5 L1548,614.6 L1547,610.7 L1546,613.5 L1545,617.7 L1544,620.5 L1543,620.5 L1542,620.5 L1541,620.5 L1540,620.5 L1539,623.3 L1538,631.6 L1537,641.4 L1536,653.3 L1535,664.0 L1534,677.7 L1533,692.9 L1532,699.0 L1531,700.0 L1530,700.0 L1529,700.0 L1528,700.0 L1527,700.0 L1526,683.2 L1525,662.4 L1524,650.0 L1523,650.0 L1522,650.0 L1521,650.3 L1520,650.8 L1519,650.8 L1518,651.2 L1517,651.8 L1516,652.5 L1515,653.8 L1514,658.2 L1513,663.0 L1512,669.1 L1511,677.3 L1510,678.8 L1509,682.8 L1508,691.6 L1507,691.9 L1506,697.9 L1505,706.7 L1504,706.7 L1503,706.7 L1502,706.7 L1501,706.7 L1500,704.7 L1499,694.8 L1498,689.2 L1497,693.1 L1496,696.8 L1495,700.0 L1494,700.0 L1493,700.0 L1492,700.0 L1491,700.0 L1490,699.1 L1489,694.8 L1488,690.9 L1487,691.5 L1486,695.4 L1485,701.2 L1484,706.5 L1483,710.8 L1482,718.2 L1481,723.5 L1480,726.7 L1479,726.7 L1478,726.7 L1477,726.7 L1476,726.7 L1475,720.7 L1474,693.3 L1473,693.3 L1472,693.3 L1471,693.3 L1470,692.9 L1469,690.7 L1468,687.8 L1467,683.9 L1466,679.6 L1465,677.0 L1464,676.9 L1463,676.9 L1462,676.6 L1461,676.7 L1460,676.7 L1459,676.7 L1458,676.7 L1457,676.7 L1456,667.2 L1455,655.4 L1454,650.3 L1453,657.6 L1452,657.6 L1451,657.6 L1450,657.6 L1449,661.9 L1448,661.9 L1447,671.8 L1446,679.7 L1445,679.7 L1444,688.5 L1443,696.9 L1442,702.8 L1441,707.1 L1440,716.0 L1439,725.0 L1438,730.0 L1437,730.0 L1436,730.0 L1435,730.0 L1434,730.0 L1433,721.1 L1432,703.8 L1431,680.4 L1430,685.9 L1429,687.9 L1428,687.9 L1427,689.4 L1426,689.4 L1425,690.0 L1424,692.5 L1423,693.4 L1422,693.8 L1421,693.8 L1420,693.8 L1419,693.8 L1418,695.7 L1417,701.5 L1416,710.5 L1415,718.4 L1414,723.4 L1413,726.3 L1412,732.4 L1411,733.3 L1410,733.3 L1409,733.3 L1408,733.3 L1407,733.3 L1406,731.5 L1405,727.2 L1404,723.0 L1403,725.6 L1402,727.8 L1401,730.0 L1400,735.8 L1399,737.2 L1398,737.2 L1397,737.2 L1396,737.2 L1395,737.2 L1394,736.9 L1393,732.8 L1392,725.1 L1391,716.8 L1390,721.8 L1389,723.5 L1388,732.8 L1387,750.3 L1386,753.3 L1385,753.3 L1384,753.3 L1383,753.3 L1382,753.3 L1381,750.1 L1380,743.9 L1379,733.3 L1378,732.2 L1377,723.7 L1376,715.0 L1375,714.7 L1374,719.3 L1373,725.9 L1372,729.1 L1371,730.0 L1370,730.0 L1369,730.0 L1368,730.0 L1367,730.0 L1366,724.6 L1365,716.7 L1364,707.3 L1363,695.0 L1362,684.6 L1361,680.0 L1360,680.0 L1359,688.6 L1358,689.1 L1357,689.1 L1356,692.5 L1355,692.8 L1354,696.8 L1353,701.2 L1352,701.2 L1351,710.2 L1350,720.9 L1349,729.8 L1348,744.1 L1347,756.5 L1346,769.3 L1345,780.0 L1344,780.0 L1343,780.0 L1342,780.0 L1341,780.0 L1340,775.5 L1339,749.8 L1338,723.5 L1337,725.3 L1336,730.7 L1335,736.7 L1334,736.7 L1333,736.7 L1332,736.7 L1331,736.7 L1330,736.5 L1329,736.3 L1328,733.2 L1327,733.2 L1326,733.2 L1325,733.2 L1324,730.4 L1323,730.4 L1322,730.4 L1321,727.1 L1320,727.8 L1319,729.1 L1318,729.1 L1317,733.1 L1316,735.0 L1315,735.0 L1314,739.1 L1313,747.0 L1312,752.0 L1311,752.0 L1310,762.3 L1309,765.7 L1308,766.7 L1307,766.7 L1306,766.7 L1305,766.7 L1304,766.7 L1303,765.7 L1302,762.8 L1301,755.2 L1300,756.3 L1299,765.6 L1298,765.6 L1297,765.7 L1296,774.1 L1295,780.0 L1294,780.0 L1293,780.0 L1292,780.0 L1291,780.0 L1290,779.1 L1289,774.9 L1288,765.5 L1287,759.2 L1286,762.7 L1285,764.8 L1284,765.4 L1283,767.2 L1282,772.4 L1281,773.3 L1280,773.3 L1279,773.3 L1278,773.3 L1277,773.3 L1276,770.4 L1275,766.0 L1274,760.8 L1273,758.1 L1272,752.4 L1271,744.6 L1270,737.7 L1269,734.4 L1268,731.1 L1267,731.0 L1266,732.6 L1265,742.0 L1264,742.0 L1263,742.0 L1262,743.4 L1261,753.3 L1260,756.1 L1259,758.5 L1258,763.3 L1257,771.0 L1256,781.7 L1255,783.6 L1254,790.4 L1253,805.2 L1252,817.5 L1251,820.0 L1250,820.0 L1249,820.0 L1248,820.0 L1247,820.0 L1246,794.2 L1245,764.4 L1244,751.1 L1243,763.0 L1242,766.2 L1241,766.7 L1240,766.7 L1239,766.7 L1238,766.7 L1237,766.7 L1236,764.3 L1235,762.0 L1234,760.6 L1233,759.2 L1232,759.2 L1231,759.2 L1230,759.2 L1229,764.5 L1228,778.5 L1227,785.8 L1226,793.1 L1225,800.0 L1224,800.0 L1223,800.0 L1222,800.0 L1221,800.0 L1220,797.5 L1219,789.2 L1218,789.2 L1217,782.3 L1216,777.3 L1215,788.4 L1214,797.2 L1213,801.9 L1212,811.4 L1211,813.3 L1210,813.3 L1209,813.3 L1208,813.3 L1207,813.3 L1206,808.9 L1205,804.6 L1204,800.4 L1203,788.0 L1202,784.3 L1201,798.1 L1200,830.0 L1199,830.0 L1198,830.0 L1197,830.0 L1196,830.0 L1195,829.5 L1194,828.6 L1193,818.4 L1192,817.6 L1191,817.1 L1190,808.8 L1189,808.4 L1188,813.3 L1187,813.3 L1186,813.3 L1185,813.3 L1184,813.3 L1183,812.0 L1182,808.7 L1181,799.7 L1180,793.0 L1179,785.7 L1178,778.3 L1177,767.8 L1176,779.2 L1175,779.2 L1174,781.5 L1173,794.3 L1172,796.2 L1171,796.7 L1170,796.7 L1169,796.7 L1168,796.7 L1167,796.7 L1166,794.2 L1165,789.4 L1164,783.6 L1163,791.8 L1162,807.6 L1161,828.4 L1160,836.2 L1159,847.0 L1158,853.3 L1157,853.3 L1156,853.3 L1155,853.3 L1154,853.3 L1153,844.0 L1152,825.3 L1151,800.9 L1150,808.5 L1149,811.9 L1148,813.3 L1147,813.3 L1146,813.3 L1145,813.3 L1144,813.3 L1143,812.9 L1142,811.7 L1141,807.5 L1140,807.5 L1139,804.0 L1138,810.3 L1137,821.8 L1136,828.3 L1135,833.3 L1134,833.3 L1133,833.3 L1132,833.3 L1131,833.3 L1130,832.9 L1129,831.0 L1128,828.0 L1127,821.6 L1126,823.5 L1125,831.7 L1124,837.5 L1123,841.8 L1122,845.7 L1121,846.7 L1120,846.7 L1119,846.7 L1118,846.7 L1117,846.7 L1116,843.4 L1115,841.4 L1114,838.8 L1113,827.5 L1112,835.7 L1111,841.9 L1110,845.6 L1109,854.7 L1108,860.0 L1107,860.0 L1106,860.0 L1105,860.0 L1104,860.0 L1103,848.0 L1102,825.1 L1101,812.5 L1100,826.2 L1099,838.0 L1098,845.7 L1097,847.6 L1096,857.3 L1095,870.0 L1094,870.0 L1093,870.0 L1092,870.0 L1091,870.0 L1090,867.5 L1089,855.3 L1088,852.4 L1087,845.7 L1086,829.4 L1085,826.1 L1084,832.5 L1083,843.0 L1082,857.5 L1081,864.3 L1080,867.7 L1079,867.7 L1078,867.7 L1077,867.7 L1076,867.7 L1075,862.8 L1074,851.4 L1073,847.5 L1072,843.3 L1071,843.3 L1070,850.3 L1069,854.1 L1068,869.1 L1067,877.8 L1066,884.6 L1065,890.0 L1064,890.0 L1063,890.0 L1062,890.0 L1061,890.0 L1060,889.0 L1059,882.7 L1058,872.5 L1057,859.3 L1056,850.3 L1055,850.3 L1054,840.9 L1053,840.9 L1052,840.9 L1051,840.9 L1050,840.9 L1049,840.0 L1048,842.6 L1047,845.7 L1046,848.0 L1045,849.7 L1044,849.7 L1043,852.0 L1042,854.7 L1041,856.0 L1040,860.8 L1039,864.5 L1038,866.4 L1037,866.4 L1036,869.0 L1035,870.0 L1034,870.0 L1033,870.0 L1032,870.0 L1031,870.0 L1030,865.1 L1029,862.0 L1028,860.9 L1027,857.4 L1026,851.4 L1025,855.7 L1024,855.7 L1023,858.0 L1022,863.3 L1021,863.6 L1020,876.0 L1019,878.4 L1018,878.4 L1017,890.1 L1016,898.5 L1015,900.0 L1014,900.0 L1013,900.0 L1012,900.0 L1011,900.0 L1010,882.1 L1009,859.7 L1008,856.2 L1007,861.6 L1006,882.5 L1005,902.9 L1004,915.5 L1003,916.6 L1002,916.7 L1001,916.7 L1000,916.7 L999,916.7 L998,916.7 L997,915.2 L996,911.4 L995,894.0 L994,882.6 L993,875.3 L992,870.4 L991,867.2 L990,872.4 L989,883.2 L988,894.0 L987,904.4 L986,906.2 L985,906.7 L984,906.7 L983,906.7 L982,906.7 L981,906.7 L980,903.7 L979,896.9 L978,898.6 L977,901.5 L976,911.6 L975,928.5 L974,931.2 L973,949.1 L972,960.0 L971,960.0 L970,960.0 L969,960.0 L968,960.0 L967,946.5 L966,920.5 L965,898.1 L964,899.0 L963,899.0 L962,903.2 L961,904.0 L960,906.7 L959,910.0 L958,910.0 L957,910.0 L956,910.0 L955,910.0 L954,908.5 L953,902.2 L952,902.0 L951,902.0 L950,902.0 L949,911.3 L948,918.6 L947,922.9 L946,925.7 L945,926.7 L944,926.7 L943,926.7 L942,926.7 L941,926.7 L940,920.2 L939,916.9 L938,916.4 L937,913.5 L936,906.5 L935,899.1 L934,904.3 L933,908.1 L932,912.4 L931,916.8 L930,916.8 L929,927.4 L928,939.1 L927,945.4 L926,945.4 L925,945.4 L924,945.4 L923,945.4 L922,944.9 L921,943.3 L920,933.0 L919,920.2 L918,905.7 L917,920.1 L916,937.0 L915,952.0 L914,965.5 L913,972.8 L912,980.1 L911,987.0 L910,987.0 L909,987.0 L908,987.0 L907,987.0 L906,986.0 L905,979.4 L904,979.4 L903,982.0 L902,983.3 L901,983.3 L900,983.3 L899,983.3 L898,983.3 L897,979.5 L896,972.2 L895,965.2 L894,959.4 L893,953.2 L892,946.4 L891,948.5 L890,956.5 L889,962.0 L888,964.0 L887,964.0 L886,965.2 L885,968.6 L884,981.4 L883,1003.7 L882,1024.1 L881,1043.6 L880,1054.4 L879,1056.7 L878,1056.7 L877,1056.7 L876,1056.7 L875,1056.7 L874,1051.2 L873,1021.4 L872,993.3 L871,993.3 L870,993.3 L869,993.3 L868,993.3 L867,990.0 L866,990.0 L865,990.0 L864,983.6 L863,974.3 L862,968.4 L861,968.4 L860,968.4 L859,968.4 L858,968.4 L857,968.0 L856,964.2 L855,963.7 L854,971.4 L853,982.2 L852,990.1 L851,991.6 L850,996.1 L849,1003.3 L848,1003.3 L847,1003.3 L846,1003.3 L845,1003.3 L844,1001.3 L843,991.4 L842,984.9 L841,983.5 L840,982.0 L839,975.8 L838,969.8 L837,970.2 L836,970.2 L835,970.5 L834,976.4 L833,988.2 L832,1005.1 L831,1008.1 L830,1011.1 L829,1023.3 L828,1023.3 L827,1023.3 L826,1023.3 L825,1023.3 L824,1018.8 L823,1000.7 L822,1000.7 L821,1014.5 L820,1032.3 L819,1047.1 L818,1052.9 L817,1053.9 L816,1053.9 L815,1053.9 L814,1053.9 L813,1053.9 L812,1040.4 L811,1033.7 L810,1033.7 L809,1033.7 L808,1023.0 L807,1020.7 L806,1020.2 L805,1017.8 L804,1014.9 L803,1014.2 L802,1014.2 L801,1012.5 L800,1014.8 L799,1016.8 L798,1016.8 L797,1016.8 L796,1016.8 L795,1016.8 L794,1015.2 L793,1015.2 L792,1021.6 L791,1051.0 L790,1074.9 L789,1093.3 L788,1093.3 L787,1093.3 L786,1093.3 L785,1093.3 L784,1087.8 L783,1056.4 L782,1040.3 L781,1042.3 L780,1049.9 L779,1063.3 L778,1063.3 L777,1063.3 L776,1063.3 L775,1063.3 L774,1062.9 L773,1061.2 L772,1051.5 L771,1051.2 L770,1059.9 L769,1066.7 L768,1066.7 L767,1066.7 L766,1066.7 L765,1066.7 L764,1065.2 L763,1058.8 L762,1051.1 L761,1038.8 L760,1024.4 L759,1025.2 L758,1030.0 L757,1030.0 L756,1030.0 L755,1035.3 L754,1040.7 L753,1045.6 L752,1046.1 L751,1046.1 L750,1046.1 L749,1053.0 L748,1056.4 L747,1056.4 L746,1056.4 L745,1073.7 L744,1099.1 L743,1123.8 L742,1136.7 L741,1136.7 L740,1136.7 L739,1136.7 L738,1136.7 L737,1133.2 L736,1125.9 L735,1116.7 L734,1107.8 L733,1095.4 L732,1082.1 L731,1082.1 L730,1082.1 L729,1082.1 L728,1093.9 L727,1111.7 L726,1133.2 L725,1136.7 L724,1136.7 L723,1136.7 L722,1136.7 L721,1136.7 L720,1126.9 L719,1122.8 L718,1120.4 L717,1107.6 L716,1096.3 L715,1087.8 L714,1095.3 L713,1118.1 L712,1130.0 L711,1130.0 L710,1130.0 L709,1130.0 L708,1130.0 L707,1128.2 L706,1124.5 L705,1113.2 L704,1102.4 L703,1090.7 L702,1078.5 L701,1077.7 L700,1077.7 L699,1078.1 L698,1088.8 L697,1093.7 L696,1099.5 L695,1107.8 L694,1116.7 L693,1125.6 L692,1130.5 L691,1131.8 L690,1132.8 L689,1133.3 L688,1134.5 L687,1135.0 L686,1135.0 L685,1135.0 L684,1135.0 L683,1135.0 L682,1135.0 L681,1133.1 L680,1129.7 L679,1131.9 L678,1136.3 L677,1139.1 L676,1139.7 L675,1140.0 L674,1140.0 L673,1140.0 L672,1140.0 L671,1140.0 L670,1137.6 L669,1135.6 L668,1134.2 L667,1134.2 L666,1134.2 L665,1132.3 L664,1128.5 L663,1121.3 L662,1114.4 L661,1118.9 L660,1125.7 L659,1131.4 L658,1138.2 L657,1150.9 L656,1169.8 L655,1181.2 L654,1191.5 L653,1203.5 L652,1210.0 L651,1210.0 L650,1210.0 L649,1210.0 L648,1210.0 L647,1207.6 L646,1200.3 L645,1181.5 L644,1176.1 L643,1176.1 L642,1188.8 L641,1194.7 L640,1194.7 L639,1194.7 L638,1201.3 L637,1216.7 L636,1225.2 L635,1226.7 L634,1226.7 L633,1226.7 L632,1226.7 L631,1226.7 L630,1208.4 L629,1187.1 L628,1177.7 L627,1179.8 L626,1182.2 L625,1182.2 L624,1191.1 L623,1192.1 L622,1196.4 L621,1209.1 L620,1215.4 L619,1221.2 L618,1236.0 L617,1243.3 L616,1243.3 L615,1243.3 L614,1243.3 L613,1243.3 L612,1237.5 L611,1225.3 L610,1205.9 L609,1191.6 L608,1200.9 L607,1200.9 L606,1200.9 L605,1200.9 L604,1200.9 L603,1200.4 L602,1213.7 L601,1233.4 L600,1251.1 L599,1270.0 L598,1285.3 L597,1298.1 L596,1316.5 L595,1320.0 L594,1320.0 L593,1320.0 L592,1320.0 L591,1320.0 L590,1298.5 L589,1274.6 L588,1257.9 L587,1253.2 L586,1253.2 L585,1253.2 L584,1253.2 L583,1252.3 L582,1247.8 L581,1251.2 L580,1261.6 L579,1267.3 L578,1276.2 L577,1287.6 L576,1289.5 L575,1290.0 L574,1290.0 L573,1290.0 L572,1290.0 L571,1290.0 L570,1283.6 L569,1277.3 L568,1272.1 L567,1264.4 L566,1257.5 L565,1258.5 L564,1268.2 L563,1272.0 L562,1273.4 L561,1273.9 L560,1279.2 L559,1281.5 L558,1283.0 L557,1283.1 L556,1285.8 L555,1286.7 L554,1286.7 L553,1288.5 L552,1289.0 L551,1289.0 L550,1289.0 L549,1289.0 L548,1289.0 L547,1287.6 L546,1287.6 L545,1287.1 L544,1292.6 L543,1304.0 L542,1317.9 L541,1325.7 L540,1334.5 L539,1343.3 L538,1346.0 L537,1347.0 L536,1347.0 L535,1347.0 L534,1347.0 L533,1347.0 L532,1342.5 L531,1342.7 L530,1342.7 L529,1342.7 L528,1342.7 L527,1342.7 L526,1339.7 L525,1336.6 L524,1350.9 L523,1354.8 L522,1356.7 L521,1356.7 L520,1356.7 L519,1356.7 L518,1356.7 L517,1351.2 L516,1340.7 L515,1333.3 L514,1337.2 L513,1357.7 L512,1372.0 L511,1384.8 L510,1405.6 L509,1433.5 L508,1455.5 L507,1486.4 L506,1526.3 L505,1533.3 L504,1533.3 L503,1533.3 L502,1533.3 L501,1533.3 L500,1497.0 L499,1453.2 L498,1406.3 L497,1401.0 L496,1405.4 L495,1405.4 L494,1405.4 L493,1405.4 L492,1405.4 L491,1396.2 L490,1394.3 L489,1395.9 L488,1398.1 L487,1400.3 L486,1402.9 L485,1408.7 L484,1412.6 L483,1415.5 L482,1423.3 L481,1433.1 L480,1438.8 L479,1440.0 L478,1440.0 L477,1440.0 L476,1440.0 L475,1440.0 L474,1437.0 L473,1421.7 L472,1408.9 L471,1402.9 L470,1402.9 L469,1406.8 L468,1429.6 L467,1451.9 L466,1472.7 L465,1476.7 L464,1476.7 L463,1476.7 L462,1476.7 L461,1476.7 L460,1471.4 L459,1466.3 L458,1461.1 L457,1452.2 L456,1443.3 L455,1431.4 L454,1427.8 L453,1429.2 L452,1438.4 L451,1455.8 L450,1463.2 L449,1465.2 L448,1468.1 L447,1470.2 L446,1470.3 L445,1470.4 L444,1470.4 L443,1470.4 L442,1470.4 L441,1470.4 L440,1467.0 L439,1473.4 L438,1482.2 L437,1487.5 L436,1494.2 L435,1502.5 L434,1503.0 L433,1503.0 L432,1503.0 L431,1503.0 L430,1503.0 L429,1492.0 L428,1492.0 L427,1492.0 L426,1492.0 L425,1489.6 L424,1482.1 L423,1472.3 L422,1467.0 L421,1467.0 L420,1467.0 L419,1472.6 L418,1480.6 L417,1483.5 L416,1485.7 L415,1487.9 L414,1490.2 L413,1492.5 L412,1494.3 L411,1497.7 L410,1502.7 L409,1503.9 L408,1507.5 L407,1515.5 L406,1523.3 L405,1531.1 L404,1536.9 L403,1543.7 L402,1550.0 L401,1550.0 L400,1550.0 L399,1550.0 L398,1550.0 L397,1550.2 L396,1550.2 L395,1550.2 L394,1550.2 L393,1550.2 L392,1549.2 L391,1546.8 L390,1546.5 L389,1546.5 L388,1547.1 L387,1547.1 L386,1548.8 L385,1553.3 L384,1554.8 L383,1557.2 L382,1560.1 L381,1563.9 L380,1567.2 L379,1567.2 L378,1567.2 L377,1567.2 L376,1567.2 L375,1566.3 L374,1562.6 L373,1558.7 L372,1554.2 L371,1565.8 L370,1569.1 L369,1569.4 L368,1569.4 L367,1569.4 L366,1569.4 L365,1569.4 L364,1568.4 L363,1568.3 L362,1573.2 L361,1580.5 L360,1591.3 L359,1599.0 L358,1604.8 L357,1604.8 L356,1604.8 L355,1604.8 L354,1604.8 L353,1603.4 L352,1600.1 L351,1597.8 L350,1596.0 L349,1593.5 L348,1597.3 L347,1600.1 L346,1602.1 L345,1603.5 L344,1605.3 L343,1609.2 L342,1614.1 L341,1618.9 L340,1618.9 L339,1618.9 L338,1618.9 L337,1618.9 L336,1618.4 L335,1615.9 L334,1614.8 L333,1615.2 L332,1621.1 L331,1625.4 L330,1628.3 L329,1628.3 L328,1628.7 L327,1629.5 L326,1629.8 L325,1629.8 L324,1629.8 L323,1629.8 L322,1629.8 L321,1627.4 L320,1625.6 L319,1631.6 L318,1634.6 L317,1641.0 L316,1649.7 L315,1650.2 L314,1650.2 L313,1650.2Z" fill="#FF0000" stroke="#FF0000" stroke-width="7" stroke-linejoin="round"/>
<path d="M305,1657.5 L306,1655.1 L307,1653.2 L308,1652.2 L309,1652.2 L310,1651.7 L311,1650.7 L312,1650.2 L313,1644.7 L314,1639.3 L315,1633.9 L316,1632.6 L317,1631.5 L318,1631.0 L319,1631.0 L320,1631.0 L321,1632.0 L322,1634.3 L323,1635.0 L324,1634.7 L325,1634.5 L326,1634.5 L327,1634.5 L328,1637.9 L329,1630.5 L330,1614.2 L331,1614.2 L332,1614.2 L333,1614.7 L334,1616.1 L335,1616.1 L336,1616.6 L337,1617.4 L338,1620.6 L339,1622.5 L340,1623.1 L341,1625.3 L342,1627.0 L343,1626.8 L344,1626.4 L345,1625.5 L346,1625.5 L347,1625.3 L348,1624.0 L349,1613.8 L350,1607.7 L351,1607.4 L352,1607.0 L353,1606.2 L354,1604.2 L355,1602.4 L356,1601.1 L357,1601.1 L358,1601.1 L359,1601.2 L360,1598.7 L361,1594.7 L362,1592.8 L363,1588.9 L364,1586.0 L365,1586.0 L366,1586.0 L367,1587.0 L368,1589.4 L369,1587.3 L370,1583.4 L371,1582.9 L372,1581.6 L373,1578.6 L374,1578.2 L375,1578.2 L376,1578.0 L377,1577.7 L378,1577.6 L379,1577.6 L380,1577.3 L381,1575.9 L382,1575.9 L383,1575.9 L384,1575.9 L385,1575.9 L386,1575.9 L387,1575.9 L388,1576.9 L389,1578.2 L390,1578.2 L391,1578.2 L392,1578.2 L393,1575.9 L394,1573.1 L395,1568.9 L396,1566.0 L397,1563.1 L398,1559.9 L399,1558.5 L400,1556.8 L401,1553.0 L402,1551.5 L403,1551.5 L404,1551.5 L405,1552.3 L406,1552.3 L407,1552.3 L408,1551.6 L409,1547.7 L410,1544.4 L411,1541.1 L412,1536.8 L413,1535.1 L414,1533.8 L415,1532.5 L416,1530.7 L417,1529.5 L418,1528.8 L419,1528.0 L420,1528.0 L421,1528.0 L422,1530.5 L423,1533.9 L424,1534.0 L425,1531.6 L426,1530.1 L427,1529.6 L428,1529.6 L429,1529.3 L430,1527.5 L431,1524.6 L432,1524.0 L433,1523.4 L434,1523.4 L435,1523.4 L436,1524.1 L437,1524.1 L438,1524.1 L439,1524.4 L440,1519.6 L441,1514.2 L442,1508.2 L443,1501.8 L444,1498.3 L445,1498.3 L446,1498.3 L447,1499.2 L448,1500.5 L449,1506.2 L450,1508.3 L451,1502.9 L452,1498.1 L453,1493.5 L454,1489.7 L455,1487.3 L456,1487.3 L457,1487.3 L458,1490.7 L459,1497.6 L460,1502.4 L461,1507.7 L462,1505.6 L463,1502.3 L464,1499.9 L465,1496.6 L466,1493.8 L467,1492.0 L468,1486.1 L469,1482.6 L470,1482.6 L471,1482.6 L472,1487.5 L473,1497.7 L474,1504.0 L475,1495.5 L476,1493.3 L477,1492.0 L478,1492.0 L479,1492.0 L480,1490.9 L481,1490.6 L482,1490.5 L483,1490.5 L484,1490.5 L485,1492.4 L486,1493.7 L487,1494.9 L488,1496.3 L489,1490.4 L490,1482.5 L491,1475.2 L492,1467.9 L493,1467.0 L494,1467.0 L495,1467.0 L496,1466.9 L497,1466.9 L498,1466.9 L499,1464.5 L500,1459.2 L501,1454.3 L502,1450.0 L503,1450.0 L504,1450.0 L505,1450.4 L506,1451.5 L507,1451.6 L508,1452.5 L509,1453.7 L510,1453.3 L511,1450.5 L512,1449.5 L513,1448.9 L514,1446.5 L515,1443.8 L516,1442.4 L517,1441.0 L518,1440.1 L519,1440.1 L520,1440.1 L521,1440.6 L522,1442.1 L523,1442.1 L524,1441.6 L525,1441.1 L526,1438.8 L527,1438.6 L528,1438.6 L529,1438.6 L530,1436.6 L531,1433.7 L532,1431.2 L533,1429.8 L534,1429.7 L535,1423.4 L536,1417.0 L537,1413.0 L538,1412.5 L539,1412.5 L540,1412.5 L541,1413.1 L542,1415.8 L543,1420.2 L544,1430.9 L545,1432.3 L546,1434.2 L547,1434.9 L548,1434.9 L549,1439.8 L550,1426.8 L551,1411.9 L552,1400.0 L553,1400.0 L554,1400.0 L555,1400.5 L556,1402.0 L557,1403.8 L558,1405.7 L559,1408.5 L560,1410.3 L561,1412.1 L562,1413.9 L563,1417.2 L564,1416.8 L565,1414.1 L566,1410.0 L567,1407.3 L568,1405.1 L569,1403.3 L570,1403.3 L571,1403.3 L572,1405.7 L573,1410.6 L574,1414.0 L575,1417.8 L576,1423.2 L577,1429.1 L578,1430.0 L579,1431.8 L580,1431.1 L581,1431.1 L582,1431.1 L583,1431.7 L584,1431.7 L585,1431.7 L586,1432.0 L587,1429.5 L588,1421.4 L589,1418.5 L590,1417.1 L591,1417.0 L592,1415.1 L593,1409.2 L594,1403.4 L595,1403.3 L596,1402.3 L597,1400.9 L598,1399.0 L599,1392.0 L600,1389.3 L601,1386.6 L602,1382.4 L603,1374.7 L604,1366.9 L605,1358.1 L606,1356.6 L607,1356.4 L608,1356.4 L609,1356.4 L610,1358.4 L611,1362.7 L612,1363.4 L613,1363.4 L614,1363.8 L615,1365.0 L616,1367.0 L617,1368.8 L618,1366.9 L619,1365.5 L620,1364.9 L621,1364.2 L622,1363.3 L623,1363.3 L624,1363.3 L625,1364.2 L626,1364.2 L627,1364.2 L628,1367.5 L629,1370.0 L630,1363.7 L631,1357.8 L632,1355.9 L633,1352.5 L634,1347.1 L635,1341.4 L636,1339.5 L637,1338.6 L638,1338.6 L639,1338.6 L640,1340.9 L641,1345.3 L642,1351.6 L643,1354.4 L644,1356.2 L645,1357.6 L646,1350.2 L647,1323.3 L648,1323.3 L649,1323.3 L650,1324.8 L651,1325.1 L652,1325.1 L653,1325.9 L654,1327.7 L655,1332.0 L656,1335.1 L657,1335.8 L658,1331.3 L659,1331.3 L660,1331.3 L661,1331.8 L662,1335.4 L663,1335.0 L664,1335.0 L665,1335.0 L666,1335.4 L667,1335.7 L668,1335.7 L669,1335.7 L670,1336.7 L671,1336.7 L672,1336.7 L673,1336.7 L674,1336.7 L675,1339.1 L676,1352.9 L677,1352.6 L678,1343.6 L679,1339.2 L680,1332.8 L681,1325.0 L682,1316.7 L683,1316.7 L684,1313.2 L685,1310.8 L686,1310.8 L687,1306.4 L688,1304.2 L689,1302.4 L690,1299.6 L691,1299.4 L692,1297.8 L693,1295.8 L694,1295.8 L695,1295.8 L696,1295.6 L697,1294.2 L698,1293.6 L699,1293.3 L700,1293.3 L701,1293.3 L702,1294.7 L703,1297.5 L704,1302.4 L705,1303.7 L706,1304.8 L707,1306.1 L708,1306.5 L709,1306.5 L710,1306.5 L711,1304.3 L712,1304.3 L713,1304.3 L714,1303.6 L715,1301.8 L716,1301.8 L717,1301.8 L718,1301.9 L719,1296.5 L720,1289.7 L721,1283.9 L722,1282.5 L723,1281.9 L724,1275.6 L725,1270.9 L726,1270.0 L727,1270.0 L728,1270.0 L729,1281.3 L730,1294.5 L731,1302.0 L732,1302.0 L733,1291.9 L734,1286.9 L735,1284.5 L736,1283.5 L737,1283.3 L738,1279.2 L739,1274.2 L740,1268.7 L741,1255.8 L742,1243.3 L743,1241.5 L744,1241.0 L745,1241.0 L746,1241.0 L747,1252.8 L748,1257.2 L749,1258.7 L750,1264.5 L751,1268.5 L752,1269.9 L753,1270.4 L754,1270.2 L755,1269.4 L756,1269.1 L757,1269.1 L758,1267.4 L759,1267.4 L760,1266.4 L761,1264.5 L762,1264.5 L763,1264.5 L764,1266.4 L765,1267.2 L766,1261.3 L767,1261.3 L768,1261.3 L769,1261.7 L770,1264.7 L771,1266.2 L772,1275.0 L773,1290.8 L774,1288.6 L775,1279.4 L776,1272.7 L777,1263.7 L778,1253.0 L779,1246.7 L780,1246.7 L781,1246.7 L782,1243.8 L783,1241.9 L784,1241.9 L785,1241.9 L786,1241.6 L787,1241.6 L788,1239.7 L789,1239.7 L790,1239.7 L791,1240.2 L792,1239.5 L793,1236.1 L794,1233.2 L795,1230.5 L796,1230.0 L797,1230.0 L798,1230.0 L799,1231.0 L800,1230.6 L801,1230.6 L802,1230.6 L803,1232.9 L804,1234.7 L805,1235.4 L806,1235.4 L807,1235.4 L808,1236.7 L809,1237.9 L810,1236.8 L811,1231.5 L812,1229.2 L813,1227.8 L814,1227.0 L815,1223.7 L816,1219.4 L817,1213.5 L818,1213.0 L819,1213.0 L820,1213.0 L821,1213.2 L822,1217.2 L823,1224.1 L824,1218.3 L825,1205.8 L826,1201.4 L827,1199.5 L828,1199.5 L829,1199.5 L830,1198.4 L831,1195.2 L832,1191.2 L833,1188.8 L834,1187.3 L835,1187.3 L836,1187.3 L837,1188.2 L838,1190.0 L839,1193.8 L840,1199.1 L841,1205.7 L842,1205.3 L843,1205.3 L844,1205.3 L845,1206.2 L846,1205.6 L847,1203.2 L848,1202.8 L849,1201.9 L850,1198.1 L851,1198.1 L852,1192.7 L853,1184.9 L854,1181.1 L855,1178.3 L856,1176.0 L857,1175.6 L858,1167.7 L859,1163.3 L860,1163.3 L861,1163.3 L862,1172.2 L863,1189.4 L864,1200.6 L865,1190.4 L866,1182.6 L867,1176.7 L868,1172.4 L869,1170.0 L870,1170.0 L871,1170.0 L872,1176.9 L873,1189.7 L874,1209.4 L875,1211.2 L876,1211.2 L877,1211.2 L878,1201.6 L879,1195.3 L880,1193.8 L881,1188.5 L882,1182.7 L883,1178.0 L884,1175.1 L885,1170.9 L886,1170.0 L887,1170.0 L888,1170.0 L889,1170.7 L890,1169.8 L891,1169.8 L892,1169.8 L893,1171.2 L894,1173.5 L895,1176.2 L896,1178.2 L897,1179.8 L898,1180.0 L899,1180.3 L900,1172.2 L901,1163.4 L902,1162.0 L903,1160.7 L904,1160.3 L905,1160.0 L906,1159.4 L907,1159.1 L908,1159.1 L909,1158.3 L910,1157.1 L911,1156.4 L912,1156.4 L913,1156.4 L914,1157.4 L915,1159.9 L916,1164.7 L917,1169.9 L918,1172.3 L919,1176.8 L920,1159.2 L921,1139.3 L922,1137.8 L923,1137.8 L924,1137.8 L925,1142.1 L926,1146.9 L927,1153.7 L928,1151.8 L929,1144.3 L930,1137.8 L931,1137.8 L932,1137.8 L933,1139.3 L934,1146.2 L935,1151.5 L936,1154.4 L937,1160.2 L938,1153.8 L939,1153.8 L940,1153.8 L941,1151.4 L942,1148.0 L943,1145.2 L944,1141.9 L945,1140.1 L946,1140.1 L947,1140.1 L948,1140.8 L949,1141.6 L950,1143.4 L951,1146.2 L952,1140.5 L953,1114.5 L954,1114.0 L955,1114.0 L956,1114.0 L957,1128.5 L958,1144.0 L959,1160.9 L960,1168.3 L961,1173.7 L962,1176.5 L963,1171.8 L964,1161.5 L965,1157.3 L966,1150.5 L967,1142.3 L968,1129.9 L969,1121.6 L970,1121.6 L971,1121.6 L972,1124.0 L973,1131.2 L974,1141.0 L975,1152.4 L976,1147.2 L977,1137.9 L978,1127.6 L979,1120.3 L980,1120.3 L981,1120.3 L982,1124.7 L983,1138.6 L984,1140.1 L985,1135.8 L986,1127.3 L987,1120.4 L988,1113.5 L989,1108.1 L990,1102.8 L991,1102.8 L992,1102.8 L993,1103.3 L994,1110.7 L995,1118.6 L996,1111.0 L997,1100.6 L998,1095.2 L999,1095.2 L1000,1095.2 L1001,1099.1 L1002,1106.3 L1003,1112.6 L1004,1118.9 L1005,1120.0 L1006,1112.7 L1007,1107.4 L1008,1103.6 L1009,1100.3 L1010,1100.3 L1011,1100.3 L1012,1103.2 L1013,1115.6 L1014,1109.3 L1015,1085.0 L1016,1084.0 L1017,1084.0 L1018,1084.0 L1019,1091.4 L1020,1098.4 L1021,1104.7 L1022,1109.3 L1023,1107.8 L1024,1096.9 L1025,1085.6 L1026,1074.8 L1027,1071.4 L1028,1071.4 L1029,1071.4 L1030,1075.9 L1031,1082.8 L1032,1088.2 L1033,1093.6 L1034,1094.9 L1035,1091.4 L1036,1088.0 L1037,1086.5 L1038,1086.5 L1039,1086.5 L1040,1087.8 L1041,1084.3 L1042,1083.8 L1043,1083.8 L1044,1083.8 L1045,1090.1 L1046,1096.9 L1047,1101.5 L1048,1077.1 L1049,1013.8 L1050,1013.8 L1051,1013.8 L1052,1017.3 L1053,1041.7 L1054,1066.2 L1055,1083.5 L1056,1096.2 L1057,1108.0 L1058,1117.8 L1059,1118.8 L1060,1112.0 L1061,1102.7 L1062,1089.8 L1063,1080.8 L1064,1073.9 L1065,1070.0 L1066,1070.0 L1067,1070.0 L1068,1073.4 L1069,1075.1 L1070,1075.1 L1071,1080.4 L1072,1086.0 L1073,1086.0 L1074,1093.2 L1075,1098.3 L1076,1089.3 L1077,1089.3 L1078,1088.9 L1079,1080.5 L1080,1070.6 L1081,1067.2 L1082,1066.7 L1083,1066.7 L1084,1066.7 L1085,1068.6 L1086,1071.5 L1087,1076.7 L1088,1084.6 L1089,1092.0 L1090,1097.8 L1091,1100.7 L1092,1108.2 L1093,1108.2 L1094,1072.1 L1095,1046.7 L1096,1046.7 L1097,1046.7 L1098,1047.5 L1099,1049.0 L1100,1056.2 L1101,1055.3 L1102,1055.3 L1103,1055.3 L1104,1064.3 L1105,1064.3 L1106,1063.6 L1107,1062.3 L1108,1054.9 L1109,1047.6 L1110,1041.8 L1111,1034.8 L1112,1033.3 L1113,1033.3 L1114,1032.2 L1115,1031.8 L1116,1031.8 L1117,1031.8 L1118,1034.0 L1119,1035.4 L1120,1036.8 L1121,1036.7 L1122,1036.7 L1123,1036.7 L1124,1036.7 L1125,1037.1 L1126,1038.1 L1127,1039.0 L1128,1039.9 L1129,1042.1 L1130,1045.3 L1131,1049.0 L1132,1049.6 L1133,1049.6 L1134,1049.6 L1135,1050.6 L1136,1045.2 L1137,1039.0 L1138,1035.9 L1139,1034.1 L1140,1032.8 L1141,1032.4 L1142,1028.0 L1143,1020.0 L1144,1020.0 L1145,1020.0 L1146,1021.5 L1147,1029.7 L1148,1035.0 L1149,1037.7 L1150,1042.7 L1151,1047.6 L1152,1051.9 L1153,1056.4 L1154,1056.4 L1155,1056.4 L1156,1062.4 L1157,1058.0 L1158,1040.7 L1159,1026.9 L1160,1020.0 L1161,1020.0 L1162,1020.0 L1163,1023.3 L1164,1029.4 L1165,1030.1 L1166,1029.8 L1167,1029.8 L1168,1029.8 L1169,1033.3 L1170,1038.7 L1171,1040.7 L1172,1040.7 L1173,1042.2 L1174,1043.1 L1175,1038.7 L1176,1034.4 L1177,1031.9 L1178,1031.9 L1179,1027.0 L1180,1025.3 L1181,1024.2 L1182,1021.8 L1183,1011.8 L1184,1009.9 L1185,1009.9 L1186,1009.9 L1187,1012.3 L1188,1014.3 L1189,1016.2 L1190,1016.9 L1191,1020.2 L1192,1024.4 L1193,1026.1 L1194,1029.6 L1195,1032.5 L1196,1034.0 L1197,1025.7 L1198,1018.8 L1199,1013.5 L1200,1010.8 L1201,1007.6 L1202,1003.8 L1203,1000.0 L1204,1000.0 L1205,1000.0 L1206,1000.4 L1207,1001.5 L1208,1001.1 L1209,1001.1 L1210,1000.7 L1211,1000.2 L1212,1000.2 L1213,1000.2 L1214,1002.1 L1215,1002.6 L1216,1002.7 L1217,1003.1 L1218,1003.3 L1219,1003.8 L1220,1006.8 L1221,1007.6 L1222,1008.4 L1223,1009.6 L1224,1011.1 L1225,1011.1 L1226,1015.1 L1227,1022.0 L1228,1020.0 L1229,1020.0 L1230,1018.6 L1231,1015.8 L1232,1014.0 L1233,1012.8 L1234,1000.1 L1235,984.6 L1236,984.6 L1237,984.6 L1238,985.0 L1239,986.7 L1240,1037.2 L1241,1054.0 L1242,1053.9 L1243,1045.3 L1244,1035.9 L1245,1027.0 L1246,1025.2 L1247,1022.8 L1248,1019.5 L1249,1014.0 L1250,1013.0 L1251,1012.3 L1252,1001.7 L1253,994.0 L1254,992.5 L1255,992.5 L1256,992.5 L1257,993.1 L1258,996.2 L1259,1000.3 L1260,1001.5 L1261,1006.2 L1262,1012.5 L1263,1018.4 L1264,1005.1 L1265,1005.1 L1266,1002.0 L1267,997.6 L1268,993.3 L1269,993.3 L1270,993.3 L1271,994.8 L1272,1000.2 L1273,1000.2 L1274,1001.2 L1275,1004.2 L1276,1012.0 L1277,1017.8 L1278,1021.1 L1279,990.7 L1280,973.3 L1281,973.3 L1282,973.2 L1283,972.3 L1284,972.3 L1285,972.3 L1286,975.1 L1287,978.4 L1288,979.5 L1289,978.2 L1290,976.6 L1291,973.8 L1292,966.3 L1293,955.0 L1294,947.6 L1295,942.7 L1296,940.4 L1297,940.0 L1298,940.0 L1299,940.0 L1300,978.8 L1301,999.8 L1302,999.8 L1303,995.6 L1304,989.3 L1305,989.3 L1306,985.0 L1307,980.1 L1308,976.7 L1309,976.7 L1310,976.7 L1311,977.6 L1312,980.1 L1313,980.1 L1314,981.6 L1315,983.0 L1316,983.0 L1317,980.8 L1318,979.9 L1319,979.9 L1320,979.9 L1321,986.7 L1322,985.7 L1323,979.8 L1324,973.4 L1325,968.7 L1326,966.4 L1327,963.6 L1328,960.2 L1329,956.9 L1330,956.4 L1331,956.3 L1332,947.0 L1333,932.8 L1334,928.5 L1335,926.7 L1336,926.7 L1337,926.7 L1338,937.7 L1339,958.6 L1340,981.6 L1341,977.5 L1342,977.5 L1343,977.5 L1344,978.3 L1345,971.5 L1346,970.6 L1347,967.2 L1348,963.3 L1349,963.3 L1350,963.3 L1351,964.8 L1352,970.5 L1353,977.9 L1354,983.7 L1355,988.5 L1356,993.6 L1357,987.2 L1358,978.9 L1359,974.1 L1360,974.1 L1361,962.0 L1362,957.5 L1363,955.0 L1364,955.0 L1365,955.0 L1366,955.1 L1367,955.2 L1368,956.3 L1369,952.0 L1370,949.2 L1371,949.2 L1372,949.2 L1373,950.1 L1374,952.9 L1375,956.7 L1376,960.9 L1377,966.6 L1378,975.3 L1379,982.8 L1380,980.3 L1381,974.8 L1382,974.8 L1383,966.3 L1384,958.4 L1385,954.1 L1386,954.1 L1387,952.5 L1388,946.2 L1389,941.3 L1390,935.9 L1391,930.4 L1392,926.6 L1393,923.3 L1394,923.3 L1395,923.3 L1396,924.8 L1397,933.7 L1398,941.5 L1399,949.3 L1400,958.7 L1401,959.6 L1402,959.0 L1403,958.6 L1404,958.6 L1405,957.1 L1406,956.9 L1407,955.5 L1408,953.3 L1409,953.3 L1410,953.3 L1411,953.8 L1412,953.1 L1413,953.1 L1414,953.1 L1415,953.5 L1416,955.2 L1417,954.6 L1418,954.1 L1419,954.1 L1420,954.1 L1421,958.3 L1422,955.2 L1423,949.5 L1424,944.8 L1425,941.6 L1426,936.8 L1427,933.0 L1428,930.0 L1429,930.0 L1430,930.0 L1431,930.4 L1432,932.6 L1433,945.9 L1434,956.2 L1435,960.4 L1436,966.2 L1437,960.3 L1438,952.1 L1439,945.9 L1440,942.0 L1441,938.7 L1442,936.3 L1443,936.3 L1444,933.8 L1445,930.0 L1446,930.0 L1447,930.0 L1448,940.4 L1449,960.3 L1450,964.5 L1451,962.3 L1452,958.6 L1453,952.5 L1454,944.8 L1455,940.0 L1456,940.0 L1457,940.0 L1458,940.6 L1459,940.6 L1460,940.6 L1461,942.8 L1462,942.8 L1463,942.8 L1464,947.5 L1465,949.1 L1466,949.1 L1467,949.1 L1468,951.9 L1469,953.5 L1470,954.3 L1471,955.6 L1472,955.5 L1473,951.6 L1474,948.9 L1475,940.1 L1476,938.5 L1477,935.4 L1478,929.5 L1479,926.3 L1480,925.4 L1481,925.4 L1482,925.4 L1483,925.8 L1484,925.0 L1485,925.0 L1486,925.0 L1487,924.3 L1488,920.0 L1489,920.0 L1490,920.0 L1491,922.0 L1492,934.4 L1493,945.3 L1494,943.4 L1495,938.0 L1496,936.9 L1497,934.2 L1498,930.0 L1499,926.5 L1500,926.0 L1501,926.0 L1502,926.0 L1503,926.4 L1504,928.1 L1505,930.0 L1506,930.0 L1507,930.0 L1508,930.7 L1509,931.4 L1510,932.1 L1511,932.5 L1512,932.9 L1513,932.2 L1514,932.2 L1515,932.2 L1516,933.5 L1517,935.6 L1518,936.4 L1519,938.3 L1520,938.7 L1521,938.7 L1522,938.7 L1523,940.7 L1524,940.7 L1525,941.1 L1526,937.5 L1527,936.9 L1528,936.2 L1529,934.1 L1530,928.8 L1531,926.4 L1532,925.4 L1533,923.9 L1534,921.5 L1535,919.9 L1536,919.7 L1537,915.9 L1538,913.6 L1539,911.8 L1540,911.8 L1541,908.9 L1542,905.6 L1543,903.3 L1544,903.3 L1545,903.3 L1546,904.3 L1547,909.5 L1548,915.8 L1549,922.6 L1550,929.6 L1551,926.7 L1552,924.1 L1553,919.4 L1554,917.6 L1555,916.7 L1556,916.7 L1557,916.7 L1558,918.1 L1559,920.2 L1560,920.9 L1561,922.7 L1562,925.0 L1563,927.1 L1564,934.6 L1565,937.6 L1566,937.4 L1567,937.4 L1568,937.4 L1569,937.5 L1570,937.5 L1571,937.5 L1572,935.1 L1573,932.3 L1574,930.9 L1575,928.1 L1576,924.2 L1577,920.4 L1578,917.0 L1579,912.3 L1580,910.0 L1581,910.0 L1582,910.0 L1583,912.0 L1584,914.9 L1585,915.8 L1586,918.6 L1587,921.1 L1588,921.6 L1589,924.2 L1590,923.3 L1591,921.5 L1592,919.8 L1593,918.1 L1594,915.3 L1595,913.3 L1596,913.3 L1597,913.3 L1598,913.8 L1599,913.8 L1600,913.8 L1601,914.9 L1602,914.9 L1603,915.3 L1604,917.3 L1605,918.5 L1606,918.7 L1607,918.4 L1608,918.4 L1609,918.4 L1610,919.2 L1611,920.5 L1612,922.4 L1613,924.3 L1614,924.5 L1615,924.5 L1616,925.7 L1617,927.6 L1618,929.9 L1619,919.4 L1620,909.5 L1621,901.5 L1622,898.7 L1623,897.3 L1624,897.3 L1625,896.4 L1626,895.9 L1627,894.8 L1628,892.9 L1629,891.4 L1630,889.0 L1631,887.0 L1632,886.2 L1633,880.5 L1634,879.6 L1635,879.6 L1636,879.6 L1637,881.9 L1638,886.3 L1639,891.2 L1640,895.1 L1641,900.0 L1642,905.0 L1643,909.9 L1644,912.8 L1645,914.5 L1646,914.5 L1647,914.9 L1648,917.1 L1649,917.1 L1650,918.4 L1651,920.7 L1652,923.1 L1653,923.9 L1654,924.5 L1655,925.0 L1656,922.5 L1657,919.0 L1658,915.2 L1659,912.7 L1660,910.8 L1661,907.6 L1662,906.7 L1663,906.7 L1664,905.7 L1665,902.4 L1666,901.5 L1667,901.5 L1668,901.5 L1669,901.5 L1670,901.0 L1671,901.0 L1672,901.0 L1673,901.4 L1674,901.0 L1675,900.0 L1676,900.0 L1677,899.4 L1678,899.0 L1679,898.7 L1680,898.7 L1681,897.7 L1682,897.0 L1683,896.5 L1684,896.5 L1685,896.5 L1686,896.3 L1687,895.0 L1688,895.0 L1689,895.0 L1690,895.8 L1691,897.2 L1692,897.5 L1693,897.5 L1694,898.2 L1695,899.2 L1696,899.6 L1697,900.0 L1698,900.4 L1699,900.8 L1700,902.0 L1701,903.3 L1702,903.3 L1703,903.3 L1704,903.3 L1705,905.5 L1706,908.8 L1707,912.3 L1708,912.5 L1709,914.9 L1710,918.2 L1711,919.6 L1712,921.4 L1713,916.1 L1714,910.3 L1715,909.6 L1716,900.5 L1717,891.6 L1718,886.7 L1719,884.4 L1720,880.6 L1721,877.7 L1722,877.7 L1723,877.7 L1724,872.8 L1725,868.5 L1726,867.8 L1727,867.2 L1728,866.7 L1729,866.7 L1730,866.7 L1731,867.7 L1732,872.6 L1733,876.3 L1734,878.6 L1735,880.4 L1736,884.0 L1737,888.0 L1738,891.3 L1739,891.6 L1740,891.6 L1741,891.9 L1742,892.1 L1743,892.1 L1744,892.1 L1745,895.3 L1746,894.9 L1747,894.9 L1748,894.9 L1749,895.8 L1750,896.5 L1751,897.1 L1752,899.3 L1753,899.3 L1754,902.2 L1755,907.1 L1756,905.3 L1757,902.8 L1758,900.0 L1759,896.7 L1760,894.4 L1761,893.5 L1762,893.5 L1763,889.3 L1764,887.5 L1765,886.2 L1766,884.9 L1767,884.9 L1768,884.9 L1769,885.4 L1770,887.3 L1771,888.3 L1772,888.8 L1773,888.8 L1774,888.8 L1775,890.1 L1776,890.6 L1777,890.0 L1778,890.0 L1779,889.7 L1780,889.4 L1781,889.0 L1782,887.8 L1783,887.4 L1784,887.4 L1785,887.4 L1786,887.9 L1787,886.9 L1788,886.7 L1789,885.1 L1790,884.6 L1791,884.5 L1792,884.5 L1793,884.5 L1794,884.6 L1795,883.9 L1796,883.9 L1797,883.9 L1798,882.8 L1799,882.8 L1800,882.8 L1801,883.6 L1802,883.9 L1803,882.1 L1804,881.6 L1805,881.6 L1806,881.6 L1807,882.9 L1808,887.2 L1809,890.8 L1810,882.6 L1811,875.3 L1812,868.9 L1813,861.7 L1814,852.0 L1815,846.5 L1816,846.4 L1817,846.2 L1818,846.2 L1819,846.2 L1820,848.1 L1821,848.1 L1822,848.6 L1823,849.5 L1824,850.8 L1825,852.6 L1826,854.8 L1827,855.3 L1828,855.9 L1829,856.6 L1830,860.0 L1831,862.8 L1832,865.0 L1833,866.7 L1834,875.0 L1835,878.5 L1836,879.5 L1837,883.8 L1838,887.1 L1839,889.0 L1840,879.5 L1841,879.0 L1842,879.0 L1843,879.0 L1844,876.2 L1845,873.8 L1846,870.9 L1847,867.6 L1848,866.7 L1849,866.7 L1850,866.7 L1851,868.9 L1852,872.2 L1853,875.7 L1854,881.7 L1855,884.1 L1856,884.9 L1857,884.9 L1858,883.5 L1859,880.3 L1860,878.0 L1861,876.5 L1862,876.1 L1863,876.1 L1864,876.1 L1865,875.5 L1866,874.8 L1867,874.3 L1868,874.0 L1869,872.7 L1870,872.3 L1871,872.3 L1872,872.3 L1873,873.0 L1874,874.2 L1875,874.7 L1876,874.9 L1877,874.9 L1878,875.4 L1879,877.9 L1880,879.2 L1881,879.9 L1882,880.0 L1883,879.6 L1884,878.4 L1885,877.7 L1886,877.7 L1887,877.6 L1888,876.7 L1889,876.7 L1890,876.7 L1891,876.3 L1892,875.7 L1893,875.7 L1894,875.7 L1895,876.0 L1896,876.5 L1897,877.1 L1898,877.3 L1899,877.4 L1900,877.3 L1901,875.7 L1902,873.4 L1903,872.9 L1904,870.2 L1905,865.9 L1906,861.6 L1907,860.7 L1908,860.7 L1909,860.7 L1910,856.3 L1911,853.3 L1912,853.3 L1913,853.3 L1914,855.3 L1915,858.2 L1916,860.9 L1917,860.9 L1918,861.5 L1919,860.1 L1920,858.0 L1921,855.1 L1922,853.6 L1923,852.8 L1924,852.8 L1925,847.1 L1926,845.1 L1927,845.1 L1928,845.1 L1929,847.2 L1930,842.9 L1931,840.0 L1932,840.0 L1933,840.0 L1934,848.9 L1935,866.2 L1936,881.5 L1937,883.8 L1938,875.4 L1939,873.9 L1940,873.6 L1941,866.3 L1942,859.0 L1943,855.2 L1944,853.3 L1945,853.3 L1946,853.3 L1947,853.5 L1948,853.9 L1949,856.8 L1950,859.6 L1951,860.3 L1952,864.5 L1953,868.0 L1954,868.0 L1955,868.0 L1956,868.9 L1957,866.1 L1958,863.4 L1959,860.0 L1960,857.6 L1961,856.2 L1962,854.7 L1963,854.7 L1964,854.7 L1965,855.1 L1966,856.6 L1967,856.6 L1968,856.6 L1969,857.0 L1970,857.8 L1971,858.1 L1972,858.5 L1973,859.1 L1974,860.0 L1975,860.0 L1976,860.0 L1977,860.2 L1978,860.6 L1979,860.7 L1980,860.7 L1981,860.7 L1982,862.4 L1983,862.4 L1984,860.3 L1985,857.0 L1986,857.0 L1987,857.0 L1988,857.0 L1989,857.0 L1990,856.7 L1991,856.7 L1992,856.7 L1993,861.0 L1994,872.2 L1995,886.9 L1996,889.8 L1997,899.3 L1998,896.9 L1999,866.0 L2000,840.1 L2001,826.7 L2002,826.7 L2003,826.7 L2004,829.5 L2005,829.3 L2006,829.3 L2007,829.3 L2008,830.2 L2009,832.5 L2010,836.2 L2011,838.9 L2012,841.2 L2013,842.7 L2014,844.0 L2015,844.0 L2016,845.4 L2017,846.1 L2018,842.1 L2019,838.1 L2020,835.2 L2021,833.3 L2022,833.3 L2023,833.3 L2024,839.2 L2025,849.9 L2026,864.8 L2027,879.2 L2028,873.7 L2029,867.7 L2030,858.3 L2031,851.0 L2032,845.8 L2033,845.8 L2034,845.8 L2035,846.3 L2036,844.5 L2037,843.1 L2038,843.1 L2039,843.1 L2040,841.9 L2041,840.0 L2042,840.0 L2043,840.0 L2044,841.4 L2045,844.1 L2046,847.0 L2047,852.3 L2048,855.0 L2049,856.1 L2050,856.1 L2051,856.1 L2052,856.3 L2053,855.3 L2054,855.3 L2055,854.6 L2056,854.2 L2057,854.2 L2058,853.8 L2059,853.8 L2060,853.8 L2061,852.9 L2062,852.1 L2063,852.1 L2064,852.1 L2065,852.5 L2066,853.5 L2067,851.5 L2068,851.1 L2069,851.1 L2070,851.1 L2071,852.4 L2072,852.4 L2073,852.5 L2074,852.5 L2075,853.3 L2076,853.3 L2077,853.4 L2078,853.5 L2079,854.0 L2080,854.4 L2081,854.9 L2082,854.2 L2083,854.2 L2084,854.2 L2085,854.0 L2086,854.0 L2087,854.0 L2088,855.3 L2089,854.1 L2090,851.4 L2091,847.7 L2092,845.4 L2093,843.8 L2094,843.3 L2095,843.3 L2096,843.3 L2097,843.8 L2098,845.5 L2099,847.2 L2100,851.5 L2101,856.6 L2102,854.5 L2103,851.0 L2104,843.6 L2105,838.1 L2106,835.2 L2107,831.0 L2108,830.0 L2109,830.0 L2110,830.0 L2111,830.4 L2112,830.1 L2113,830.1 L2114,830.1 L2115,830.4 L2116,831.9 L2117,834.3 L2118,837.7 L2119,841.2 L2120,842.9 L2121,844.0 L2122,849.7 L2123,849.9 L2124,848.0 L2125,848.0 L2126,844.4 L2127,842.0 L2128,840.7 L2129,840.7 L2130,839.1 L2131,836.7 L2132,836.7 L2133,836.7 L2134,839.1 L2135,843.5 L2136,848.5 L2137,852.9 L2138,855.2 L2139,856.8 L2140,863.3 L2141,862.8 L2142,860.4 L2143,855.7 L2144,852.6 L2145,849.8 L2146,847.0 L2147,846.8 L2148,846.5 L2149,846.0 L2150,846.0 L2151,846.0 L2152,847.4 L2153,848.5 L2154,848.5 L2155,851.5 L2156,851.5 L2157,851.8 L2158,852.0 L2159,852.0 L2160,853.9 L2161,854.9 L2162,854.9 L2163,855.3 L2164,855.3 L2165,855.8 L2166,854.9 L2167,854.5 L2168,854.5 L2169,854.5 L2170,855.1 L2171,855.2 L2172,855.1 L2173,853.9 L2174,853.9 L2175,853.9 L2176,852.5 L2177,852.5 L2178,852.5 L2179,852.8 L2180,852.8 L2181,852.8 L2182,854.7 L2183,858.5 L2184,859.6 L2185,860.5 L2186,861.7 L2187,861.7 L2188,861.7 L2189,860.5 L2190,856.3 L2191,851.4 L2192,850.1 L2193,847.6 L2194,843.3 L2195,843.3 L2196,840.9 L2197,837.5 L2198,836.6 L2199,834.3 L2200,832.5 L2201,831.9 L2202,829.1 L2203,827.4 L2204,826.7 L2205,826.1 L2206,825.6 L2207,824.7 L2208,823.4 L2209,820.2 L2210,819.8 L2211,819.8 L2212,819.8 L2213,822.0 L2214,825.7 L2215,830.4 L2216,834.6 L2217,842.4 L2218,847.8 L2219,850.7 L2220,849.7 L2221,842.2 L2222,839.5 L2223,836.8 L2224,833.3 L2225,833.3 L2226,833.3 L2227,834.3 L2228,840.3 L2229,840.9 L2230,843.7 L2231,849.0 L2232,852.3 L2233,854.6 L2234,854.6 L2235,851.9 L2236,848.3 L2237,847.4 L2238,847.4 L2239,847.4 L2240,845.2 L2241,843.3 L2242,843.3 L2243,843.3 L2244,844.3 L2245,846.2 L2246,848.1 L2247,849.4 L2248,850.7 L2249,851.6 L2250,853.0 L2251,854.3 L2252,856.0 L2253,855.8 L2254,855.1 L2255,854.3 L2256,854.3 L2257,854.3 L2258,853.7 L2259,851.9 L2260,851.9 L2261,851.9 L2262,853.8 L2263,854.2 L2264,852.9 L2265,849.7 L2266,844.9 L2267,841.0 L2268,841.0 L2269,841.0 L2270,843.4 L2271,845.3 L2272,840.4 L2273,835.7 L2274,833.3 L2275,833.3 L2276,833.3 L2277,835.8 L2278,847.7 L2279,861.1 L2280,847.1 L2281,826.7 L2282,826.7 L2283,826.7 L2284,830.6 L2285,839.0 L2286,840.0 L2287,840.0 L2288,844.4 L2289,849.7 L2290,845.6 L2291,832.1 L2292,826.9 L2293,824.2 L2294,823.3 L2295,823.3 L2296,823.3 L2297,823.6 L2298,824.2 L2299,822.7 L2300,820.9 L2301,820.0 L2302,820.0 L2303,820.0 L2304,823.0 L2305,827.9 L2306,832.2 L2307,841.2 L2308,847.7 L2309,851.6 L2310,849.3 L2311,833.5 L2312,830.5 L2313,829.7 L2314,823.3 L2315,823.3 L2316,823.3 L2317,824.3 L2318,828.3 L2319,830.6 L2320,834.9 L2321,840.8 L2322,844.2 L2323,847.7 L2324,847.7 L2325,848.1 L2326,849.9 L2327,850.8 L2328,850.8 L2329,851.3 L2330,851.9 L2331,851.9 L2332,852.0 L2333,852.0 L2334,852.0 L2335,853.3 L2336,852.8 L2337,851.9 L2338,851.9 L2339,851.9 L2340,852.8 L2341,853.7 L2342,855.6 L2343,855.8 L2344,855.6 L2345,855.2 L2346,855.0 L2347,855.0 L2348,855.0 L2349,855.4 L2350,855.0 L2351,854.2 L2352,853.8 L2353,852.3 L2354,850.0 L2355,850.0 L2356,850.0 L2357,850.4 L2358,851.5 L2359,853.3 L2360,852.3 L2361,849.1 L2362,846.9 L2363,843.1 L2364,837.2 L2365,830.3 L2366,827.6 L2367,826.7 L2368,826.7 L2369,822.9 L2370,816.7 L2371,813.3 L2372,813.3 L2373,813.3 L2374,821.3 L2375,835.7 L2376,847.7 L2377,852.5 L2378,849.7 L2379,849.7 L2380,849.1 L2381,846.2 L2382,844.4 L2383,841.6 L2384,840.5 L2385,840.1 L2386,840.1 L2387,840.1 L2388,840.0 L2389,840.0 L2390,840.0 L2391,845.5 L2392,853.8 L2393,863.6 L2394,869.5 L2395,872.3 L2396,862.9 L2397,851.6 L2398,843.6 L2399,836.7 L2400,836.7 L2401,836.7 L2402,838.1 L2403,844.5 L2404,850.7 L2405,855.0 L2406,856.9 L2407,860.7 L2408,865.4 L2409,869.6 L2410,865.3 L2411,859.0 L2412,857.2 L2413,853.2 L2414,846.7 L2415,846.7 L2416,846.7 L2417,847.2 L2418,849.2 L2419,849.2 L2420,849.7 L2421,850.5 L2422,851.3 L2423,851.3 L2424,851.3 L2425,851.3 L2426,851.3 L2427,851.3 L2428,851.9 L2429,851.3 L2430,849.9 L2431,849.9 L2432,849.9 L2433,849.9 L2434,849.9 L2435,849.9 L2436,849.9 L2437,849.9 L2438,849.9 L2439,851.0 L2440,851.0 L2441,851.4 L2442,853.1 L2443,853.1 L2444,853.1 L2445,853.5 L2446,855.2 L2447,855.2 L2448,856.0 L2449,856.3 L2450,853.1 L2451,853.1 L2452,852.1 L2453,850.8 L2454,850.0 L2455,850.0 L2456,850.0 L2457,850.5 L2458,852.9 L2459,856.6 L2460,859.8 L2461,861.5 L2462,864.4 L2463,863.6 L2464,863.6 L2465,863.6 L2466,865.5 L2467,849.2 L2468,834.3 L2469,819.4 L2470,804.6 L2471,796.7 L2472,796.7 L2473,796.7 L2474,807.7 L2475,829.6 L2476,850.4 L2477,850.8 L2478,847.9 L2479,845.0 L2480,839.6 L2481,836.7 L2482,836.7 L2483,836.7 L2484,842.6 L2485,854.4 L2486,866.8 L2487,863.7 L2488,861.8 L2489,856.6 L2490,850.5 L2491,846.7 L2492,846.7 L2493,846.7 L2494,848.6 L2495,851.0 L2496,852.7 L2497,855.9 L2498,858.6 L2499,860.4 L2500,863.1 L2501,861.0 L2502,860.0 L2503,858.5 L2504,858.0 L2505,856.9 L2506,856.6 L2507,856.3 L2508,856.0 L2509,855.6 L2510,855.3 L2511,855.1 L2512,854.8 L2513,854.5 L2514,854.5 L2515,854.5 L2516,854.9 L2517,855.1 L2518,855.8 L2519,856.0 L2520,856.6 L2521,856.8 L2522,857.0 L2523,857.0 L2524,857.0 L2525,857.0 L2526,857.0 L2527,857.0 L2528,857.0 L2529,857.0 L2530,857.4 L2531,857.8 L2532,858.1 L2533,858.5 L2534,858.9 L2535,859.3 L2536,859.7 L2537,860.0 L2538,860.4 L2539,859.8 L2540,859.5 L2541,858.8 L2542,858.5 L2543,858.0 L2544,858.0 L2545,858.0 L2546,858.7 L2547,859.3 L2548,860.0 L2549,859.6 L2550,859.0 L2551,858.4 L2552,857.9 L2553,857.3 L2554,856.7 L2555,856.1 L2556,855.6 L2557,855.0 L2558,855.0 L2559,855.0 L2560,855.6 L2561,855.9 L2562,856.8 L2563,857.0 L2564,857.9 L2565,857.5 L2566,857.2 L2567,856.6 L2568,856.4 L2569,856.0 L2570,856.0 L2571,856.0 L2572,856.0 L2573,856.0 L2574,856.0 L2575,856.0 L2576,856.0 L2577,856.0 L2578,856.0 L2579,856.0 L2580,856.0 L2581,856.0 L2582,856.0 L2583,856.0 L2584,856.0 L2585,856.0 L2586,856.0 L2587,856.0 L2588,856.0 L2589,856.0 L2590,856.1 L2591,856.2 L2592,856.3 L2593,856.4 L2594,856.6 L2595,856.7 L2596,856.8 L2597,856.9 L2598,857.1 L2599,857.2 L2600,857.3 L2601,857.4 L2602,857.6 L2603,857.7 L2604,857.8 L2605,857.9 L2606,858.1 L2607,858.2 L2608,858.3 L2609,858.4 L2610,858.6 L2611,858.7 L2612,858.8 L2613,858.9 L2614,859.0 L2615,859.1 L2616,859.1 L2617,859.1 L2618,859.2 L2619,859.2 L2620,859.3 L2621,859.3 L2622,859.4 L2623,859.4 L2624,859.4 L2625,859.5 L2626,859.5 L2627,859.6 L2628,859.6 L2629,859.6 L2630,859.7 L2631,859.7 L2632,859.8 L2633,859.8 L2634,859.9 L2635,859.9 L2636,859.9 L2637,860.0 L2638,860.0 L2639,860.1 L2640,860.1 L2641,860.1 L2642,860.2 L2643,860.2 L2644,860.3 L2645,860.3 L2646,860.4 L2647,860.4 L2648,860.4 L2649,860.5 L2650,860.5 L2651,860.6 L2652,860.6 L2653,860.6 L2654,860.7 L2655,860.7 L2656,860.8 L2657,860.8 L2658,860.9 L2659,860.9 L2660,860.9 L2661,861.0 L2662,861.0 L2663,861.1 L2664,861.1 L2665,861.1 L2666,861.2 L2667,861.2 L2668,861.3 L2669,861.3 L2670,861.4 L2671,861.4 L2672,861.4 L2673,861.5 L2674,861.5 L2675,861.5 L2676,861.6 L2677,861.6 L2678,861.7 L2679,861.7 L2680,861.8 L2681,861.8 L2682,861.8 L2683,861.9 L2684,861.9 L2685,861.9 L2686,862.0 L2687,862.0 L2688,862.1 L2689,862.1 L2690,862.1 L2691,862.2 L2692,862.2 L2693,862.2 L2694,862.3 L2695,862.3 L2696,862.3 L2697,862.4 L2698,862.4 L2699,862.5 L2700,862.5 L2701,862.5 L2702,862.6 L2703,862.6 L2704,862.6 L2705,862.7 L2706,862.7 L2707,862.7 L2708,862.8 L2709,862.8 L2710,862.8 L2711,862.9 L2712,862.9 L2713,863.0 L2713,863.0 L2712,863.0 L2711,863.0 L2710,862.9 L2709,862.9 L2708,862.9 L2707,862.8 L2706,862.8 L2705,862.8 L2704,862.7 L2703,862.7 L2702,862.7 L2701,862.6 L2700,862.6 L2699,862.5 L2698,862.5 L2697,862.5 L2696,862.4 L2695,862.4 L2694,862.4 L2693,862.3 L2692,862.3 L2691,862.3 L2690,862.2 L2689,862.2 L2688,862.2 L2687,862.1 L2686,862.1 L2685,862.0 L2684,862.0 L2683,862.0 L2682,861.9 L2681,861.9 L2680,861.9 L2679,861.8 L2678,861.8 L2677,861.7 L2676,861.7 L2675,861.6 L2674,861.6 L2673,861.6 L2672,861.5 L2671,861.5 L2670,861.5 L2669,861.4 L2668,861.4 L2667,861.3 L2666,861.3 L2665,861.2 L2664,861.2 L2663,861.2 L2662,861.1 L2661,861.1 L2660,861.1 L2659,861.0 L2658,861.0 L2657,860.9 L2656,860.9 L2655,860.9 L2654,860.8 L2653,860.8 L2652,860.7 L2651,860.7 L2650,860.6 L2649,860.6 L2648,860.6 L2647,860.5 L2646,860.5 L2645,860.4 L2644,860.4 L2643,860.4 L2642,860.3 L2641,860.3 L2640,860.2 L2639,860.2 L2638,860.1 L2637,860.1 L2636,860.1 L2635,860.0 L2634,860.0 L2633,859.9 L2632,859.9 L2631,859.9 L2630,859.8 L2629,859.8 L2628,859.7 L2627,859.7 L2626,859.6 L2625,859.6 L2624,859.6 L2623,859.5 L2622,859.5 L2621,859.4 L2620,859.4 L2619,859.4 L2618,859.3 L2617,859.3 L2616,859.2 L2615,859.2 L2614,859.1 L2613,859.1 L2612,859.1 L2611,859.0 L2610,858.9 L2609,858.8 L2608,858.7 L2607,858.6 L2606,858.4 L2605,858.3 L2604,858.2 L2603,858.1 L2602,857.9 L2601,857.8 L2600,857.7 L2599,857.6 L2598,857.4 L2597,857.3 L2596,857.2 L2595,857.1 L2594,856.9 L2593,856.8 L2592,856.7 L2591,856.6 L2590,856.4 L2589,856.3 L2588,856.2 L2587,856.1 L2586,856.0 L2585,856.0 L2584,856.0 L2583,856.0 L2582,856.0 L2581,856.0 L2580,856.0 L2579,856.0 L2578,856.0 L2577,856.0 L2576,856.0 L2575,856.0 L2574,856.0 L2573,856.0 L2572,856.0 L2571,856.2 L2570,856.4 L2569,857.0 L2568,857.2 L2567,857.9 L2566,858.1 L2565,858.5 L2564,858.5 L2563,858.5 L2562,857.9 L2561,857.6 L2560,856.8 L2559,856.5 L2558,855.9 L2557,856.4 L2556,857.0 L2555,857.6 L2554,858.1 L2553,858.7 L2552,859.3 L2551,859.9 L2550,860.4 L2549,861.0 L2548,861.0 L2547,861.0 L2546,860.3 L2545,859.7 L2544,859.0 L2543,859.2 L2542,859.5 L2541,860.2 L2540,860.5 L2539,861.0 L2538,861.0 L2537,861.0 L2536,860.6 L2535,860.2 L2534,859.9 L2533,859.5 L2532,859.1 L2531,858.7 L2530,858.3 L2529,858.0 L2528,857.6 L2527,857.2 L2526,857.0 L2525,857.0 L2524,857.0 L2523,857.0 L2522,857.0 L2521,857.0 L2520,857.0 L2519,857.0 L2518,856.6 L2517,856.4 L2516,855.8 L2515,855.5 L2514,854.9 L2513,855.2 L2512,855.5 L2511,855.9 L2510,856.2 L2509,856.4 L2508,856.7 L2507,857.5 L2506,858.0 L2505,859.5 L2504,860.5 L2503,863.0 L2502,864.5 L2501,866.0 L2500,866.0 L2499,866.0 L2498,864.5 L2497,862.6 L2496,860.0 L2495,858.2 L2494,855.4 L2493,852.3 L2492,856.2 L2491,861.4 L2490,863.2 L2489,867.0 L2488,873.2 L2487,876.2 L2486,876.7 L2485,876.7 L2484,876.7 L2483,866.3 L2482,853.9 L2481,847.4 L2480,850.3 L2479,855.6 L2478,862.4 L2477,865.7 L2476,866.7 L2475,866.7 L2474,866.7 L2473,849.9 L2472,829.1 L2471,833.8 L2470,848.7 L2469,865.0 L2468,874.3 L2467,877.0 L2466,877.0 L2465,877.0 L2464,876.5 L2463,870.9 L2462,870.9 L2461,870.5 L2460,867.3 L2459,863.9 L2458,861.1 L2457,859.4 L2456,856.1 L2455,852.4 L2454,853.3 L2453,853.3 L2452,855.9 L2451,857.8 L2450,857.8 L2449,857.8 L2448,857.3 L2447,857.3 L2446,857.3 L2445,855.8 L2444,855.8 L2443,855.3 L2442,853.5 L2441,853.5 L2440,853.3 L2439,852.7 L2438,851.7 L2437,851.7 L2436,850.8 L2435,850.2 L2434,850.2 L2433,850.2 L2432,850.8 L2431,851.8 L2430,852.0 L2429,852.3 L2428,852.4 L2427,852.4 L2426,854.2 L2425,854.2 L2424,854.2 L2423,853.8 L2422,853.3 L2421,853.3 L2420,853.3 L2419,852.8 L2418,850.6 L2417,850.6 L2416,852.7 L2415,856.9 L2414,858.5 L2413,864.8 L2412,870.0 L2411,872.7 L2410,873.3 L2409,873.3 L2408,873.3 L2407,872.4 L2406,869.2 L2405,865.0 L2404,860.2 L2403,856.4 L2402,854.6 L2401,850.2 L2400,851.1 L2399,862.4 L2398,873.8 L2397,884.7 L2396,886.7 L2395,886.7 L2394,886.7 L2393,877.7 L2392,871.8 L2391,869.0 L2390,863.1 L2389,853.4 L2388,845.0 L2387,843.3 L2386,843.3 L2385,843.9 L2384,845.8 L2383,848.6 L2382,852.1 L2381,852.1 L2380,852.1 L2379,854.9 L2378,856.9 L2377,856.9 L2376,856.9 L2375,856.8 L2374,856.7 L2373,847.2 L2372,835.2 L2371,826.6 L2370,828.5 L2369,828.5 L2368,829.9 L2367,836.7 L2366,842.6 L2365,846.4 L2364,848.7 L2363,851.9 L2362,855.6 L2361,855.6 L2360,855.6 L2359,855.3 L2358,854.7 L2357,854.1 L2356,852.8 L2355,853.7 L2354,853.8 L2353,854.6 L2352,855.5 L2351,856.5 L2350,856.7 L2349,856.7 L2348,856.7 L2347,856.2 L2346,855.7 L2345,855.8 L2344,856.1 L2343,856.4 L2342,856.4 L2341,856.4 L2340,855.9 L2339,855.1 L2338,853.7 L2337,853.7 L2336,853.7 L2335,854.3 L2334,854.3 L2333,854.3 L2332,854.2 L2331,854.2 L2330,854.2 L2329,852.3 L2328,852.2 L2327,851.8 L2326,851.3 L2325,851.3 L2324,850.3 L2323,850.0 L2322,850.0 L2321,850.0 L2320,847.6 L2319,843.7 L2318,840.4 L2317,834.4 L2316,830.1 L2315,833.1 L2314,833.1 L2313,848.8 L2312,853.7 L2311,858.5 L2310,863.3 L2309,863.3 L2308,863.3 L2307,861.4 L2306,851.1 L2305,847.2 L2304,840.7 L2303,831.7 L2302,827.4 L2301,824.5 L2300,824.9 L2299,824.9 L2298,824.9 L2297,824.5 L2296,824.2 L2295,826.4 L2294,831.6 L2293,845.1 L2292,849.3 L2291,854.1 L2290,860.0 L2289,860.0 L2288,860.0 L2287,858.6 L2286,852.3 L2285,851.3 L2284,851.3 L2283,849.3 L2282,886.4 L2281,893.3 L2280,893.3 L2279,893.3 L2278,884.9 L2277,875.0 L2276,860.6 L2275,847.2 L2274,847.7 L2273,848.2 L2272,848.2 L2271,850.2 L2270,850.2 L2269,850.2 L2268,849.3 L2267,852.4 L2266,853.7 L2265,854.6 L2264,854.6 L2263,855.7 L2262,856.1 L2261,856.1 L2260,856.5 L2259,856.5 L2258,856.5 L2257,856.0 L2256,855.5 L2255,856.0 L2254,856.4 L2253,856.7 L2252,856.7 L2251,856.7 L2250,856.2 L2249,855.6 L2248,853.9 L2247,852.5 L2246,851.2 L2245,850.2 L2244,849.0 L2243,847.7 L2242,847.6 L2241,848.1 L2240,848.3 L2239,848.3 L2238,851.5 L2237,854.3 L2236,856.2 L2235,856.2 L2234,856.2 L2233,856.7 L2232,856.7 L2231,856.7 L2230,854.7 L2229,851.8 L2228,848.5 L2227,843.3 L2226,841.3 L2225,839.8 L2224,841.7 L2223,849.2 L2222,852.6 L2221,856.5 L2220,860.0 L2219,860.0 L2218,860.0 L2217,858.5 L2216,850.2 L2215,847.3 L2214,841.9 L2213,834.1 L2212,829.9 L2211,825.2 L2210,824.3 L2209,825.4 L2208,825.8 L2207,826.4 L2206,827.0 L2205,828.7 L2204,831.4 L2203,832.3 L2202,833.9 L2201,836.2 L2200,837.0 L2199,840.4 L2198,844.4 L2197,844.4 L2196,847.1 L2195,849.8 L2194,850.9 L2193,855.8 L2192,860.0 L2191,863.8 L2190,866.7 L2189,866.7 L2188,866.7 L2187,866.6 L2186,866.6 L2185,866.6 L2184,865.2 L2183,861.4 L2182,860.0 L2181,859.2 L2180,858.0 L2179,854.2 L2178,853.9 L2177,855.6 L2176,855.6 L2175,855.6 L2174,855.7 L2173,856.1 L2172,856.1 L2171,856.1 L2170,855.8 L2169,855.3 L2168,855.6 L2167,856.2 L2166,856.7 L2165,856.7 L2164,856.7 L2163,856.7 L2162,856.7 L2161,856.7 L2160,856.1 L2159,856.1 L2158,856.1 L2157,853.4 L2156,852.4 L2155,853.3 L2154,853.3 L2153,853.3 L2152,851.4 L2151,848.8 L2150,848.8 L2149,847.0 L2148,849.4 L2147,852.1 L2146,855.3 L2145,859.9 L2144,862.7 L2143,863.0 L2142,863.6 L2141,864.9 L2140,866.7 L2139,866.7 L2138,866.7 L2137,865.2 L2136,856.3 L2135,855.0 L2134,852.4 L2133,848.0 L2132,843.0 L2131,842.6 L2130,842.6 L2129,843.9 L2128,848.9 L2127,850.4 L2126,850.4 L2125,854.2 L2124,854.7 L2123,854.7 L2122,854.7 L2121,853.8 L2120,852.0 L2119,849.3 L2118,843.6 L2117,842.8 L2116,840.7 L2115,837.2 L2114,833.8 L2113,831.5 L2112,831.3 L2111,832.0 L2110,832.0 L2109,834.8 L2108,837.6 L2107,843.1 L2106,850.5 L2105,854.0 L2104,859.9 L2103,863.3 L2102,863.3 L2101,863.3 L2100,860.5 L2099,856.6 L2098,856.5 L2097,851.0 L2096,846.8 L2095,845.1 L2094,847.3 L2093,850.9 L2092,853.6 L2091,855.4 L2090,856.7 L2089,857.0 L2088,857.1 L2087,857.1 L2086,857.1 L2085,855.2 L2084,855.7 L2083,856.8 L2082,856.9 L2081,856.9 L2080,856.9 L2079,856.4 L2078,854.4 L2077,854.3 L2076,854.7 L2075,855.6 L2074,855.6 L2073,855.6 L2072,854.2 L2071,853.9 L2070,853.9 L2069,853.9 L2068,854.0 L2067,854.5 L2066,854.5 L2065,854.5 L2064,853.8 L2063,853.8 L2062,854.6 L2061,854.6 L2060,855.1 L2059,856.4 L2058,856.4 L2057,856.8 L2056,857.7 L2055,857.7 L2054,857.7 L2053,860.1 L2052,861.1 L2051,861.1 L2050,861.1 L2049,860.0 L2048,860.0 L2047,859.0 L2046,855.7 L2045,854.9 L2044,851.8 L2043,846.5 L2042,844.7 L2041,845.9 L2040,846.4 L2039,846.4 L2038,850.3 L2037,853.5 L2036,855.7 L2035,855.7 L2034,855.7 L2033,857.8 L2032,867.2 L2031,873.2 L2030,878.7 L2029,890.7 L2028,896.7 L2027,896.7 L2026,896.7 L2025,890.7 L2024,879.3 L2023,864.3 L2022,849.4 L2021,841.6 L2020,845.9 L2019,848.2 L2018,848.2 L2017,848.2 L2016,847.4 L2015,846.7 L2014,846.7 L2013,845.0 L2012,845.0 L2011,844.5 L2010,842.2 L2009,840.7 L2008,838.5 L2007,835.7 L2006,833.5 L2005,833.5 L2004,833.5 L2003,839.6 L2002,865.5 L2001,896.4 L2000,923.3 L1999,923.3 L1998,923.3 L1997,921.3 L1996,910.4 L1995,906.2 L1994,898.8 L1993,889.3 L1992,886.4 L1991,871.7 L1990,866.3 L1989,866.3 L1988,866.3 L1987,861.4 L1986,863.1 L1985,865.5 L1984,865.5 L1983,865.5 L1982,865.1 L1981,862.9 L1980,862.8 L1979,861.9 L1978,861.9 L1977,861.9 L1976,861.0 L1975,860.8 L1974,861.4 L1973,861.4 L1972,861.4 L1971,861.0 L1970,858.6 L1969,858.4 L1968,858.0 L1967,859.5 L1966,859.5 L1965,859.5 L1964,858.5 L1963,857.1 L1962,859.5 L1961,862.9 L1960,865.6 L1959,868.4 L1958,871.9 L1957,872.9 L1956,873.3 L1955,873.3 L1954,873.3 L1953,870.0 L1952,870.0 L1951,870.0 L1950,867.7 L1949,864.0 L1948,860.0 L1947,859.3 L1946,856.3 L1945,858.5 L1944,865.8 L1943,873.1 L1942,876.6 L1941,876.6 L1940,883.3 L1939,886.4 L1938,887.6 L1937,892.4 L1936,893.3 L1935,893.3 L1934,893.3 L1933,881.0 L1932,865.7 L1931,848.4 L1930,852.8 L1929,856.2 L1928,856.2 L1927,856.2 L1926,857.2 L1925,857.2 L1924,857.2 L1923,857.5 L1922,859.7 L1921,861.4 L1920,863.3 L1919,863.3 L1918,863.3 L1917,862.8 L1916,861.9 L1915,861.6 L1914,861.6 L1913,861.1 L1912,860.7 L1911,862.1 L1910,862.6 L1909,862.6 L1908,865.4 L1907,869.7 L1906,872.7 L1905,873.2 L1904,875.3 L1903,877.0 L1902,877.7 L1901,877.7 L1900,877.7 L1899,877.6 L1898,877.4 L1897,877.4 L1896,877.4 L1895,877.3 L1894,876.8 L1893,876.7 L1892,876.9 L1891,876.9 L1890,877.1 L1889,878.0 L1888,878.0 L1887,878.0 L1886,879.2 L1885,881.0 L1884,881.5 L1883,881.5 L1882,881.5 L1881,880.5 L1880,880.4 L1879,880.1 L1878,879.6 L1877,878.8 L1876,877.4 L1875,874.9 L1874,874.9 L1873,874.8 L1872,874.6 L1871,873.8 L1870,874.2 L1869,874.5 L1868,875.2 L1867,876.0 L1866,876.9 L1865,876.9 L1864,876.9 L1863,877.6 L1862,879.9 L1861,883.1 L1860,885.9 L1859,887.3 L1858,887.3 L1857,889.1 L1856,890.0 L1855,890.0 L1854,890.0 L1853,886.6 L1852,883.6 L1851,881.2 L1850,875.2 L1849,871.7 L1848,873.3 L1847,875.8 L1846,879.0 L1845,879.8 L1844,880.4 L1843,880.4 L1842,888.5 L1841,892.8 L1840,893.3 L1839,893.3 L1838,893.3 L1837,892.8 L1836,889.9 L1835,886.6 L1834,883.4 L1833,879.0 L1832,878.4 L1831,874.5 L1830,866.3 L1829,864.6 L1828,862.3 L1827,859.5 L1826,856.1 L1825,855.8 L1824,855.0 L1823,854.3 L1822,852.1 L1821,851.4 L1820,853.3 L1819,853.3 L1818,853.3 L1817,851.5 L1816,861.2 L1815,868.5 L1814,874.9 L1813,882.2 L1812,890.3 L1811,898.5 L1810,900.0 L1809,900.0 L1808,900.0 L1807,897.7 L1806,894.0 L1805,886.7 L1804,887.5 L1803,887.5 L1802,887.5 L1801,885.2 L1800,884.5 L1799,886.8 L1798,886.8 L1797,886.8 L1796,886.3 L1795,886.5 L1794,886.5 L1793,886.5 L1792,886.0 L1791,886.3 L1790,886.8 L1789,887.5 L1788,889.1 L1787,889.6 L1786,889.6 L1785,889.6 L1784,888.6 L1783,889.2 L1782,889.5 L1781,889.8 L1780,890.0 L1779,890.3 L1778,891.0 L1777,891.0 L1776,891.0 L1775,890.9 L1774,890.7 L1773,890.6 L1772,889.6 L1771,888.8 L1770,888.8 L1769,888.8 L1768,887.8 L1767,887.1 L1766,888.8 L1765,893.1 L1764,894.6 L1763,894.6 L1762,896.3 L1761,899.5 L1760,902.4 L1759,904.8 L1758,908.1 L1757,910.3 L1756,910.8 L1755,910.8 L1754,910.8 L1753,909.9 L1752,906.6 L1751,901.7 L1750,900.3 L1749,899.8 L1748,896.7 L1747,896.4 L1746,896.6 L1745,896.8 L1744,896.8 L1743,896.8 L1742,894.9 L1741,893.5 L1740,893.5 L1739,892.7 L1738,893.1 L1737,893.1 L1736,893.1 L1735,890.9 L1734,887.5 L1733,883.6 L1732,879.9 L1731,878.1 L1730,875.9 L1729,872.1 L1728,868.2 L1727,872.3 L1726,877.2 L1725,882.2 L1724,882.2 L1723,882.2 L1722,883.9 L1721,886.2 L1720,891.1 L1719,900.0 L1718,909.3 L1717,910.0 L1716,915.7 L1715,921.9 L1714,926.7 L1713,926.7 L1712,926.7 L1711,926.2 L1710,923.2 L1709,921.0 L1708,919.2 L1707,917.7 L1706,914.4 L1705,912.4 L1704,911.8 L1703,908.3 L1702,905.1 L1701,905.0 L1700,905.0 L1699,904.1 L1698,902.9 L1697,901.6 L1696,900.4 L1695,900.3 L1694,899.8 L1693,899.4 L1692,899.6 L1691,899.6 L1690,899.6 L1689,899.1 L1688,898.1 L1687,898.1 L1686,898.1 L1685,898.1 L1684,898.0 L1683,898.5 L1682,898.9 L1681,898.9 L1680,899.1 L1679,899.8 L1678,900.1 L1677,900.5 L1676,901.4 L1675,901.4 L1674,902.3 L1673,903.3 L1672,903.3 L1671,903.3 L1670,903.6 L1669,903.6 L1668,903.6 L1667,905.2 L1666,906.5 L1665,907.4 L1664,907.4 L1663,910.3 L1662,912.2 L1661,914.7 L1660,918.5 L1659,922.0 L1658,924.8 L1657,926.7 L1656,926.7 L1655,926.7 L1654,926.0 L1653,925.3 L1652,924.6 L1651,924.5 L1650,923.5 L1649,922.6 L1648,920.2 L1647,918.2 L1646,918.2 L1645,917.7 L1644,916.7 L1643,916.7 L1642,915.2 L1641,912.4 L1640,909.5 L1639,904.5 L1638,899.6 L1637,894.6 L1636,890.7 L1635,885.8 L1634,886.8 L1633,888.6 L1632,890.9 L1631,892.4 L1630,894.3 L1629,895.8 L1628,896.0 L1627,897.2 L1626,897.6 L1625,898.2 L1624,901.0 L1623,909.0 L1622,918.9 L1621,930.8 L1620,933.3 L1619,933.3 L1618,933.3 L1617,930.8 L1616,930.0 L1615,930.0 L1614,927.1 L1613,925.6 L1612,925.6 L1611,925.6 L1610,923.8 L1609,921.9 L1608,920.0 L1607,919.0 L1606,919.1 L1605,919.1 L1604,919.1 L1603,919.0 L1602,918.1 L1601,916.8 L1600,916.6 L1599,916.6 L1598,915.3 L1597,915.3 L1596,917.7 L1595,919.4 L1594,921.1 L1593,922.8 L1592,923.7 L1591,926.2 L1590,926.7 L1589,926.7 L1588,926.7 L1587,925.8 L1586,923.9 L1585,921.3 L1584,920.9 L1583,918.1 L1582,915.3 L1581,916.6 L1580,919.9 L1579,923.7 L1578,927.6 L1577,930.5 L1576,931.9 L1575,934.6 L1574,937.5 L1573,940.5 L1572,940.5 L1571,940.5 L1570,940.0 L1569,939.6 L1568,940.9 L1567,943.3 L1566,943.3 L1565,943.3 L1564,941.0 L1563,940.5 L1562,940.5 L1561,934.1 L1560,926.7 L1559,924.6 L1558,922.2 L1557,920.6 L1556,919.9 L1555,923.6 L1554,926.3 L1553,929.1 L1552,932.0 L1551,935.7 L1550,936.7 L1549,936.7 L1548,936.7 L1547,929.9 L1546,922.1 L1545,915.3 L1544,909.1 L1543,912.7 L1542,912.7 L1541,913.2 L1540,915.4 L1539,919.2 L1538,919.8 L1537,921.0 L1536,923.5 L1535,924.9 L1534,925.9 L1533,928.3 L1532,933.6 L1531,935.8 L1530,936.6 L1529,937.2 L1528,940.9 L1527,943.4 L1526,943.7 L1525,943.7 L1524,943.7 L1523,943.2 L1522,942.2 L1521,942.2 L1520,940.4 L1519,940.4 L1518,940.4 L1517,939.6 L1516,937.8 L1515,936.0 L1514,935.2 L1513,933.4 L1512,933.5 L1511,933.5 L1510,933.5 L1509,932.9 L1508,932.3 L1507,931.7 L1506,932.7 L1505,932.7 L1504,932.7 L1503,932.2 L1502,930.0 L1501,929.5 L1500,933.7 L1499,936.7 L1498,937.6 L1497,942.9 L1496,948.3 L1495,953.2 L1494,956.7 L1493,956.7 L1492,956.7 L1491,954.7 L1490,944.8 L1489,933.9 L1488,926.6 L1487,926.6 L1486,926.3 L1485,926.7 L1484,930.0 L1483,930.9 L1482,930.9 L1481,930.9 L1480,934.9 L1479,938.5 L1478,939.6 L1477,948.4 L1476,951.2 L1475,955.0 L1474,960.0 L1473,962.3 L1472,962.8 L1471,962.8 L1470,962.8 L1469,959.0 L1468,955.2 L1467,953.9 L1466,953.3 L1465,951.4 L1464,950.4 L1463,950.4 L1462,950.2 L1461,952.6 L1460,952.6 L1459,952.6 L1458,946.3 L1457,946.3 L1456,952.0 L1455,958.1 L1454,961.8 L1453,964.3 L1452,966.7 L1451,980.9 L1450,983.3 L1449,983.3 L1448,983.3 L1447,973.1 L1446,959.8 L1445,939.9 L1444,939.6 L1443,941.5 L1442,945.4 L1441,951.7 L1440,959.8 L1439,970.0 L1438,971.0 L1437,971.0 L1436,971.0 L1435,970.3 L1434,968.6 L1433,965.7 L1432,960.0 L1431,955.7 L1430,945.4 L1429,936.4 L1428,941.1 L1427,944.3 L1426,949.0 L1425,954.7 L1424,960.0 L1423,960.3 L1422,960.5 L1421,960.5 L1420,960.5 L1419,960.3 L1418,957.8 L1417,957.8 L1416,957.8 L1415,957.4 L1414,956.4 L1413,954.8 L1412,955.6 L1411,955.6 L1410,955.6 L1409,956.9 L1408,957.0 L1407,959.0 L1406,960.4 L1405,960.4 L1404,960.4 L1403,962.4 L1402,965.8 L1401,966.4 L1400,966.7 L1399,966.7 L1398,966.7 L1397,958.2 L1396,948.8 L1395,941.0 L1394,933.2 L1393,935.4 L1392,940.8 L1391,945.7 L1390,952.1 L1389,956.5 L1388,956.5 L1387,957.9 L1386,965.8 L1385,975.7 L1384,975.7 L1383,979.8 L1382,985.2 L1381,986.2 L1380,986.7 L1379,986.7 L1378,986.7 L1377,986.4 L1376,982.3 L1375,974.9 L1374,966.2 L1373,960.4 L1372,956.2 L1371,955.8 L1370,960.6 L1369,961.5 L1368,961.5 L1367,961.5 L1366,960.9 L1365,958.7 L1364,961.5 L1363,973.9 L1362,975.9 L1361,978.5 L1360,986.7 L1359,993.1 L1358,999.5 L1357,1003.3 L1356,1003.3 L1355,1003.3 L1354,1001.0 L1353,996.7 L1352,988.0 L1351,983.3 L1350,977.4 L1349,970.2 L1348,971.1 L1347,977.9 L1346,983.6 L1345,987.9 L1344,987.9 L1343,987.9 L1342,994.9 L1341,999.1 L1340,1000.0 L1339,1000.0 L1338,1000.0 L1337,981.1 L1336,958.1 L1335,946.5 L1334,955.8 L1333,960.1 L1332,960.1 L1331,960.1 L1330,963.1 L1329,966.0 L1328,968.3 L1327,972.9 L1326,979.3 L1325,985.2 L1324,990.0 L1323,990.0 L1322,990.0 L1321,990.1 L1320,990.1 L1319,990.1 L1318,987.5 L1317,988.5 L1316,988.5 L1315,988.5 L1314,986.0 L1313,983.0 L1312,983.0 L1311,981.7 L1310,981.7 L1309,984.5 L1308,990.3 L1307,990.8 L1306,995.1 L1305,1004.9 L1304,1004.9 L1303,1008.2 L1302,1017.6 L1301,1017.6 L1300,1017.6 L1299,1017.3 L1298,1016.7 L1297,978.3 L1296,954.5 L1295,965.8 L1294,973.3 L1293,976.4 L1292,977.7 L1291,982.4 L1290,983.3 L1289,983.3 L1288,983.3 L1287,981.3 L1286,981.3 L1285,980.9 L1284,977.9 L1283,975.5 L1282,990.2 L1281,1024.0 L1280,1030.0 L1279,1030.0 L1278,1030.0 L1277,1027.1 L1276,1023.6 L1275,1020.6 L1274,1017.3 L1273,1011.5 L1272,1003.7 L1271,1002.3 L1270,1002.3 L1269,1001.5 L1268,1005.3 L1267,1005.3 L1266,1018.9 L1265,1027.8 L1264,1027.8 L1263,1027.8 L1262,1027.0 L1261,1025.2 L1260,1017.9 L1259,1012.0 L1258,1005.8 L1257,1001.1 L1256,999.9 L1255,1001.2 L1254,1011.9 L1253,1018.2 L1252,1018.2 L1251,1019.0 L1250,1022.4 L1249,1024.7 L1248,1026.6 L1247,1035.4 L1246,1044.8 L1245,1053.8 L1244,1053.9 L1243,1066.0 L1242,1080.4 L1241,1085.7 L1240,1086.7 L1239,1086.7 L1238,1086.7 L1237,1036.7 L1236,1012.5 L1235,1013.6 L1234,1015.4 L1233,1018.2 L1232,1021.1 L1231,1021.1 L1230,1021.9 L1229,1025.3 L1228,1028.7 L1227,1028.7 L1226,1028.7 L1225,1027.7 L1224,1021.5 L1223,1014.6 L1222,1013.9 L1221,1012.9 L1220,1009.1 L1219,1008.3 L1218,1007.2 L1217,1006.3 L1216,1003.4 L1215,1003.3 L1214,1002.9 L1213,1002.6 L1212,1003.2 L1211,1004.7 L1210,1004.7 L1209,1004.7 L1208,1002.9 L1207,1002.7 L1206,1002.7 L1205,1003.4 L1204,1007.2 L1203,1010.4 L1202,1013.1 L1201,1018.3 L1200,1025.2 L1199,1034.4 L1198,1035.8 L1197,1036.7 L1196,1036.7 L1195,1036.7 L1194,1035.3 L1193,1033.5 L1192,1032.0 L1191,1029.1 L1190,1025.7 L1189,1023.9 L1188,1019.7 L1187,1016.5 L1186,1015.8 L1185,1021.3 L1184,1023.7 L1183,1025.0 L1182,1026.6 L1181,1034.2 L1180,1035.7 L1179,1035.7 L1178,1038.3 L1177,1044.4 L1176,1045.3 L1175,1045.3 L1174,1046.7 L1173,1046.7 L1172,1046.7 L1171,1045.7 L1170,1043.9 L1169,1043.9 L1168,1042.5 L1167,1038.2 L1166,1033.6 L1165,1033.6 L1164,1033.6 L1163,1031.1 L1162,1029.8 L1161,1040.2 L1160,1057.5 L1159,1073.3 L1158,1073.3 L1157,1073.3 L1156,1072.9 L1155,1070.5 L1154,1066.7 L1153,1061.9 L1152,1059.8 L1151,1059.8 L1150,1056.3 L1149,1051.5 L1148,1047.1 L1147,1042.2 L1146,1037.3 L1145,1034.5 L1144,1032.5 L1143,1032.5 L1142,1033.7 L1141,1035.4 L1140,1038.6 L1139,1044.7 L1138,1050.5 L1137,1053.6 L1136,1054.1 L1135,1054.1 L1134,1054.1 L1133,1053.1 L1132,1050.4 L1131,1050.4 L1130,1050.2 L1129,1049.8 L1128,1048.6 L1127,1044.9 L1126,1041.7 L1125,1039.5 L1124,1038.6 L1123,1037.7 L1122,1037.7 L1121,1039.1 L1120,1039.1 L1119,1039.1 L1118,1038.2 L1117,1036.4 L1116,1035.0 L1115,1034.9 L1114,1034.9 L1113,1041.3 L1112,1047.1 L1111,1054.4 L1110,1061.8 L1109,1063.1 L1108,1069.4 L1107,1073.3 L1106,1073.3 L1105,1073.3 L1104,1073.5 L1103,1073.5 L1102,1073.5 L1101,1065.1 L1100,1063.1 L1099,1063.1 L1098,1060.6 L1097,1071.6 L1096,1121.5 L1095,1130.0 L1094,1130.0 L1093,1130.0 L1092,1117.6 L1091,1117.6 L1090,1117.6 L1089,1107.7 L1088,1100.2 L1087,1097.3 L1086,1091.5 L1085,1084.1 L1084,1076.2 L1083,1071.0 L1082,1080.0 L1081,1088.4 L1080,1092.9 L1079,1092.9 L1078,1097.8 L1077,1103.3 L1076,1103.3 L1075,1103.3 L1074,1102.8 L1073,1102.1 L1072,1099.5 L1071,1092.7 L1070,1086.8 L1069,1086.8 L1068,1080.0 L1067,1079.1 L1066,1080.3 L1065,1089.3 L1064,1102.2 L1063,1111.5 L1062,1118.3 L1061,1133.7 L1060,1136.7 L1059,1136.7 L1058,1136.7 L1057,1131.4 L1056,1125.1 L1055,1117.3 L1054,1107.5 L1053,1095.7 L1052,1083.0 L1051,1076.6 L1050,1104.0 L1049,1104.0 L1048,1104.0 L1047,1105.7 L1046,1105.7 L1045,1105.7 L1044,1103.3 L1043,1096.4 L1042,1092.0 L1041,1092.0 L1040,1092.0 L1039,1091.0 L1038,1090.9 L1037,1094.4 L1036,1097.9 L1035,1099.3 L1034,1100.3 L1033,1100.3 L1032,1100.3 L1031,1098.3 L1030,1093.1 L1029,1087.7 L1028,1085.1 L1027,1096.4 L1026,1107.3 L1025,1112.8 L1024,1112.8 L1023,1112.8 L1022,1111.8 L1021,1110.4 L1020,1109.5 L1019,1109.0 L1018,1104.2 L1017,1108.8 L1016,1132.7 L1015,1144.1 L1014,1144.1 L1013,1144.1 L1012,1138.2 L1011,1126.9 L1010,1115.1 L1009,1112.2 L1008,1119.5 L1007,1124.4 L1006,1124.8 L1005,1125.3 L1004,1125.3 L1003,1125.3 L1002,1122.8 L1001,1118.4 L1000,1112.1 L999,1110.5 L998,1119.8 L997,1129.1 L996,1131.6 L995,1131.6 L994,1131.6 L993,1125.6 L992,1118.1 L991,1113.0 L990,1119.9 L989,1126.8 L988,1135.3 L987,1139.7 L986,1141.4 L985,1148.6 L984,1155.4 L983,1155.4 L982,1155.4 L981,1152.4 L980,1138.1 L979,1146.7 L978,1154.5 L977,1159.8 L976,1161.7 L975,1161.7 L974,1161.7 L973,1157.7 L972,1151.9 L971,1140.5 L970,1141.8 L969,1150.0 L968,1156.8 L967,1161.0 L966,1171.3 L965,1184.1 L964,1195.5 L963,1195.5 L962,1195.5 L961,1193.5 L960,1183.3 L959,1176.0 L958,1173.2 L957,1167.8 L956,1160.4 L955,1143.5 L954,1162.9 L953,1162.9 L952,1162.9 L951,1161.9 L950,1156.1 L949,1150.7 L948,1145.7 L947,1142.9 L946,1144.8 L945,1147.6 L944,1150.9 L943,1156.3 L942,1158.8 L941,1158.8 L940,1160.1 L939,1164.3 L938,1165.0 L937,1165.4 L936,1165.4 L935,1165.4 L934,1159.7 L933,1153.9 L932,1151.1 L931,1151.3 L930,1157.1 L929,1162.9 L928,1162.9 L927,1162.9 L926,1162.4 L925,1158.5 L924,1153.2 L923,1158.7 L922,1178.5 L921,1188.0 L920,1188.0 L919,1188.0 L918,1185.6 L917,1182.3 L916,1176.3 L915,1171.8 L914,1169.5 L913,1164.2 L912,1159.4 L911,1158.7 L910,1159.7 L909,1159.7 L908,1159.7 L907,1160.2 L906,1160.6 L905,1161.6 L904,1162.9 L903,1171.7 L902,1180.6 L901,1185.5 L900,1185.5 L899,1185.5 L898,1183.5 L897,1181.1 L896,1180.2 L895,1179.9 L894,1179.6 L893,1177.7 L892,1175.8 L891,1173.0 L890,1172.1 L889,1172.1 L888,1172.0 L887,1174.7 L886,1177.5 L885,1182.2 L884,1188.0 L883,1193.4 L882,1194.8 L881,1201.1 L880,1210.8 L879,1217.0 L878,1218.0 L877,1218.0 L876,1223.4 L875,1226.2 L874,1226.7 L873,1226.7 L872,1226.7 L871,1208.9 L870,1189.2 L869,1182.1 L868,1189.9 L867,1200.1 L866,1210.4 L865,1218.6 L864,1220.0 L863,1220.0 L862,1220.0 L861,1205.7 L860,1189.0 L859,1175.8 L858,1177.9 L857,1180.6 L856,1184.4 L855,1192.2 L854,1198.1 L853,1198.1 L852,1201.4 L851,1203.3 L850,1203.3 L849,1205.1 L848,1206.1 L847,1206.8 L846,1209.3 L845,1210.3 L844,1210.3 L843,1210.3 L842,1208.7 L841,1210.0 L840,1210.0 L839,1210.0 L838,1206.0 L837,1198.6 L836,1193.3 L835,1190.7 L834,1194.7 L833,1197.9 L832,1200.2 L831,1201.4 L830,1201.4 L829,1201.4 L828,1205.3 L827,1217.8 L826,1231.7 L825,1247.0 L824,1250.0 L823,1250.0 L822,1250.0 L821,1237.5 L820,1223.6 L819,1218.9 L818,1223.3 L817,1226.6 L816,1227.4 L815,1228.7 L814,1231.1 L813,1236.3 L812,1238.6 L811,1240.0 L810,1240.0 L809,1240.0 L808,1239.2 L807,1238.0 L806,1238.0 L805,1236.9 L804,1236.9 L803,1236.5 L802,1235.1 L801,1234.3 L800,1232.5 L799,1232.4 L798,1232.4 L797,1232.7 L796,1235.6 L795,1239.0 L794,1240.2 L793,1240.8 L792,1241.2 L791,1241.2 L790,1245.1 L789,1249.1 L788,1249.1 L787,1249.1 L786,1247.6 L785,1247.6 L784,1247.6 L783,1249.4 L782,1250.4 L781,1252.5 L780,1263.2 L779,1272.2 L778,1278.9 L777,1288.1 L776,1299.4 L775,1308.1 L774,1310.0 L773,1310.0 L772,1310.0 L771,1301.6 L770,1290.3 L769,1274.5 L768,1266.7 L767,1271.1 L766,1273.0 L765,1273.0 L764,1273.0 L763,1272.0 L762,1268.8 L761,1268.8 L760,1268.8 L759,1269.9 L758,1269.9 L757,1269.9 L756,1270.6 L755,1271.3 L754,1271.3 L753,1271.3 L752,1271.3 L751,1270.9 L750,1270.0 L749,1270.0 L748,1268.0 L747,1264.1 L746,1259.7 L745,1259.7 L744,1255.3 L743,1268.2 L742,1273.7 L741,1278.7 L740,1283.2 L739,1283.4 L738,1284.0 L737,1286.4 L736,1291.4 L735,1301.7 L734,1309.5 L733,1309.5 L732,1309.5 L731,1313.3 L730,1313.3 L729,1313.3 L728,1306.9 L727,1294.0 L726,1281.4 L725,1285.3 L724,1285.3 L723,1289.2 L722,1296.1 L721,1301.4 L720,1304.7 L719,1304.7 L718,1304.7 L717,1304.2 L716,1305.9 L715,1306.0 L714,1306.0 L713,1306.2 L712,1309.9 L711,1309.9 L710,1309.9 L709,1309.4 L708,1310.0 L707,1310.0 L706,1310.0 L705,1309.0 L704,1305.6 L703,1304.4 L702,1303.3 L701,1301.9 L700,1297.1 L699,1295.1 L698,1297.0 L697,1298.9 L696,1298.9 L695,1298.9 L694,1299.3 L693,1299.5 L692,1301.9 L691,1303.7 L690,1305.9 L689,1310.9 L688,1311.9 L687,1312.7 L686,1317.1 L685,1317.1 L684,1324.5 L683,1332.4 L682,1338.7 L681,1343.1 L680,1352.1 L679,1361.5 L678,1370.0 L677,1370.0 L676,1370.0 L675,1368.5 L674,1362.2 L673,1352.4 L672,1340.5 L671,1340.5 L670,1339.1 L669,1337.8 L668,1338.8 L667,1339.3 L666,1339.3 L665,1339.3 L664,1336.8 L663,1337.7 L662,1337.7 L661,1337.7 L660,1337.7 L659,1337.3 L658,1337.3 L657,1337.3 L656,1336.9 L655,1336.6 L654,1336.5 L653,1334.7 L652,1331.5 L651,1331.8 L650,1331.8 L649,1349.8 L648,1376.7 L647,1376.7 L646,1376.7 L645,1375.2 L644,1368.2 L643,1361.9 L642,1357.1 L641,1355.7 L640,1353.9 L639,1351.1 L638,1344.8 L637,1346.6 L636,1352.0 L635,1355.4 L634,1357.4 L633,1363.2 L632,1369.5 L631,1373.4 L630,1373.5 L629,1373.5 L628,1373.5 L627,1373.1 L626,1372.3 L625,1367.7 L624,1367.7 L623,1366.8 L622,1365.1 L621,1366.4 L620,1368.3 L619,1369.8 L618,1370.0 L617,1370.0 L616,1370.0 L615,1369.7 L614,1369.0 L613,1366.5 L612,1366.1 L611,1366.1 L610,1366.1 L609,1364.6 L608,1362.2 L607,1366.4 L606,1374.2 L605,1381.9 L604,1386.2 L603,1388.9 L602,1391.5 L601,1398.5 L600,1400.4 L599,1401.8 L598,1403.3 L597,1403.3 L596,1408.7 L595,1414.6 L594,1416.5 L593,1417.0 L592,1418.0 L591,1420.9 L590,1429.1 L589,1432.7 L588,1433.3 L587,1433.3 L586,1433.3 L585,1432.9 L584,1433.0 L583,1433.5 L582,1433.5 L581,1433.5 L580,1432.7 L579,1432.7 L578,1432.7 L577,1432.7 L576,1431.4 L575,1429.6 L574,1428.7 L573,1422.7 L572,1417.3 L571,1413.5 L570,1410.1 L569,1409.5 L568,1413.6 L567,1416.4 L566,1418.2 L565,1422.4 L564,1423.3 L563,1423.3 L562,1423.3 L561,1420.0 L560,1416.7 L559,1413.5 L558,1411.6 L557,1409.8 L556,1408.0 L555,1405.2 L554,1411.4 L553,1426.3 L552,1444.0 L551,1453.3 L550,1453.3 L549,1453.3 L548,1453.1 L547,1452.0 L546,1441.8 L545,1441.8 L544,1439.9 L543,1434.4 L542,1434.4 L541,1430.4 L540,1419.7 L539,1416.5 L538,1422.9 L537,1429.7 L536,1429.8 L535,1430.7 L534,1433.2 L533,1436.1 L532,1438.5 L531,1440.0 L530,1440.0 L529,1440.0 L528,1440.7 L527,1442.5 L526,1442.5 L525,1443.1 L524,1443.6 L523,1443.6 L522,1443.6 L521,1443.4 L520,1443.4 L519,1442.9 L518,1443.3 L517,1446.1 L516,1448.4 L515,1449.4 L514,1450.1 L513,1452.8 L512,1455.2 L511,1456.7 L510,1456.7 L509,1456.7 L508,1455.7 L507,1454.0 L506,1453.3 L505,1452.1 L504,1453.9 L503,1458.7 L502,1464.0 L501,1467.2 L500,1467.7 L499,1468.0 L498,1468.0 L497,1468.0 L496,1467.2 L495,1467.5 L494,1474.7 L493,1482.0 L492,1489.9 L491,1496.9 L490,1501.4 L489,1501.4 L488,1501.4 L487,1500.5 L486,1497.7 L485,1495.8 L484,1494.5 L483,1493.4 L482,1491.9 L481,1493.6 L480,1494.1 L479,1494.1 L478,1495.1 L477,1503.5 L476,1511.0 L475,1513.0 L474,1514.0 L473,1514.0 L472,1514.0 L471,1507.1 L470,1497.2 L469,1493.4 L468,1496.1 L467,1499.4 L466,1501.8 L465,1505.1 L464,1510.8 L463,1513.0 L462,1514.0 L461,1514.0 L460,1514.0 L459,1512.5 L458,1507.2 L457,1501.9 L456,1497.1 L455,1497.7 L454,1502.4 L453,1507.8 L452,1511.6 L451,1514.0 L450,1514.0 L449,1514.0 L448,1513.0 L447,1510.6 L446,1505.8 L445,1507.7 L444,1513.7 L443,1519.1 L442,1525.0 L441,1526.5 L440,1526.5 L439,1526.5 L438,1525.6 L437,1525.0 L436,1525.0 L435,1525.0 L434,1524.6 L433,1527.0 L432,1528.9 L431,1529.7 L430,1530.1 L429,1530.1 L428,1531.1 L427,1533.5 L426,1536.4 L425,1536.9 L424,1537.4 L423,1537.4 L422,1537.4 L421,1535.7 L420,1533.4 L419,1530.3 L418,1532.0 L417,1533.4 L416,1534.6 L415,1536.4 L414,1540.6 L413,1543.9 L412,1547.2 L411,1551.1 L410,1553.4 L409,1553.9 L408,1554.1 L407,1554.1 L406,1554.2 L405,1554.7 L404,1554.7 L403,1556.3 L402,1558.1 L401,1559.4 L400,1562.7 L399,1565.5 L398,1568.4 L397,1572.6 L396,1575.4 L395,1577.7 L394,1578.3 L393,1578.5 L392,1578.5 L391,1578.5 L390,1579.3 L389,1579.3 L388,1579.3 L387,1579.1 L386,1578.3 L385,1576.4 L384,1576.2 L383,1576.8 L382,1578.2 L381,1578.2 L380,1578.2 L379,1578.0 L378,1578.1 L377,1578.2 L376,1578.2 L375,1581.1 L374,1582.7 L373,1583.2 L372,1586.8 L371,1589.2 L370,1590.3 L369,1590.7 L368,1590.7 L367,1590.7 L366,1590.1 L365,1592.3 L364,1594.3 L363,1598.2 L362,1602.7 L361,1603.2 L360,1603.2 L359,1603.2 L358,1601.9 L357,1603.7 L356,1605.7 L355,1606.8 L354,1607.3 L353,1607.6 L352,1613.3 L351,1623.6 L350,1624.9 L349,1626.2 L348,1626.2 L347,1626.2 L346,1626.7 L345,1627.0 L344,1627.3 L343,1627.9 L342,1627.9 L341,1627.9 L340,1627.6 L339,1626.7 L338,1624.9 L337,1622.8 L336,1622.3 L335,1620.2 L334,1617.0 L333,1616.7 L332,1630.0 L331,1645.8 L330,1651.8 L329,1651.8 L328,1651.8 L327,1648.4 L326,1643.2 L325,1637.4 L324,1635.6 L323,1635.7 L322,1635.7 L321,1635.7 L320,1634.8 L319,1633.9 L318,1633.5 L317,1638.8 L316,1644.2 L315,1649.7 L314,1650.5 L313,1651.2 L312,1652.6 L311,1652.6 L310,1652.7 L309,1654.7 L308,1657.0 L307,1658.8 L306,1659.6 L305,1659.6Z" fill="#00B050" stroke="#00B050" stroke-width="7" stroke-linejoin="round"/>
<path d="M296,1661.9 L297,1661.9 L298,1662.0 L299,1661.4 L300,1661.0 L301,1660.8 L302,1660.6 L303,1659.7 L304,1659.7 L305,1653.5 L306,1643.1 L307,1637.5 L308,1637.1 L309,1637.1 L310,1637.1 L311,1637.5 L312,1639.2 L313,1639.2 L314,1647.2 L315,1656.8 L316,1655.7 L317,1654.9 L318,1653.7 L319,1652.4 L320,1650.5 L321,1650.1 L322,1649.9 L323,1649.9 L324,1647.4 L325,1645.6 L326,1644.8 L327,1644.4 L328,1644.4 L329,1644.4 L330,1645.2 L331,1648.0 L332,1642.0 L333,1636.1 L334,1636.1 L335,1636.1 L336,1638.0 L337,1640.4 L338,1641.9 L339,1644.2 L340,1646.6 L341,1649.0 L342,1641.8 L343,1635.4 L344,1633.0 L345,1633.0 L346,1633.0 L347,1633.2 L348,1633.9 L349,1637.8 L350,1635.2 L351,1629.3 L352,1626.8 L353,1624.4 L354,1621.4 L355,1618.1 L356,1614.8 L357,1612.5 L358,1611.0 L359,1611.0 L360,1611.0 L361,1612.3 L362,1613.6 L363,1613.6 L364,1613.9 L365,1614.2 L366,1615.4 L367,1613.7 L368,1609.0 L369,1605.1 L370,1601.6 L371,1601.5 L372,1601.2 L373,1601.0 L374,1599.5 L375,1598.1 L376,1598.1 L377,1597.0 L378,1595.5 L379,1594.2 L380,1593.4 L381,1593.4 L382,1593.4 L383,1592.3 L384,1592.3 L385,1592.3 L386,1593.2 L387,1593.3 L388,1593.3 L389,1594.3 L390,1596.6 L391,1598.0 L392,1599.5 L393,1599.2 L394,1597.9 L395,1596.9 L396,1593.2 L397,1589.3 L398,1584.9 L399,1579.0 L400,1572.5 L401,1567.1 L402,1565.6 L403,1565.6 L404,1565.6 L405,1566.1 L406,1566.7 L407,1567.1 L408,1567.1 L409,1567.6 L410,1569.4 L411,1571.2 L412,1572.9 L413,1573.5 L414,1573.5 L415,1570.5 L416,1568.5 L417,1567.2 L418,1564.4 L419,1562.2 L420,1560.5 L421,1557.1 L422,1554.7 L423,1554.7 L424,1554.7 L425,1556.1 L426,1559.0 L427,1560.5 L428,1559.1 L429,1556.9 L430,1555.2 L431,1554.0 L432,1550.8 L433,1548.4 L434,1548.4 L435,1548.2 L436,1547.9 L437,1547.9 L438,1547.9 L439,1548.2 L440,1548.4 L441,1548.4 L442,1549.4 L443,1553.2 L444,1557.5 L445,1541.0 L446,1539.0 L447,1539.0 L448,1539.0 L449,1541.4 L450,1543.2 L451,1546.1 L452,1547.0 L453,1542.6 L454,1542.0 L455,1541.0 L456,1539.6 L457,1536.3 L458,1534.3 L459,1533.5 L460,1533.2 L461,1533.2 L462,1533.0 L463,1532.7 L464,1532.7 L465,1531.5 L466,1530.7 L467,1530.7 L468,1530.6 L469,1529.6 L470,1529.6 L471,1529.6 L472,1530.1 L473,1531.5 L474,1532.5 L475,1532.4 L476,1532.4 L477,1532.4 L478,1532.4 L479,1533.8 L480,1533.6 L481,1533.6 L482,1533.6 L483,1535.0 L484,1535.9 L485,1535.9 L486,1536.2 L487,1536.1 L488,1530.8 L489,1526.5 L490,1520.6 L491,1514.7 L492,1509.7 L493,1509.3 L494,1509.3 L495,1509.3 L496,1508.6 L497,1506.8 L498,1506.8 L499,1506.8 L500,1507.0 L501,1506.9 L502,1506.9 L503,1506.9 L504,1506.9 L505,1507.0 L506,1506.7 L507,1506.7 L508,1506.7 L509,1508.9 L510,1509.1 L511,1510.1 L512,1516.4 L513,1511.8 L514,1503.3 L515,1494.8 L516,1490.5 L517,1488.1 L518,1488.1 L519,1488.1 L520,1488.3 L521,1488.2 L522,1487.5 L523,1483.8 L524,1482.8 L525,1482.8 L526,1482.8 L527,1483.6 L528,1483.1 L529,1483.1 L530,1483.1 L531,1483.3 L532,1483.8 L533,1484.5 L534,1489.4 L535,1489.8 L536,1490.7 L537,1493.6 L538,1493.6 L539,1497.5 L540,1492.9 L541,1484.1 L542,1476.7 L543,1476.7 L544,1474.9 L545,1472.6 L546,1471.9 L547,1470.6 L548,1470.1 L549,1470.1 L550,1467.5 L551,1467.5 L552,1467.5 L553,1468.1 L554,1467.6 L555,1467.0 L556,1466.7 L557,1466.7 L558,1466.7 L559,1469.9 L560,1472.1 L561,1473.7 L562,1482.9 L563,1485.9 L564,1485.3 L565,1484.3 L566,1480.5 L567,1479.7 L568,1475.8 L569,1473.3 L570,1473.3 L571,1473.3 L572,1473.7 L573,1473.7 L574,1473.7 L575,1476.1 L576,1480.0 L577,1483.0 L578,1485.4 L579,1483.2 L580,1477.4 L581,1475.0 L582,1468.2 L583,1460.9 L584,1453.9 L585,1448.1 L586,1446.7 L587,1446.7 L588,1446.7 L589,1450.6 L590,1455.6 L591,1457.8 L592,1457.5 L593,1457.5 L594,1457.5 L595,1458.3 L596,1458.3 L597,1459.2 L598,1462.4 L599,1462.4 L600,1462.4 L601,1463.3 L602,1464.7 L603,1452.8 L604,1443.0 L605,1434.8 L606,1433.3 L607,1433.3 L608,1433.3 L609,1434.7 L610,1434.8 L611,1434.8 L612,1438.2 L613,1438.9 L614,1439.4 L615,1441.6 L616,1442.6 L617,1443.8 L618,1441.0 L619,1440.6 L620,1439.0 L621,1436.1 L622,1432.2 L623,1426.4 L624,1425.0 L625,1425.0 L626,1425.0 L627,1417.7 L628,1416.3 L629,1416.3 L630,1416.3 L631,1418.6 L632,1424.9 L633,1433.3 L634,1441.2 L635,1440.5 L636,1436.7 L637,1433.9 L638,1430.1 L639,1425.8 L640,1423.2 L641,1422.1 L642,1419.2 L643,1412.7 L644,1412.7 L645,1412.7 L646,1410.7 L647,1396.5 L648,1394.6 L649,1394.6 L650,1394.6 L651,1398.5 L652,1406.5 L653,1417.9 L654,1427.6 L655,1418.7 L656,1415.2 L657,1413.7 L658,1413.7 L659,1413.7 L660,1413.7 L661,1414.2 L662,1419.0 L663,1421.6 L664,1421.6 L665,1421.6 L666,1423.2 L667,1423.4 L668,1423.4 L669,1423.4 L670,1427.7 L671,1428.3 L672,1428.3 L673,1422.0 L674,1413.7 L675,1408.3 L676,1405.4 L677,1397.0 L678,1390.1 L679,1386.7 L680,1386.7 L681,1386.7 L682,1388.1 L683,1390.5 L684,1393.8 L685,1394.8 L686,1394.8 L687,1394.8 L688,1400.8 L689,1404.1 L690,1404.1 L691,1403.9 L692,1400.6 L693,1396.6 L694,1393.7 L695,1393.7 L696,1389.9 L697,1386.6 L698,1385.9 L699,1384.5 L700,1381.7 L701,1379.0 L702,1376.7 L703,1376.7 L704,1376.7 L705,1377.2 L706,1379.1 L707,1379.6 L708,1379.6 L709,1380.5 L710,1383.2 L711,1382.5 L712,1381.7 L713,1380.1 L714,1377.9 L715,1377.9 L716,1377.9 L717,1375.1 L718,1375.1 L719,1372.3 L720,1370.8 L721,1370.8 L722,1370.0 L723,1370.0 L724,1370.0 L725,1371.9 L726,1382.2 L727,1391.0 L728,1393.6 L729,1390.5 L730,1386.8 L731,1384.4 L732,1382.3 L733,1380.1 L734,1376.8 L735,1371.0 L736,1369.7 L737,1368.3 L738,1366.0 L739,1366.0 L740,1366.0 L741,1367.0 L742,1361.7 L743,1361.7 L744,1361.7 L745,1361.8 L746,1360.5 L747,1360.2 L748,1358.1 L749,1356.7 L750,1356.7 L751,1356.7 L752,1361.5 L753,1369.8 L754,1377.5 L755,1381.9 L756,1380.5 L757,1375.8 L758,1372.5 L759,1372.5 L760,1372.5 L761,1374.4 L762,1372.9 L763,1368.2 L764,1365.8 L765,1363.4 L766,1358.6 L767,1355.9 L768,1351.7 L769,1345.0 L770,1340.3 L771,1338.0 L772,1338.0 L773,1338.0 L774,1339.2 L775,1341.0 L776,1344.3 L777,1344.3 L778,1348.3 L779,1355.2 L780,1361.9 L781,1361.9 L782,1356.1 L783,1348.2 L784,1342.3 L785,1341.7 L786,1341.4 L787,1340.0 L788,1334.3 L789,1328.6 L790,1327.7 L791,1327.1 L792,1323.3 L793,1323.3 L794,1323.3 L795,1324.3 L796,1329.0 L797,1331.7 L798,1335.0 L799,1337.9 L800,1343.5 L801,1344.9 L802,1342.6 L803,1340.3 L804,1336.1 L805,1335.1 L806,1335.1 L807,1333.6 L808,1331.4 L809,1330.0 L810,1330.0 L811,1330.0 L812,1331.9 L813,1334.7 L814,1337.3 L815,1338.2 L816,1338.2 L817,1338.2 L818,1342.6 L819,1345.5 L820,1335.6 L821,1326.8 L822,1320.0 L823,1317.3 L824,1315.9 L825,1314.9 L826,1314.9 L827,1307.5 L828,1305.5 L829,1305.5 L830,1305.5 L831,1302.2 L832,1301.2 L833,1301.2 L834,1301.2 L835,1294.8 L836,1293.3 L837,1293.3 L838,1293.3 L839,1322.1 L840,1314.7 L841,1304.9 L842,1295.2 L843,1295.2 L844,1295.2 L845,1293.9 L846,1286.2 L847,1286.2 L848,1281.7 L849,1278.3 L850,1278.3 L851,1278.3 L852,1276.2 L853,1268.6 L854,1251.7 L855,1251.7 L856,1251.7 L857,1252.1 L858,1253.3 L859,1307.7 L860,1306.8 L861,1306.8 L862,1306.8 L863,1303.4 L864,1294.1 L865,1288.9 L866,1287.4 L867,1280.1 L868,1277.7 L869,1276.7 L870,1276.7 L871,1276.7 L872,1277.2 L873,1278.4 L874,1282.5 L875,1284.7 L876,1284.4 L877,1284.4 L878,1284.4 L879,1284.5 L880,1284.5 L881,1285.0 L882,1286.7 L883,1283.3 L884,1281.9 L885,1281.9 L886,1277.3 L887,1276.0 L888,1272.3 L889,1270.0 L890,1270.0 L891,1270.0 L892,1270.4 L893,1272.0 L894,1275.5 L895,1275.5 L896,1280.4 L897,1286.7 L898,1286.0 L899,1286.0 L900,1286.0 L901,1286.5 L902,1288.4 L903,1290.2 L904,1292.1 L905,1292.1 L906,1288.4 L907,1280.7 L908,1279.2 L909,1278.2 L910,1268.8 L911,1268.8 L912,1268.4 L913,1266.3 L914,1264.9 L915,1258.1 L916,1256.7 L917,1256.7 L918,1256.7 L919,1263.6 L920,1270.0 L921,1274.8 L922,1283.7 L923,1288.0 L924,1290.7 L925,1282.9 L926,1278.6 L927,1272.2 L928,1265.9 L929,1259.6 L930,1259.6 L931,1254.9 L932,1246.7 L933,1245.2 L934,1240.9 L935,1238.4 L936,1238.4 L937,1238.4 L938,1241.3 L939,1243.5 L940,1243.5 L941,1242.9 L942,1240.5 L943,1238.6 L944,1238.6 L945,1238.6 L946,1239.0 L947,1239.5 L948,1240.0 L949,1240.7 L950,1246.6 L951,1257.0 L952,1263.3 L953,1266.9 L954,1264.5 L955,1259.6 L956,1252.7 L957,1245.5 L958,1243.0 L959,1242.1 L960,1242.1 L961,1241.3 L962,1229.5 L963,1222.1 L964,1222.1 L965,1222.1 L966,1223.3 L967,1223.3 L968,1223.3 L969,1235.8 L970,1249.4 L971,1242.7 L972,1236.1 L973,1230.8 L974,1225.9 L975,1215.3 L976,1213.3 L977,1213.3 L978,1213.3 L979,1213.9 L980,1213.9 L981,1214.8 L982,1216.6 L983,1216.6 L984,1216.9 L985,1218.0 L986,1221.2 L987,1225.1 L988,1225.1 L989,1226.1 L990,1229.1 L991,1229.9 L992,1231.0 L993,1233.9 L994,1240.4 L995,1242.5 L996,1243.8 L997,1242.4 L998,1237.6 L999,1237.6 L1000,1237.6 L1001,1238.0 L1002,1238.5 L1003,1232.7 L1004,1229.9 L1005,1226.1 L1006,1221.9 L1007,1221.9 L1008,1221.9 L1009,1220.0 L1010,1220.0 L1011,1220.0 L1012,1224.9 L1013,1233.7 L1014,1244.5 L1015,1240.7 L1016,1225.3 L1017,1223.3 L1018,1223.3 L1019,1217.7 L1020,1212.4 L1021,1206.0 L1022,1200.0 L1023,1200.0 L1024,1200.0 L1025,1201.0 L1026,1200.5 L1027,1196.2 L1028,1194.3 L1029,1194.3 L1030,1194.3 L1031,1198.6 L1032,1199.6 L1033,1199.6 L1034,1200.6 L1035,1199.2 L1036,1199.2 L1037,1199.2 L1038,1200.6 L1039,1200.6 L1040,1200.6 L1041,1202.4 L1042,1205.7 L1043,1209.9 L1044,1215.5 L1045,1219.3 L1046,1226.1 L1047,1224.2 L1048,1224.2 L1049,1219.3 L1050,1215.9 L1051,1210.1 L1052,1202.4 L1053,1196.2 L1054,1192.4 L1055,1190.0 L1056,1190.0 L1057,1190.0 L1058,1192.3 L1059,1196.6 L1060,1200.4 L1061,1201.6 L1062,1202.9 L1063,1202.4 L1064,1197.0 L1065,1194.2 L1066,1190.5 L1067,1185.7 L1068,1180.4 L1069,1175.7 L1070,1173.3 L1071,1173.3 L1072,1173.3 L1073,1176.3 L1074,1181.8 L1075,1187.1 L1076,1192.3 L1077,1195.2 L1078,1195.8 L1079,1195.8 L1080,1195.8 L1081,1196.8 L1082,1198.2 L1083,1198.6 L1084,1198.1 L1085,1198.1 L1086,1198.1 L1087,1196.4 L1088,1195.8 L1089,1193.7 L1090,1189.4 L1091,1189.4 L1092,1189.4 L1093,1189.6 L1094,1190.0 L1095,1192.3 L1096,1195.7 L1097,1198.6 L1098,1201.9 L1099,1205.7 L1100,1208.6 L1101,1209.1 L1102,1209.1 L1103,1215.5 L1104,1215.5 L1105,1217.5 L1106,1199.3 L1107,1177.9 L1108,1160.0 L1109,1158.8 L1110,1158.4 L1111,1158.4 L1112,1158.4 L1113,1156.2 L1114,1154.7 L1115,1154.7 L1116,1154.7 L1117,1156.4 L1118,1156.4 L1119,1156.7 L1120,1156.7 L1121,1156.7 L1122,1156.7 L1123,1156.7 L1124,1156.7 L1125,1157.5 L1126,1157.5 L1127,1157.5 L1128,1157.5 L1129,1157.5 L1130,1160.0 L1131,1161.5 L1132,1161.5 L1133,1161.5 L1134,1161.7 L1135,1161.7 L1136,1161.7 L1137,1162.9 L1138,1165.3 L1139,1168.2 L1140,1171.1 L1141,1171.1 L1142,1173.5 L1143,1179.2 L1144,1159.2 L1145,1146.7 L1146,1146.7 L1147,1143.1 L1148,1140.6 L1149,1140.6 L1150,1140.6 L1151,1140.7 L1152,1137.9 L1153,1137.9 L1154,1137.9 L1155,1138.8 L1156,1140.0 L1157,1140.0 L1158,1144.5 L1159,1152.4 L1160,1148.2 L1161,1143.9 L1162,1140.5 L1163,1127.1 L1164,1124.2 L1165,1123.3 L1166,1123.3 L1167,1123.3 L1168,1129.2 L1169,1140.6 L1170,1149.8 L1171,1150.4 L1172,1148.1 L1173,1141.9 L1174,1140.5 L1175,1140.5 L1176,1140.5 L1177,1140.5 L1178,1137.4 L1179,1132.6 L1180,1131.4 L1181,1127.6 L1182,1126.7 L1183,1126.7 L1184,1126.7 L1185,1129.4 L1186,1132.7 L1187,1137.7 L1188,1140.6 L1189,1142.5 L1190,1145.0 L1191,1159.8 L1192,1160.6 L1193,1149.8 L1194,1145.8 L1195,1141.4 L1196,1136.9 L1197,1135.1 L1198,1130.3 L1199,1125.6 L1200,1124.4 L1201,1121.6 L1202,1119.1 L1203,1118.0 L1204,1112.8 L1205,1110.0 L1206,1110.0 L1207,1110.0 L1208,1114.4 L1209,1122.2 L1210,1130.2 L1211,1130.2 L1212,1129.9 L1213,1128.4 L1214,1126.5 L1215,1123.7 L1216,1121.2 L1217,1119.7 L1218,1119.7 L1219,1119.7 L1220,1119.9 L1221,1120.1 L1222,1120.3 L1223,1123.0 L1224,1123.4 L1225,1123.8 L1226,1123.2 L1227,1123.2 L1228,1121.4 L1229,1118.1 L1230,1116.4 L1231,1115.5 L1232,1115.5 L1233,1112.5 L1234,1112.0 L1235,1112.0 L1236,1112.0 L1237,1112.9 L1238,1117.7 L1239,1126.1 L1240,1138.9 L1241,1145.6 L1242,1140.2 L1243,1134.8 L1244,1127.3 L1245,1120.4 L1246,1115.4 L1247,1115.4 L1248,1107.5 L1249,1102.1 L1250,1102.1 L1251,1100.9 L1252,1095.8 L1253,1092.1 L1254,1090.3 L1255,1090.3 L1256,1089.5 L1257,1087.8 L1258,1086.7 L1259,1086.7 L1260,1086.7 L1261,1087.7 L1262,1093.6 L1263,1094.6 L1264,1096.8 L1265,1100.1 L1266,1102.8 L1267,1104.2 L1268,1096.9 L1269,1088.9 L1270,1088.9 L1271,1088.5 L1272,1080.7 L1273,1080.7 L1274,1079.5 L1275,1076.7 L1276,1076.7 L1277,1076.7 L1278,1122.6 L1279,1121.7 L1280,1121.7 L1281,1121.7 L1282,1123.5 L1283,1124.8 L1284,1124.8 L1285,1127.8 L1286,1125.4 L1287,1121.0 L1288,1121.0 L1289,1120.0 L1290,1107.6 L1291,1099.2 L1292,1095.7 L1293,1090.3 L1294,1081.5 L1295,1076.6 L1296,1076.4 L1297,1076.4 L1298,1076.4 L1299,1076.8 L1300,1080.7 L1301,1086.1 L1302,1091.6 L1303,1093.5 L1304,1099.9 L1305,1105.8 L1306,1109.7 L1307,1097.7 L1308,1095.7 L1309,1095.7 L1310,1088.8 L1311,1084.3 L1312,1081.4 L1313,1080.0 L1314,1080.0 L1315,1080.0 L1316,1082.3 L1317,1087.0 L1318,1087.1 L1319,1087.1 L1320,1087.6 L1321,1091.4 L1322,1091.7 L1323,1091.5 L1324,1085.2 L1325,1083.3 L1326,1082.3 L1327,1082.3 L1328,1081.7 L1329,1078.4 L1330,1074.7 L1331,1070.9 L1332,1070.0 L1333,1070.0 L1334,1070.0 L1335,1082.5 L1336,1079.1 L1337,1076.7 L1338,1074.3 L1339,1074.3 L1340,1072.1 L1341,1067.7 L1342,1067.7 L1343,1066.7 L1344,1061.9 L1345,1059.1 L1346,1057.0 L1347,1056.0 L1348,1050.2 L1349,1044.0 L1350,1039.3 L1351,1037.1 L1352,1036.7 L1353,1036.7 L1354,1036.7 L1355,1052.0 L1356,1069.3 L1357,1082.1 L1358,1073.9 L1359,1068.1 L1360,1065.8 L1361,1061.0 L1362,1059.8 L1363,1059.0 L1364,1057.8 L1365,1057.4 L1366,1057.4 L1367,1057.4 L1368,1062.0 L1369,1063.6 L1370,1062.6 L1371,1062.6 L1372,1062.6 L1373,1063.5 L1374,1066.2 L1375,1071.0 L1376,1073.7 L1377,1074.4 L1378,1074.4 L1379,1081.7 L1380,1093.9 L1381,1095.2 L1382,1099.2 L1383,1094.5 L1384,1082.2 L1385,1081.7 L1386,1078.7 L1387,1060.3 L1388,1060.3 L1389,1058.5 L1390,1050.6 L1391,1047.7 L1392,1046.7 L1393,1046.7 L1394,1046.7 L1395,1058.4 L1396,1072.2 L1397,1076.8 L1398,1073.8 L1399,1073.8 L1400,1067.0 L1401,1059.7 L1402,1055.3 L1403,1054.7 L1404,1051.9 L1405,1049.8 L1406,1049.3 L1407,1049.3 L1408,1047.3 L1409,1043.0 L1410,1039.5 L1411,1035.2 L1412,1031.5 L1413,1029.8 L1414,1029.4 L1415,1029.4 L1416,1029.4 L1417,1029.8 L1418,1067.1 L1419,1067.6 L1420,1068.1 L1421,1063.5 L1422,1059.1 L1423,1059.1 L1424,1058.0 L1425,1056.7 L1426,1056.7 L1427,1056.7 L1428,1059.6 L1429,1065.5 L1430,1064.5 L1431,1059.6 L1432,1054.8 L1433,1049.8 L1434,1044.9 L1435,1038.9 L1436,1033.5 L1437,1030.7 L1438,1030.0 L1439,1030.0 L1440,1030.0 L1441,1030.4 L1442,1031.3 L1443,1031.5 L1444,1031.9 L1445,1031.9 L1446,1031.9 L1447,1032.8 L1448,1034.7 L1449,1035.9 L1450,1035.9 L1451,1037.3 L1452,1038.5 L1453,1038.9 L1454,1041.3 L1455,1043.5 L1456,1044.1 L1457,1044.6 L1458,1043.6 L1459,1043.6 L1460,1043.6 L1461,1046.0 L1462,1046.6 L1463,1046.6 L1464,1047.4 L1465,1047.4 L1466,1047.4 L1467,1049.1 L1468,1050.8 L1469,1052.2 L1470,1060.4 L1471,1066.1 L1472,1069.5 L1473,1070.9 L1474,1080.0 L1475,1078.3 L1476,1073.2 L1477,1063.5 L1478,1061.6 L1479,1055.1 L1480,1047.7 L1481,1044.3 L1482,1041.9 L1483,1040.9 L1484,1040.9 L1485,1040.9 L1486,1041.2 L1487,1041.2 L1488,1041.2 L1489,1042.3 L1490,1041.8 L1491,1041.8 L1492,1041.8 L1493,1044.7 L1494,1044.7 L1495,1045.6 L1496,1043.9 L1497,1039.6 L1498,1038.5 L1499,1038.1 L1500,1038.1 L1501,1033.8 L1502,1026.6 L1503,1022.8 L1504,1022.8 L1505,1022.8 L1506,1021.1 L1507,1016.2 L1508,1016.2 L1509,1016.2 L1510,1016.5 L1511,1020.6 L1512,1042.4 L1513,1046.0 L1514,1045.8 L1515,1045.2 L1516,1037.9 L1517,1033.7 L1518,1033.3 L1519,1033.3 L1520,1033.3 L1521,1034.8 L1522,1041.2 L1523,1047.1 L1524,1043.9 L1525,1040.5 L1526,1036.1 L1527,1030.1 L1528,1028.5 L1529,1025.8 L1530,1022.0 L1531,1017.6 L1532,1016.7 L1533,1016.7 L1534,1016.6 L1535,1013.3 L1536,1012.9 L1537,1012.9 L1538,1012.9 L1539,1016.1 L1540,1017.8 L1541,1018.2 L1542,1018.5 L1543,1019.4 L1544,1019.4 L1545,1019.6 L1546,1020.0 L1547,1020.0 L1548,1020.5 L1549,1021.1 L1550,1021.8 L1551,1022.7 L1552,1024.6 L1553,1026.5 L1554,1026.5 L1555,1026.8 L1556,1027.4 L1557,1029.1 L1558,1030.4 L1559,1031.0 L1560,1035.3 L1561,1038.1 L1562,1041.0 L1563,1042.8 L1564,1043.9 L1565,1044.5 L1566,1044.9 L1567,1045.7 L1568,1044.0 L1569,1041.1 L1570,1041.1 L1571,1041.1 L1572,1040.9 L1573,1040.2 L1574,1038.0 L1575,1035.2 L1576,1032.3 L1577,1028.3 L1578,1027.1 L1579,1025.1 L1580,1022.4 L1581,1020.5 L1582,1018.8 L1583,1017.9 L1584,1017.9 L1585,1017.9 L1586,1017.8 L1587,1017.8 L1588,1017.8 L1589,1019.0 L1590,1018.2 L1591,1017.3 L1592,1016.8 L1593,1016.8 L1594,1016.8 L1595,1015.7 L1596,1013.4 L1597,1012.9 L1598,1012.2 L1599,1010.8 L1600,1007.4 L1601,1006.5 L1602,1006.5 L1603,1006.5 L1604,1005.3 L1605,1003.3 L1606,1003.3 L1607,1003.3 L1608,1004.7 L1609,1006.4 L1610,1007.1 L1611,1008.9 L1612,1009.5 L1613,1010.1 L1614,1012.7 L1615,1015.0 L1616,1017.0 L1617,1017.0 L1618,1017.0 L1619,1020.5 L1620,1016.2 L1621,1011.8 L1622,1009.5 L1623,1007.2 L1624,1005.4 L1625,1004.6 L1626,999.9 L1627,996.2 L1628,993.3 L1629,993.3 L1630,993.3 L1631,994.3 L1632,998.9 L1633,999.3 L1634,1001.2 L1635,1003.7 L1636,1003.7 L1637,1004.6 L1638,1007.0 L1639,1008.9 L1640,1010.9 L1641,1009.2 L1642,1008.6 L1643,1005.8 L1644,1004.1 L1645,1003.3 L1646,1003.3 L1647,1003.3 L1648,1004.8 L1649,1007.6 L1650,1009.8 L1651,1012.0 L1652,1014.2 L1653,1016.5 L1654,1019.9 L1655,1023.4 L1656,1023.8 L1657,1020.3 L1658,1015.0 L1659,1012.1 L1660,1011.9 L1661,1004.8 L1662,1001.5 L1663,1000.1 L1664,1000.1 L1665,998.3 L1666,997.3 L1667,997.3 L1668,997.3 L1669,998.2 L1670,998.0 L1671,996.2 L1672,996.2 L1673,995.1 L1674,994.2 L1675,993.3 L1676,993.3 L1677,993.3 L1678,993.6 L1679,994.1 L1680,995.1 L1681,995.1 L1682,994.7 L1683,993.7 L1684,993.7 L1685,993.7 L1686,995.0 L1687,995.6 L1688,995.6 L1689,995.5 L1690,992.6 L1691,989.2 L1692,989.1 L1693,989.1 L1694,989.1 L1695,983.8 L1696,980.6 L1697,978.8 L1698,978.8 L1699,978.8 L1700,976.7 L1701,976.7 L1702,976.7 L1703,982.0 L1704,992.3 L1705,1002.1 L1706,1007.2 L1707,1002.5 L1708,1002.5 L1709,1002.5 L1710,998.3 L1711,998.3 L1712,996.2 L1713,992.8 L1714,992.8 L1715,992.4 L1716,990.0 L1717,990.0 L1718,989.1 L1719,987.3 L1720,985.4 L1721,983.8 L1722,983.3 L1723,983.3 L1724,983.3 L1725,983.7 L1726,984.0 L1727,984.1 L1728,989.6 L1729,992.4 L1730,993.7 L1731,994.8 L1732,994.8 L1733,996.2 L1734,999.5 L1735,1000.9 L1736,1000.9 L1737,1001.4 L1738,1004.2 L1739,1005.9 L1740,1007.3 L1741,1008.2 L1742,1008.1 L1743,1008.0 L1744,1008.0 L1745,1008.0 L1746,1009.9 L1747,1009.9 L1748,1009.9 L1749,1010.4 L1750,1009.4 L1751,1008.7 L1752,1004.9 L1753,1004.4 L1754,1004.4 L1755,1001.3 L1756,1000.5 L1757,999.2 L1758,996.7 L1759,996.0 L1760,994.8 L1761,993.9 L1762,993.7 L1763,992.1 L1764,990.7 L1765,989.3 L1766,989.3 L1767,988.8 L1768,986.7 L1769,986.6 L1770,986.5 L1771,986.5 L1772,986.5 L1773,986.9 L1774,987.9 L1775,988.1 L1776,988.1 L1777,988.1 L1778,988.5 L1779,988.5 L1780,988.2 L1781,988.2 L1782,988.2 L1783,988.7 L1784,989.7 L1785,989.7 L1786,991.2 L1787,994.4 L1788,994.4 L1789,994.4 L1790,994.9 L1791,996.8 L1792,997.5 L1793,998.1 L1794,1000.5 L1795,996.8 L1796,990.8 L1797,984.9 L1798,980.0 L1799,979.6 L1800,979.4 L1801,979.4 L1802,979.4 L1803,981.8 L1804,984.8 L1805,988.0 L1806,988.0 L1807,988.0 L1808,988.3 L1809,986.3 L1810,984.9 L1811,984.9 L1812,983.5 L1813,980.8 L1814,978.1 L1815,975.9 L1816,975.0 L1817,972.7 L1818,970.0 L1819,970.0 L1820,970.0 L1821,971.0 L1822,974.9 L1823,980.4 L1824,984.2 L1825,984.9 L1826,984.0 L1827,982.5 L1828,976.8 L1829,976.8 L1830,975.2 L1831,973.3 L1832,973.3 L1833,973.3 L1834,974.7 L1835,977.0 L1836,978.8 L1837,981.6 L1838,982.5 L1839,982.5 L1840,983.8 L1841,986.2 L1842,989.5 L1843,989.5 L1844,989.5 L1845,988.6 L1846,986.2 L1847,985.2 L1848,985.2 L1849,985.0 L1850,984.2 L1851,982.8 L1852,980.9 L1853,980.9 L1854,980.9 L1855,980.9 L1856,979.0 L1857,978.1 L1858,977.2 L1859,977.2 L1860,977.2 L1861,976.6 L1862,976.4 L1863,976.4 L1864,976.4 L1865,976.4 L1866,976.4 L1867,977.2 L1868,977.2 L1869,977.2 L1870,976.4 L1871,976.4 L1872,976.4 L1873,976.7 L1874,977.0 L1875,977.0 L1876,977.9 L1877,978.7 L1878,978.4 L1879,978.4 L1880,978.4 L1881,978.9 L1882,979.4 L1883,979.4 L1884,978.9 L1885,978.1 L1886,978.1 L1887,978.1 L1888,980.0 L1889,980.0 L1890,980.0 L1891,985.0 L1892,982.0 L1893,982.0 L1894,978.2 L1895,974.5 L1896,971.8 L1897,970.5 L1898,969.8 L1899,969.3 L1900,969.3 L1901,969.3 L1902,970.3 L1903,971.7 L1904,973.8 L1905,973.9 L1906,971.7 L1907,968.5 L1908,966.2 L1909,963.3 L1910,963.3 L1911,963.3 L1912,963.6 L1913,964.2 L1914,964.8 L1915,966.0 L1916,966.0 L1917,966.0 L1918,966.3 L1919,966.9 L1920,967.6 L1921,968.8 L1922,969.7 L1923,969.9 L1924,970.9 L1925,971.7 L1926,973.6 L1927,973.6 L1928,974.1 L1929,975.8 L1930,977.8 L1931,979.1 L1932,976.3 L1933,975.0 L1934,974.3 L1935,971.4 L1936,970.0 L1937,970.0 L1938,970.0 L1939,971.5 L1940,974.4 L1941,980.1 L1942,986.4 L1943,986.5 L1944,981.9 L1945,978.2 L1946,975.8 L1947,973.8 L1948,973.1 L1949,971.7 L1950,969.3 L1951,969.3 L1952,969.3 L1953,969.4 L1954,969.4 L1955,969.4 L1956,970.2 L1957,968.4 L1958,967.6 L1959,967.6 L1960,967.5 L1961,966.5 L1962,966.0 L1963,966.0 L1964,966.0 L1965,966.4 L1966,967.7 L1967,967.9 L1968,968.1 L1969,969.2 L1970,969.7 L1971,969.7 L1972,968.8 L1973,966.4 L1974,966.4 L1975,966.4 L1976,964.7 L1977,959.5 L1978,953.3 L1979,951.4 L1980,949.5 L1981,946.0 L1982,942.6 L1983,938.2 L1984,933.3 L1985,933.3 L1986,933.3 L1987,937.3 L1988,961.8 L1989,965.0 L1990,962.0 L1991,960.0 L1992,960.0 L1993,960.0 L1994,963.9 L1995,970.1 L1996,970.1 L1997,975.4 L1998,981.7 L1999,984.6 L2000,981.9 L2001,968.7 L2002,955.8 L2003,953.1 L2004,952.7 L2005,952.7 L2006,952.7 L2007,952.8 L2008,953.1 L2009,953.5 L2010,954.7 L2011,956.0 L2012,954.2 L2013,953.2 L2014,953.2 L2015,953.2 L2016,955.2 L2017,957.1 L2018,959.0 L2019,962.4 L2020,963.7 L2021,963.7 L2022,966.8 L2023,968.7 L2024,959.3 L2025,951.0 L2026,946.7 L2027,946.7 L2028,946.7 L2029,950.0 L2030,953.1 L2031,953.1 L2032,960.5 L2033,965.0 L2034,965.0 L2035,972.8 L2036,974.6 L2037,969.2 L2038,969.2 L2039,966.4 L2040,962.5 L2041,960.0 L2042,960.0 L2043,960.0 L2044,959.8 L2045,958.9 L2046,958.9 L2047,958.9 L2048,959.6 L2049,958.2 L2050,958.2 L2051,958.2 L2052,959.6 L2053,959.1 L2054,959.1 L2055,959.1 L2056,959.7 L2057,960.2 L2058,960.4 L2059,959.9 L2060,959.7 L2061,959.7 L2062,959.7 L2063,960.5 L2064,961.4 L2065,961.8 L2066,961.4 L2067,961.3 L2068,961.3 L2069,961.3 L2070,961.6 L2071,962.2 L2072,963.3 L2073,962.2 L2074,961.7 L2075,961.4 L2076,960.7 L2077,960.4 L2078,960.4 L2079,960.4 L2080,960.8 L2081,959.5 L2082,958.5 L2083,957.6 L2084,955.2 L2085,953.3 L2086,953.2 L2087,953.2 L2088,953.2 L2089,953.3 L2090,953.3 L2091,956.6 L2092,960.8 L2093,966.6 L2094,965.3 L2095,959.9 L2096,955.2 L2097,950.9 L2098,948.1 L2099,946.7 L2100,946.7 L2101,946.7 L2102,947.0 L2103,943.8 L2104,943.8 L2105,943.8 L2106,943.8 L2107,943.5 L2108,943.3 L2109,943.3 L2110,943.3 L2111,943.6 L2112,944.6 L2113,945.3 L2114,945.3 L2115,947.3 L2116,946.8 L2117,946.8 L2118,946.8 L2119,944.2 L2120,943.8 L2121,943.8 L2122,943.8 L2123,944.6 L2124,947.5 L2125,952.5 L2126,956.1 L2127,954.7 L2128,953.8 L2129,951.8 L2130,950.9 L2131,950.0 L2132,950.0 L2133,950.0 L2134,950.2 L2135,950.2 L2136,950.2 L2137,951.0 L2138,951.7 L2139,951.4 L2140,951.2 L2141,951.2 L2142,950.8 L2143,950.8 L2144,950.8 L2145,951.2 L2146,950.5 L2147,950.5 L2148,950.5 L2149,950.4 L2150,950.4 L2151,950.4 L2152,950.4 L2153,950.0 L2154,950.0 L2155,949.8 L2156,949.7 L2157,949.6 L2158,949.6 L2159,949.6 L2160,949.3 L2161,949.2 L2162,949.2 L2163,949.2 L2164,950.6 L2165,951.5 L2166,951.3 L2167,949.7 L2168,949.7 L2169,949.7 L2170,949.5 L2171,945.8 L2172,945.8 L2173,936.7 L2174,923.3 L2175,923.3 L2176,923.3 L2177,925.3 L2178,935.8 L2179,945.7 L2180,951.7 L2181,951.7 L2182,951.3 L2183,950.0 L2184,946.3 L2185,944.5 L2186,943.1 L2187,943.1 L2188,943.1 L2189,942.6 L2190,940.8 L2191,940.3 L2192,940.1 L2193,939.1 L2194,938.8 L2195,937.7 L2196,936.3 L2197,936.3 L2198,936.3 L2199,936.4 L2200,934.7 L2201,934.3 L2202,934.3 L2203,934.3 L2204,934.5 L2205,933.9 L2206,932.5 L2207,932.5 L2208,932.5 L2209,932.7 L2210,933.3 L2211,936.1 L2212,939.8 L2213,943.6 L2214,947.1 L2215,950.5 L2216,951.0 L2217,949.6 L2218,945.1 L2219,943.7 L2220,941.4 L2221,940.0 L2222,940.0 L2223,940.0 L2224,939.9 L2225,939.9 L2226,939.9 L2227,940.7 L2228,940.9 L2229,941.3 L2230,942.0 L2231,941.8 L2232,941.7 L2233,941.7 L2234,941.7 L2235,942.6 L2236,943.2 L2237,943.2 L2238,942.9 L2239,942.9 L2240,942.9 L2241,942.9 L2242,942.5 L2243,942.5 L2244,942.5 L2245,943.0 L2246,943.5 L2247,943.4 L2248,943.3 L2249,943.2 L2250,942.5 L2251,942.5 L2252,942.5 L2253,942.7 L2254,941.4 L2255,940.9 L2256,940.9 L2257,940.9 L2258,942.9 L2259,943.2 L2260,943.2 L2261,942.8 L2262,942.7 L2263,942.7 L2264,942.7 L2265,943.3 L2266,943.3 L2267,944.8 L2268,951.2 L2269,954.2 L2270,954.2 L2271,949.8 L2272,946.0 L2273,943.2 L2274,940.0 L2275,940.0 L2276,940.0 L2277,942.0 L2278,952.8 L2279,942.1 L2280,929.8 L2281,922.9 L2282,921.2 L2283,921.2 L2284,921.2 L2285,921.7 L2286,923.0 L2287,923.0 L2288,923.8 L2289,921.6 L2290,921.6 L2291,921.6 L2292,923.4 L2293,924.8 L2294,924.8 L2295,924.2 L2296,922.3 L2297,921.0 L2298,919.1 L2299,914.7 L2300,913.6 L2301,913.3 L2302,913.3 L2303,913.3 L2304,917.3 L2305,924.6 L2306,931.4 L2307,931.3 L2308,931.3 L2309,930.8 L2310,930.3 L2311,930.3 L2312,929.7 L2313,929.4 L2314,929.1 L2315,928.4 L2316,927.5 L2317,926.9 L2318,926.7 L2319,926.7 L2320,926.7 L2321,927.2 L2322,927.6 L2323,927.7 L2324,927.7 L2325,928.5 L2326,929.4 L2327,929.4 L2328,929.4 L2329,929.6 L2330,930.0 L2331,930.0 L2332,930.0 L2333,930.4 L2334,931.6 L2335,931.6 L2336,931.6 L2337,931.7 L2338,931.9 L2339,932.2 L2340,933.1 L2341,933.3 L2342,933.3 L2343,933.3 L2344,933.4 L2345,933.1 L2346,933.1 L2347,933.1 L2348,933.4 L2349,932.6 L2350,932.6 L2351,932.3 L2352,930.1 L2353,928.7 L2354,928.7 L2355,928.7 L2356,930.6 L2357,934.3 L2358,939.2 L2359,943.1 L2360,948.4 L2361,954.5 L2362,957.3 L2363,945.7 L2364,937.4 L2365,931.1 L2366,926.8 L2367,918.1 L2368,916.7 L2369,916.7 L2370,916.7 L2371,918.0 L2372,918.0 L2373,918.9 L2374,922.4 L2375,926.4 L2376,926.3 L2377,926.3 L2378,926.3 L2379,926.8 L2380,927.0 L2381,926.6 L2382,926.6 L2383,926.3 L2384,925.9 L2385,925.9 L2386,925.9 L2387,926.5 L2388,926.7 L2389,926.7 L2390,926.7 L2391,928.6 L2392,933.5 L2393,940.2 L2394,942.4 L2395,941.6 L2396,929.8 L2397,915.8 L2398,911.8 L2399,910.3 L2400,910.3 L2401,910.3 L2402,911.3 L2403,913.6 L2404,918.1 L2405,922.6 L2406,928.0 L2407,928.1 L2408,928.1 L2409,930.0 L2410,934.9 L2411,930.0 L2412,928.5 L2413,928.5 L2414,928.5 L2415,924.1 L2416,922.2 L2417,921.4 L2418,921.4 L2419,921.4 L2420,921.9 L2421,919.9 L2422,919.7 L2423,918.3 L2424,917.9 L2425,917.9 L2426,917.9 L2427,918.4 L2428,918.4 L2429,918.4 L2430,917.7 L2431,917.3 L2432,917.3 L2433,917.3 L2434,917.1 L2435,916.8 L2436,916.5 L2437,916.5 L2438,916.5 L2439,916.6 L2440,915.8 L2441,915.5 L2442,915.3 L2443,915.3 L2444,915.3 L2445,915.4 L2446,915.2 L2447,914.9 L2448,914.4 L2449,914.1 L2450,914.0 L2451,913.5 L2452,913.2 L2453,913.2 L2454,913.2 L2455,913.1 L2456,912.9 L2457,912.7 L2458,910.5 L2459,910.1 L2460,909.7 L2461,908.6 L2462,906.9 L2463,906.0 L2464,905.2 L2465,905.2 L2466,905.2 L2467,904.1 L2468,901.7 L2469,898.8 L2470,898.3 L2471,898.3 L2472,898.3 L2473,899.6 L2474,901.4 L2475,901.7 L2476,901.7 L2477,902.5 L2478,903.5 L2479,903.7 L2480,904.9 L2481,906.7 L2482,909.2 L2483,909.7 L2484,909.6 L2485,909.6 L2486,909.6 L2487,911.6 L2488,913.5 L2489,914.4 L2490,915.2 L2491,915.8 L2492,916.9 L2493,917.7 L2494,918.2 L2495,918.2 L2496,918.7 L2497,918.7 L2498,918.7 L2499,918.1 L2500,916.3 L2501,915.5 L2502,913.9 L2503,913.0 L2504,913.0 L2505,913.0 L2506,913.7 L2507,914.3 L2508,914.8 L2509,915.4 L2510,914.8 L2511,913.4 L2512,912.7 L2513,911.8 L2514,911.5 L2515,910.9 L2516,910.7 L2517,910.7 L2518,910.5 L2519,909.9 L2520,909.7 L2521,909.6 L2522,909.5 L2523,909.5 L2524,909.5 L2525,909.4 L2526,909.3 L2527,909.3 L2528,909.2 L2529,909.0 L2530,909.0 L2531,908.6 L2532,908.3 L2533,908.3 L2534,908.1 L2535,907.5 L2536,907.2 L2537,907.2 L2538,907.2 L2539,906.6 L2540,906.2 L2541,906.2 L2542,905.7 L2543,905.3 L2544,905.3 L2545,905.3 L2546,906.2 L2547,906.3 L2548,906.6 L2549,906.8 L2550,919.0 L2551,899.9 L2552,899.7 L2553,899.4 L2554,899.2 L2555,898.9 L2556,898.7 L2557,898.4 L2558,898.2 L2559,898.0 L2560,898.0 L2561,898.0 L2562,898.2 L2563,898.3 L2564,898.6 L2565,898.8 L2566,898.9 L2567,899.5 L2568,901.0 L2569,901.5 L2570,903.0 L2571,903.5 L2572,905.0 L2573,905.5 L2574,906.7 L2575,905.8 L2576,904.9 L2577,904.0 L2578,904.0 L2579,904.0 L2580,904.3 L2581,904.5 L2582,904.8 L2583,905.1 L2584,905.3 L2585,905.6 L2586,905.5 L2587,905.3 L2588,905.1 L2589,905.0 L2590,904.8 L2591,904.6 L2592,904.4 L2593,904.2 L2594,904.0 L2595,904.0 L2596,904.0 L2597,904.9 L2598,905.9 L2599,906.8 L2600,907.7 L2601,908.7 L2602,909.6 L2603,909.8 L2604,909.5 L2605,908.8 L2606,908.5 L2607,907.7 L2608,907.0 L2609,906.3 L2610,905.7 L2611,905.0 L2612,904.3 L2613,903.7 L2614,903.0 L2615,902.9 L2616,902.9 L2617,902.9 L2618,902.8 L2619,902.8 L2620,902.8 L2621,902.7 L2622,902.7 L2623,902.6 L2624,902.6 L2625,902.5 L2626,902.5 L2627,902.5 L2628,902.4 L2629,902.4 L2630,902.4 L2631,902.3 L2632,902.3 L2633,902.2 L2634,902.2 L2635,902.1 L2636,902.1 L2637,902.1 L2638,902.0 L2639,902.0 L2640,902.0 L2641,902.0 L2642,902.0 L2643,902.0 L2644,902.0 L2645,902.0 L2646,902.0 L2647,902.0 L2648,902.0 L2649,902.0 L2650,902.0 L2651,902.0 L2652,902.0 L2653,902.0 L2654,902.0 L2655,902.0 L2656,902.0 L2657,902.0 L2658,902.0 L2659,902.0 L2660,902.0 L2661,902.0 L2662,902.0 L2663,902.0 L2664,902.0 L2665,902.0 L2666,902.0 L2667,902.0 L2668,902.0 L2669,902.0 L2670,902.0 L2671,902.0 L2672,902.0 L2673,902.0 L2674,902.0 L2675,902.0 L2676,902.0 L2677,902.0 L2678,902.0 L2679,902.0 L2680,902.0 L2681,902.0 L2682,902.0 L2683,902.0 L2684,902.0 L2685,902.0 L2686,902.0 L2687,902.0 L2688,902.0 L2689,902.0 L2690,902.0 L2691,902.0 L2692,902.0 L2693,902.0 L2694,902.0 L2695,902.0 L2696,902.0 L2697,902.0 L2698,902.0 L2699,902.0 L2700,902.0 L2701,902.0 L2702,902.0 L2703,902.0 L2704,902.0 L2705,902.0 L2706,902.0 L2707,902.0 L2708,902.0 L2709,902.0 L2710,902.0 L2711,902.0 L2712,902.0 L2713,902.0 L2713,902.0 L2712,902.0 L2711,902.0 L2710,902.0 L2709,902.0 L2708,902.0 L2707,902.0 L2706,902.0 L2705,902.0 L2704,902.0 L2703,902.0 L2702,902.0 L2701,902.0 L2700,902.0 L2699,902.0 L2698,902.0 L2697,902.0 L2696,902.0 L2695,902.0 L2694,902.0 L2693,902.0 L2692,902.0 L2691,902.0 L2690,902.0 L2689,902.0 L2688,902.0 L2687,902.0 L2686,902.0 L2685,902.0 L2684,902.0 L2683,902.0 L2682,902.0 L2681,902.0 L2680,902.0 L2679,902.0 L2678,902.0 L2677,902.0 L2676,902.0 L2675,902.0 L2674,902.0 L2673,902.0 L2672,902.0 L2671,902.0 L2670,902.0 L2669,902.0 L2668,902.0 L2667,902.0 L2666,902.0 L2665,902.0 L2664,902.0 L2663,902.0 L2662,902.0 L2661,902.0 L2660,902.0 L2659,902.0 L2658,902.0 L2657,902.0 L2656,902.0 L2655,902.0 L2654,902.0 L2653,902.0 L2652,902.0 L2651,902.0 L2650,902.0 L2649,902.0 L2648,902.0 L2647,902.0 L2646,902.0 L2645,902.0 L2644,902.0 L2643,902.0 L2642,902.0 L2641,902.0 L2640,902.1 L2639,902.1 L2638,902.1 L2637,902.2 L2636,902.2 L2635,902.2 L2634,902.3 L2633,902.3 L2632,902.4 L2631,902.4 L2630,902.5 L2629,902.5 L2628,902.5 L2627,902.6 L2626,902.6 L2625,902.6 L2624,902.7 L2623,902.7 L2622,902.8 L2621,902.8 L2620,902.9 L2619,902.9 L2618,902.9 L2617,903.0 L2616,903.3 L2615,904.0 L2614,904.7 L2613,905.3 L2612,906.0 L2611,906.7 L2610,907.3 L2609,908.2 L2608,908.5 L2607,909.2 L2606,909.5 L2605,910.2 L2604,910.5 L2603,911.0 L2602,911.0 L2601,911.0 L2600,910.1 L2599,909.1 L2598,908.2 L2597,907.3 L2596,906.3 L2595,905.4 L2594,904.5 L2593,904.7 L2592,904.9 L2591,905.0 L2590,905.2 L2589,905.4 L2588,905.6 L2587,905.8 L2586,906.0 L2585,906.0 L2584,906.0 L2583,905.7 L2582,905.5 L2581,905.2 L2580,904.9 L2579,904.7 L2578,905.3 L2577,906.2 L2576,907.1 L2575,908.0 L2574,908.0 L2573,908.0 L2572,907.0 L2571,906.5 L2570,905.0 L2569,904.5 L2568,903.0 L2567,902.5 L2566,901.0 L2565,900.5 L2564,899.0 L2563,898.8 L2562,898.7 L2561,898.5 L2560,898.3 L2559,898.6 L2558,898.8 L2557,899.1 L2556,899.3 L2555,899.6 L2554,930.0 L2553,930.0 L2552,930.0 L2551,930.0 L2550,930.0 L2549,930.0 L2548,930.0 L2547,918.5 L2546,906.6 L2545,906.4 L2544,906.2 L2543,907.0 L2542,907.0 L2541,907.1 L2540,907.9 L2539,908.7 L2538,908.7 L2537,908.7 L2536,908.2 L2535,908.4 L2534,908.4 L2533,908.8 L2532,909.0 L2531,909.1 L2530,909.3 L2529,909.3 L2528,909.4 L2527,909.4 L2526,909.7 L2525,909.9 L2524,909.9 L2523,909.9 L2522,909.8 L2521,910.2 L2520,910.5 L2519,910.7 L2518,910.7 L2517,911.3 L2516,911.5 L2515,912.4 L2514,913.1 L2513,914.4 L2512,915.3 L2511,916.1 L2510,917.0 L2509,917.0 L2508,917.0 L2507,916.2 L2506,915.0 L2505,914.7 L2504,915.1 L2503,915.9 L2502,917.6 L2501,919.0 L2500,919.1 L2499,919.1 L2498,919.1 L2497,919.7 L2496,920.0 L2495,920.0 L2494,920.0 L2493,918.7 L2492,918.5 L2491,918.1 L2490,917.3 L2489,916.6 L2488,915.5 L2487,914.8 L2486,914.0 L2485,913.0 L2484,911.1 L2483,910.9 L2482,910.9 L2481,910.3 L2480,909.4 L2479,908.7 L2478,906.2 L2477,904.5 L2476,903.6 L2475,903.3 L2474,902.9 L2473,902.9 L2472,902.9 L2471,901.2 L2470,903.6 L2469,905.6 L2468,905.6 L2467,905.6 L2466,905.6 L2465,906.5 L2464,908.2 L2463,909.3 L2462,910.1 L2461,910.1 L2460,912.2 L2459,913.1 L2458,913.1 L2457,913.2 L2456,914.2 L2455,915.4 L2454,915.4 L2453,915.4 L2452,914.5 L2451,914.1 L2450,914.6 L2449,915.0 L2448,915.3 L2447,915.4 L2446,915.5 L2445,915.5 L2444,915.5 L2443,915.7 L2442,916.4 L2441,916.6 L2440,916.7 L2439,916.7 L2438,916.7 L2437,916.9 L2436,917.2 L2435,917.4 L2434,917.5 L2433,917.5 L2432,918.6 L2431,919.0 L2430,919.0 L2429,919.0 L2428,918.8 L2427,919.0 L2426,919.0 L2425,919.2 L2424,919.8 L2423,921.4 L2422,923.7 L2421,923.7 L2420,923.7 L2419,923.4 L2418,923.6 L2417,929.8 L2416,931.2 L2415,931.2 L2414,931.2 L2413,936.2 L2412,937.7 L2411,937.7 L2410,937.7 L2409,936.7 L2408,936.7 L2407,936.4 L2406,936.4 L2405,936.4 L2404,933.9 L2403,927.6 L2402,922.1 L2401,917.6 L2400,915.3 L2399,929.3 L2398,941.1 L2397,951.4 L2396,953.3 L2395,953.3 L2394,953.3 L2393,952.3 L2392,947.9 L2391,941.9 L2390,939.7 L2389,933.0 L2388,928.4 L2387,928.4 L2386,928.4 L2385,927.2 L2384,927.0 L2383,927.0 L2382,927.2 L2381,927.2 L2380,927.2 L2379,927.1 L2378,927.1 L2377,927.1 L2376,927.5 L2375,928.4 L2374,928.4 L2373,928.4 L2372,926.1 L2371,921.9 L2370,920.1 L2369,926.3 L2368,930.6 L2367,936.9 L2366,945.2 L2365,956.8 L2364,961.5 L2363,963.3 L2362,963.3 L2361,963.3 L2360,961.0 L2359,957.2 L2358,954.0 L2357,947.9 L2356,942.6 L2355,938.7 L2354,933.8 L2353,933.1 L2352,933.5 L2351,933.5 L2350,933.9 L2349,933.9 L2348,933.9 L2347,933.8 L2346,933.8 L2345,933.6 L2344,933.6 L2343,933.6 L2342,933.5 L2341,933.4 L2340,933.5 L2339,933.5 L2338,933.5 L2337,932.7 L2336,932.0 L2335,932.2 L2334,932.2 L2333,932.2 L2332,932.2 L2331,931.8 L2330,930.7 L2329,930.7 L2328,930.2 L2327,930.3 L2326,930.3 L2325,930.3 L2324,929.8 L2323,928.9 L2322,928.1 L2321,927.9 L2320,927.8 L2319,927.4 L2318,927.9 L2317,929.0 L2316,929.3 L2315,929.5 L2314,930.9 L2313,931.7 L2312,931.7 L2311,932.7 L2310,933.2 L2309,933.2 L2308,934.9 L2307,936.2 L2306,936.7 L2305,936.7 L2304,936.7 L2303,930.9 L2302,924.1 L2301,918.7 L2300,920.5 L2299,921.9 L2298,923.8 L2297,926.2 L2296,926.7 L2295,926.7 L2294,926.7 L2293,925.2 L2292,925.2 L2291,925.2 L2290,931.0 L2289,931.0 L2288,931.0 L2287,930.0 L2286,925.5 L2285,924.3 L2284,924.3 L2283,929.3 L2282,941.6 L2281,958.5 L2280,973.3 L2279,973.3 L2278,973.3 L2277,971.4 L2276,962.1 L2275,952.3 L2274,949.3 L2273,959.6 L2272,961.6 L2271,961.6 L2270,963.3 L2269,963.3 L2268,963.3 L2267,962.4 L2266,956.6 L2265,950.7 L2264,944.3 L2263,944.2 L2262,943.6 L2261,944.8 L2260,944.8 L2259,944.8 L2258,944.4 L2257,943.9 L2256,943.9 L2255,942.9 L2254,943.1 L2253,943.1 L2252,943.1 L2251,943.2 L2250,943.3 L2249,943.5 L2248,943.8 L2247,944.3 L2246,944.3 L2245,944.3 L2244,944.3 L2243,943.8 L2242,943.8 L2241,943.8 L2240,943.8 L2239,943.5 L2238,943.4 L2237,943.4 L2236,943.3 L2235,943.3 L2234,943.3 L2233,943.1 L2232,942.2 L2231,942.7 L2230,942.7 L2229,942.7 L2228,942.6 L2227,942.1 L2226,941.0 L2225,941.0 L2224,940.5 L2223,940.9 L2222,943.3 L2221,944.7 L2220,949.1 L2219,952.0 L2218,952.0 L2217,955.7 L2216,956.7 L2215,956.7 L2214,956.7 L2213,953.4 L2212,950.0 L2211,946.6 L2210,943.1 L2209,939.3 L2208,935.6 L2207,934.4 L2206,935.7 L2205,936.1 L2204,936.1 L2203,936.1 L2202,936.5 L2201,937.3 L2200,937.3 L2199,937.3 L2198,937.3 L2197,938.7 L2196,939.0 L2195,939.6 L2194,940.5 L2193,940.5 L2192,942.2 L2191,943.2 L2190,943.3 L2189,943.3 L2188,944.0 L2187,945.8 L2186,949.5 L2185,950.9 L2184,952.7 L2183,955.5 L2182,955.5 L2181,955.5 L2180,956.7 L2179,956.7 L2178,956.7 L2177,954.7 L2176,945.2 L2175,950.0 L2174,950.0 L2173,950.0 L2172,951.8 L2171,952.6 L2170,952.6 L2169,952.6 L2168,951.8 L2167,951.8 L2166,952.7 L2165,953.0 L2164,953.0 L2163,953.0 L2162,951.9 L2161,950.1 L2160,950.3 L2159,950.3 L2158,950.3 L2157,949.9 L2156,950.0 L2155,950.3 L2154,950.7 L2153,950.7 L2152,950.7 L2151,950.9 L2150,952.2 L2149,952.2 L2148,952.2 L2147,952.0 L2146,952.1 L2145,952.1 L2144,952.1 L2143,951.7 L2142,951.7 L2141,951.7 L2140,951.9 L2139,951.9 L2138,951.9 L2137,951.8 L2136,951.8 L2135,951.8 L2134,951.5 L2133,951.5 L2132,951.5 L2131,953.3 L2130,954.2 L2129,955.6 L2128,957.0 L2127,959.5 L2126,960.0 L2125,960.0 L2124,960.0 L2123,956.3 L2122,952.0 L2121,947.0 L2120,946.9 L2119,947.2 L2118,947.2 L2117,949.5 L2116,950.0 L2115,950.0 L2114,950.0 L2113,950.0 L2112,948.1 L2111,945.9 L2110,945.9 L2109,944.1 L2108,945.3 L2107,947.3 L2106,947.3 L2105,947.3 L2104,949.3 L2103,949.3 L2102,949.3 L2101,948.8 L2100,950.5 L2099,954.7 L2098,959.5 L2097,964.8 L2096,969.1 L2095,973.3 L2094,973.3 L2093,973.3 L2092,972.8 L2091,969.9 L2090,966.1 L2089,960.3 L2088,956.1 L2087,954.8 L2086,957.2 L2085,958.1 L2084,959.0 L2083,960.9 L2082,962.6 L2081,962.6 L2080,962.6 L2079,962.2 L2078,961.0 L2077,961.5 L2076,961.8 L2075,963.1 L2074,963.5 L2073,963.6 L2072,964.0 L2071,964.0 L2070,964.0 L2069,963.6 L2068,961.7 L2067,962.2 L2066,962.4 L2065,962.4 L2064,962.4 L2063,962.3 L2062,961.8 L2061,960.9 L2060,960.4 L2059,960.4 L2058,960.5 L2057,960.5 L2056,960.5 L2055,960.3 L2054,960.0 L2053,960.6 L2052,960.9 L2051,960.9 L2050,961.8 L2049,961.8 L2048,961.8 L2047,961.3 L2046,960.7 L2045,962.3 L2044,962.7 L2043,962.7 L2042,965.9 L2041,970.5 L2040,971.5 L2039,974.1 L2038,982.5 L2037,983.0 L2036,983.3 L2035,983.3 L2034,983.3 L2033,979.0 L2032,972.3 L2031,966.9 L2030,966.9 L2029,960.0 L2028,954.8 L2027,958.8 L2026,968.2 L2025,976.7 L2024,976.7 L2023,976.7 L2022,975.8 L2021,973.1 L2020,969.7 L2019,966.3 L2018,964.4 L2017,964.4 L2016,961.9 L2015,958.5 L2014,956.7 L2013,956.4 L2012,957.1 L2011,957.1 L2010,957.1 L2009,956.8 L2008,955.7 L2007,954.2 L2006,953.3 L2005,955.3 L2004,968.2 L2003,981.5 L2002,994.2 L2001,996.7 L2000,996.7 L1999,996.7 L1998,992.7 L1997,988.4 L1996,984.1 L1995,981.2 L1994,974.9 L1993,970.8 L1992,970.8 L1991,968.4 L1990,971.4 L1989,972.4 L1988,973.3 L1987,973.3 L1986,973.3 L1985,961.3 L1984,945.5 L1983,949.0 L1982,951.0 L1981,952.8 L1980,959.0 L1979,964.2 L1978,968.5 L1977,969.5 L1976,970.0 L1975,970.0 L1974,972.2 L1973,972.2 L1972,972.2 L1971,971.7 L1970,972.6 L1969,972.6 L1968,972.6 L1967,971.6 L1966,968.7 L1965,968.1 L1964,967.8 L1963,967.3 L1962,967.9 L1961,967.9 L1960,968.0 L1959,969.8 L1958,971.7 L1957,971.7 L1956,971.7 L1955,971.4 L1954,972.6 L1953,972.6 L1952,972.6 L1951,972.9 L1950,973.3 L1949,975.3 L1948,977.7 L1947,981.4 L1946,986.0 L1945,992.2 L1944,993.6 L1943,993.6 L1942,993.6 L1941,993.4 L1940,990.9 L1939,985.9 L1938,979.7 L1937,973.9 L1936,974.6 L1935,975.8 L1934,978.6 L1933,980.2 L1932,980.6 L1931,980.6 L1930,980.6 L1929,980.1 L1928,978.7 L1927,977.3 L1926,975.4 L1925,974.4 L1924,974.4 L1923,973.5 L1922,971.3 L1921,970.4 L1920,969.8 L1919,969.2 L1918,968.3 L1917,967.2 L1916,967.9 L1915,967.9 L1914,967.9 L1913,967.4 L1912,965.5 L1911,965.7 L1910,968.1 L1909,971.2 L1908,973.5 L1907,976.2 L1906,976.7 L1905,976.7 L1904,976.7 L1903,975.9 L1902,974.6 L1901,973.4 L1900,971.3 L1899,971.4 L1898,974.1 L1897,977.8 L1896,982.5 L1895,982.9 L1894,985.0 L1893,989.0 L1892,989.7 L1891,990.0 L1890,990.0 L1889,990.0 L1888,984.5 L1887,982.4 L1886,982.4 L1885,979.9 L1884,979.9 L1883,979.9 L1882,979.9 L1881,979.8 L1880,979.8 L1879,979.4 L1878,979.6 L1877,979.6 L1876,979.6 L1875,979.2 L1874,978.3 L1873,977.5 L1872,977.7 L1871,978.6 L1870,978.6 L1869,978.6 L1868,977.7 L1867,977.7 L1866,977.7 L1865,977.7 L1864,976.9 L1863,977.1 L1862,978.7 L1861,978.7 L1860,978.7 L1859,978.6 L1858,980.4 L1857,981.1 L1856,981.7 L1855,981.7 L1854,982.3 L1853,983.8 L1852,984.6 L1851,986.3 L1850,987.1 L1849,987.1 L1848,988.1 L1847,991.8 L1846,994.1 L1845,994.1 L1844,994.1 L1843,993.3 L1842,993.3 L1841,993.3 L1840,992.5 L1839,991.6 L1838,985.8 L1837,983.5 L1836,983.5 L1835,983.5 L1834,981.2 L1833,978.3 L1832,978.1 L1831,978.1 L1830,982.0 L1829,985.4 L1828,985.4 L1827,989.1 L1826,990.0 L1825,990.0 L1824,990.0 L1823,987.5 L1822,984.6 L1821,983.8 L1820,979.9 L1819,974.5 L1818,975.4 L1817,977.7 L1816,980.4 L1815,983.1 L1814,986.4 L1813,987.3 L1812,987.3 L1811,989.1 L1810,990.0 L1809,990.0 L1808,990.0 L1807,989.1 L1806,988.5 L1805,988.6 L1804,988.6 L1803,988.6 L1802,988.1 L1801,984.3 L1800,984.4 L1799,990.3 L1798,996.3 L1797,1000.2 L1796,1002.9 L1795,1003.3 L1794,1003.3 L1793,1003.3 L1792,1001.9 L1791,1000.0 L1790,997.6 L1789,997.4 L1788,996.3 L1787,995.8 L1786,995.8 L1785,995.4 L1784,994.6 L1783,990.7 L1782,990.0 L1781,990.5 L1780,990.5 L1779,990.5 L1778,989.7 L1777,988.8 L1776,988.8 L1775,988.9 L1774,989.3 L1773,989.3 L1772,989.3 L1771,987.5 L1770,988.4 L1769,989.7 L1768,989.7 L1767,990.2 L1766,991.7 L1765,993.6 L1764,993.8 L1763,994.3 L1762,995.6 L1761,996.3 L1760,998.7 L1759,1000.2 L1758,1000.9 L1757,1004.2 L1756,1005.6 L1755,1005.6 L1754,1008.2 L1753,1009.7 L1752,1009.9 L1751,1012.8 L1750,1013.7 L1749,1014.4 L1748,1014.4 L1747,1014.4 L1746,1013.1 L1745,1013.1 L1744,1013.1 L1743,1010.3 L1742,1009.9 L1741,1009.9 L1740,1009.9 L1739,1009.4 L1738,1008.7 L1737,1006.8 L1736,1005.5 L1735,1003.7 L1734,1002.1 L1733,1002.1 L1732,1001.2 L1731,999.0 L1730,995.7 L1729,995.1 L1728,994.6 L1727,993.2 L1726,992.0 L1725,989.1 L1724,984.0 L1723,985.0 L1722,986.8 L1721,988.7 L1720,990.3 L1719,990.7 L1718,991.9 L1717,996.4 L1716,996.4 L1715,996.4 L1714,1000.0 L1713,1000.0 L1712,1003.7 L1711,1008.1 L1710,1008.1 L1709,1008.1 L1708,1009.0 L1707,1009.8 L1706,1009.9 L1705,1010.0 L1704,1010.0 L1703,1010.0 L1702,1001.6 L1701,991.8 L1700,983.7 L1699,983.7 L1698,983.3 L1697,988.6 L1696,990.6 L1695,990.6 L1694,990.6 L1693,992.2 L1692,995.1 L1691,996.3 L1690,996.7 L1689,996.7 L1688,996.7 L1687,996.7 L1686,996.4 L1685,996.4 L1684,996.4 L1683,996.3 L1682,996.3 L1681,996.3 L1680,996.3 L1679,995.5 L1678,995.1 L1677,994.6 L1676,994.7 L1675,996.3 L1674,996.7 L1673,997.6 L1672,1000.3 L1671,1000.3 L1670,1000.3 L1669,1002.2 L1668,1002.2 L1667,1002.3 L1666,1003.3 L1665,1003.3 L1664,1004.3 L1663,1011.4 L1662,1012.9 L1661,1014.5 L1660,1019.8 L1659,1023.3 L1658,1027.6 L1657,1030.0 L1656,1030.0 L1655,1030.0 L1654,1028.6 L1653,1025.8 L1652,1022.9 L1651,1019.4 L1650,1016.0 L1649,1013.8 L1648,1011.5 L1647,1009.3 L1646,1007.2 L1645,1008.2 L1644,1008.9 L1643,1010.4 L1642,1012.8 L1641,1013.2 L1640,1013.3 L1639,1013.3 L1638,1013.3 L1637,1010.7 L1636,1008.4 L1635,1006.6 L1634,1006.2 L1633,1006.2 L1632,1005.2 L1631,1000.8 L1630,999.9 L1629,999.4 L1628,1004.1 L1627,1005.1 L1626,1006.7 L1625,1009.0 L1624,1011.4 L1623,1015.7 L1622,1020.0 L1621,1022.9 L1620,1025.8 L1619,1027.3 L1618,1027.3 L1617,1027.3 L1616,1023.4 L1615,1020.4 L1614,1020.4 L1613,1017.2 L1612,1014.5 L1611,1012.3 L1610,1009.6 L1609,1009.4 L1608,1008.4 L1607,1006.8 L1606,1008.3 L1605,1009.7 L1604,1010.7 L1603,1010.7 L1602,1010.7 L1601,1011.8 L1600,1012.7 L1599,1013.1 L1598,1015.3 L1597,1016.7 L1596,1016.9 L1595,1016.9 L1594,1017.1 L1593,1017.8 L1592,1018.5 L1591,1020.3 L1590,1020.8 L1589,1020.8 L1588,1020.8 L1587,1020.1 L1586,1019.5 L1585,1019.5 L1584,1020.0 L1583,1021.9 L1582,1024.7 L1581,1026.8 L1580,1027.8 L1579,1031.8 L1578,1034.7 L1577,1037.6 L1576,1039.8 L1575,1040.5 L1574,1041.2 L1573,1041.7 L1572,1041.7 L1571,1043.5 L1570,1045.9 L1569,1045.9 L1568,1048.1 L1567,1050.0 L1566,1050.0 L1565,1050.0 L1564,1048.2 L1563,1044.7 L1562,1044.2 L1561,1043.6 L1560,1042.4 L1559,1040.5 L1558,1037.6 L1557,1034.8 L1556,1030.5 L1555,1030.2 L1554,1028.7 L1553,1027.5 L1552,1027.5 L1551,1027.5 L1550,1026.5 L1549,1024.1 L1548,1022.2 L1547,1021.4 L1546,1020.8 L1545,1020.3 L1544,1020.2 L1543,1020.7 L1542,1020.7 L1541,1020.7 L1540,1019.8 L1539,1018.4 L1538,1018.0 L1537,1017.7 L1536,1016.8 L1535,1017.2 L1534,1017.2 L1533,1021.5 L1532,1025.3 L1531,1028.1 L1530,1029.7 L1529,1035.6 L1528,1040.0 L1527,1043.4 L1526,1047.8 L1525,1051.1 L1524,1053.3 L1523,1053.3 L1522,1053.3 L1521,1052.4 L1520,1046.6 L1519,1040.7 L1518,1044.9 L1517,1045.5 L1516,1045.9 L1515,1046.6 L1514,1049.5 L1513,1051.9 L1512,1053.3 L1511,1053.3 L1510,1053.3 L1509,1041.9 L1508,1028.5 L1507,1028.5 L1506,1028.5 L1505,1028.2 L1504,1033.3 L1503,1038.2 L1502,1039.2 L1501,1039.2 L1500,1039.2 L1499,1043.4 L1498,1045.8 L1497,1047.6 L1496,1049.9 L1495,1049.9 L1494,1049.9 L1493,1048.9 L1492,1047.8 L1491,1047.8 L1490,1047.4 L1489,1049.9 L1488,1049.9 L1487,1049.9 L1486,1049.2 L1485,1049.2 L1484,1049.2 L1483,1047.2 L1482,1054.6 L1481,1061.1 L1480,1063.0 L1479,1072.7 L1478,1077.9 L1477,1080.1 L1476,1082.9 L1475,1083.5 L1474,1083.9 L1473,1083.9 L1472,1083.9 L1471,1079.6 L1470,1070.4 L1469,1069.0 L1468,1065.7 L1467,1059.9 L1466,1051.7 L1465,1050.4 L1464,1049.1 L1463,1049.1 L1462,1049.1 L1461,1049.0 L1460,1049.0 L1459,1049.0 L1458,1047.4 L1457,1047.4 L1456,1047.4 L1455,1046.9 L1454,1045.4 L1453,1043.8 L1452,1043.2 L1451,1040.8 L1450,1038.7 L1449,1038.3 L1448,1036.8 L1447,1036.4 L1446,1036.4 L1445,1034.2 L1444,1034.6 L1443,1034.6 L1442,1034.6 L1441,1032.6 L1440,1031.4 L1439,1033.0 L1438,1038.4 L1437,1044.4 L1436,1049.3 L1435,1054.3 L1434,1059.1 L1433,1064.0 L1432,1068.9 L1431,1075.2 L1430,1076.7 L1429,1076.7 L1428,1076.7 L1427,1071.4 L1426,1065.0 L1425,1059.7 L1424,1063.0 L1423,1067.8 L1422,1068.4 L1421,1068.6 L1420,1068.6 L1419,1068.6 L1418,1070.9 L1417,1073.3 L1416,1073.3 L1415,1073.3 L1414,1034.7 L1413,1039.0 L1412,1042.5 L1411,1046.9 L1410,1049.7 L1409,1049.7 L1408,1049.7 L1407,1051.4 L1406,1054.3 L1405,1055.0 L1404,1059.2 L1403,1066.5 L1402,1075.3 L1401,1077.3 L1400,1077.3 L1399,1083.2 L1398,1085.7 L1397,1086.7 L1396,1086.7 L1395,1086.7 L1394,1081.7 L1393,1071.7 L1392,1058.0 L1391,1064.8 L1390,1064.8 L1389,1078.2 L1388,1089.7 L1387,1089.7 L1386,1094.0 L1385,1100.9 L1384,1103.3 L1383,1103.3 L1382,1103.3 L1381,1103.1 L1380,1102.7 L1379,1098.7 L1378,1094.8 L1377,1093.4 L1376,1081.2 L1375,1074.4 L1374,1074.0 L1373,1073.4 L1372,1070.5 L1371,1066.4 L1370,1066.4 L1369,1066.4 L1368,1065.5 L1367,1063.9 L1366,1063.9 L1365,1061.5 L1364,1060.5 L1363,1065.4 L1362,1067.7 L1361,1073.4 L1360,1081.6 L1359,1085.3 L1358,1088.1 L1357,1090.0 L1356,1090.0 L1355,1090.0 L1354,1082.6 L1353,1068.8 L1352,1051.5 L1351,1049.7 L1350,1055.5 L1349,1056.5 L1348,1058.7 L1347,1061.4 L1346,1066.2 L1345,1074.9 L1344,1076.8 L1343,1076.8 L1342,1078.5 L1341,1078.5 L1340,1078.5 L1339,1078.6 L1338,1082.0 L1337,1091.8 L1336,1096.1 L1335,1098.5 L1334,1100.0 L1333,1100.0 L1332,1100.0 L1331,1081.2 L1330,1085.7 L1329,1086.2 L1328,1086.2 L1327,1086.2 L1326,1091.0 L1325,1093.9 L1324,1093.9 L1323,1093.9 L1322,1093.5 L1321,1092.9 L1320,1092.3 L1319,1092.3 L1318,1090.9 L1317,1088.2 L1316,1088.2 L1315,1087.8 L1314,1086.5 L1313,1088.3 L1312,1096.6 L1311,1101.5 L1310,1101.5 L1309,1109.2 L1308,1112.5 L1307,1113.3 L1306,1113.3 L1305,1113.3 L1304,1112.0 L1303,1109.7 L1302,1105.3 L1301,1099.4 L1300,1093.0 L1299,1091.1 L1298,1085.6 L1297,1081.1 L1296,1089.8 L1295,1095.2 L1294,1098.7 L1293,1107.1 L1292,1119.5 L1291,1125.2 L1290,1126.7 L1289,1126.7 L1288,1131.8 L1287,1131.8 L1286,1131.8 L1285,1131.5 L1284,1131.0 L1283,1129.7 L1282,1127.3 L1281,1125.2 L1280,1125.2 L1279,1125.2 L1278,1125.6 L1277,1125.6 L1276,1125.6 L1275,1123.8 L1274,1088.0 L1273,1097.4 L1272,1097.4 L1271,1097.4 L1270,1103.8 L1269,1105.1 L1268,1108.0 L1267,1110.0 L1266,1110.0 L1265,1110.0 L1264,1107.1 L1263,1102.3 L1262,1099.6 L1261,1096.3 L1260,1094.3 L1259,1093.1 L1258,1091.2 L1257,1091.2 L1256,1091.6 L1255,1095.3 L1254,1100.5 L1253,1105.2 L1252,1106.2 L1251,1107.0 L1250,1115.3 L1249,1115.4 L1248,1119.9 L1247,1126.8 L1246,1134.3 L1245,1139.7 L1244,1145.1 L1243,1155.0 L1242,1160.0 L1241,1160.0 L1240,1160.0 L1239,1156.6 L1238,1150.8 L1237,1138.4 L1236,1125.6 L1235,1117.3 L1234,1118.6 L1233,1118.6 L1232,1118.6 L1231,1121.0 L1230,1123.4 L1229,1123.4 L1228,1125.4 L1227,1126.7 L1226,1126.7 L1225,1126.7 L1224,1126.2 L1223,1125.5 L1222,1124.4 L1221,1124.4 L1220,1122.6 L1219,1120.7 L1218,1123.2 L1217,1126.0 L1216,1127.9 L1215,1129.7 L1214,1130.1 L1213,1132.5 L1212,1135.3 L1211,1136.2 L1210,1136.7 L1209,1136.7 L1208,1136.7 L1207,1129.7 L1206,1121.7 L1205,1118.7 L1204,1121.1 L1203,1124.0 L1202,1125.2 L1201,1129.9 L1200,1134.6 L1199,1136.5 L1198,1140.9 L1197,1145.3 L1196,1149.3 L1195,1160.1 L1194,1170.0 L1193,1170.0 L1192,1170.0 L1191,1169.6 L1190,1168.7 L1189,1166.2 L1188,1159.3 L1187,1144.5 L1186,1142.0 L1185,1140.1 L1184,1137.2 L1183,1132.3 L1182,1132.2 L1181,1136.9 L1180,1144.2 L1179,1144.2 L1178,1144.2 L1177,1143.8 L1176,1142.4 L1175,1147.7 L1174,1150.1 L1173,1151.1 L1172,1151.1 L1171,1155.7 L1170,1156.7 L1169,1156.7 L1168,1156.7 L1167,1149.3 L1166,1140.1 L1165,1140.0 L1164,1143.4 L1163,1147.7 L1162,1155.4 L1161,1161.8 L1160,1163.3 L1159,1163.3 L1158,1163.3 L1157,1158.4 L1156,1151.9 L1155,1144.0 L1154,1140.2 L1153,1143.9 L1152,1143.9 L1151,1143.9 L1150,1143.8 L1149,1148.4 L1148,1148.9 L1147,1158.7 L1146,1182.2 L1145,1186.7 L1144,1186.7 L1143,1186.7 L1142,1185.8 L1141,1183.0 L1140,1178.7 L1139,1173.0 L1138,1171.9 L1137,1171.0 L1136,1167.7 L1135,1164.8 L1134,1163.4 L1133,1163.4 L1132,1163.4 L1131,1162.7 L1130,1162.9 L1129,1162.9 L1128,1162.9 L1127,1159.5 L1126,1159.4 L1125,1158.9 L1124,1158.5 L1123,1158.5 L1122,1157.6 L1121,1157.7 L1120,1159.6 L1119,1159.6 L1118,1159.6 L1117,1160.9 L1116,1160.9 L1115,1162.0 L1114,1163.5 L1113,1163.5 L1112,1163.5 L1111,1163.1 L1110,1177.4 L1109,1198.8 L1108,1219.6 L1107,1230.0 L1106,1230.0 L1105,1230.0 L1104,1229.2 L1103,1225.9 L1102,1221.8 L1101,1221.8 L1100,1216.9 L1099,1210.0 L1098,1210.0 L1097,1208.1 L1096,1205.2 L1095,1201.4 L1094,1198.1 L1093,1195.2 L1092,1193.2 L1091,1195.7 L1090,1196.0 L1089,1198.9 L1088,1199.6 L1087,1200.0 L1086,1200.0 L1085,1201.0 L1084,1202.0 L1083,1202.0 L1082,1202.0 L1081,1200.5 L1080,1198.6 L1079,1200.1 L1078,1200.6 L1077,1200.6 L1076,1200.6 L1075,1197.7 L1074,1194.7 L1073,1191.9 L1072,1186.6 L1071,1181.3 L1070,1185.3 L1069,1190.0 L1068,1193.7 L1067,1196.5 L1066,1201.9 L1065,1206.3 L1064,1210.0 L1063,1210.0 L1062,1210.0 L1061,1209.0 L1060,1204.8 L1059,1202.4 L1058,1201.2 L1057,1199.9 L1056,1196.1 L1055,1201.9 L1054,1209.6 L1053,1215.4 L1052,1218.8 L1051,1224.5 L1050,1225.9 L1049,1227.5 L1048,1233.3 L1047,1234.0 L1046,1234.4 L1045,1234.4 L1044,1234.4 L1043,1225.6 L1042,1218.8 L1041,1215.0 L1040,1209.4 L1039,1205.2 L1038,1203.9 L1037,1203.9 L1036,1203.9 L1035,1203.4 L1034,1203.4 L1033,1203.4 L1032,1202.5 L1031,1203.5 L1030,1203.5 L1029,1203.5 L1028,1203.4 L1027,1205.1 L1026,1205.4 L1025,1205.4 L1024,1205.5 L1023,1211.9 L1022,1217.2 L1021,1225.0 L1020,1228.4 L1019,1228.4 L1018,1240.2 L1017,1248.6 L1016,1252.6 L1015,1253.1 L1014,1253.3 L1013,1253.3 L1012,1253.3 L1011,1244.0 L1010,1233.2 L1009,1226.7 L1008,1226.7 L1007,1229.4 L1006,1232.3 L1005,1238.0 L1004,1239.6 L1003,1239.9 L1002,1240.3 L1001,1240.3 L1000,1241.9 L999,1245.8 L998,1246.7 L997,1246.7 L996,1246.7 L995,1246.3 L994,1245.1 L993,1243.3 L992,1242.1 L991,1239.9 L990,1233.4 L989,1230.5 L988,1229.7 L987,1229.0 L986,1229.0 L985,1229.0 L984,1226.1 L983,1220.8 L982,1220.4 L981,1220.4 L980,1220.4 L979,1219.5 L978,1214.8 L977,1225.4 L976,1230.3 L975,1235.6 L974,1242.2 L973,1248.9 L972,1258.0 L971,1263.3 L970,1263.3 L969,1263.3 L968,1258.5 L967,1249.7 L966,1235.3 L965,1233.6 L964,1240.9 L963,1242.5 L962,1243.0 L961,1243.0 L960,1245.0 L959,1252.2 L958,1259.1 L957,1264.1 L956,1266.4 L955,1272.3 L954,1273.3 L953,1273.3 L952,1273.3 L951,1272.9 L950,1269.2 L949,1262.8 L948,1256.5 L947,1246.1 L946,1240.4 L945,1240.0 L944,1242.4 L943,1244.3 L942,1244.8 L941,1244.8 L940,1245.0 L939,1245.0 L938,1245.0 L937,1245.0 L936,1245.0 L935,1246.2 L934,1254.4 L933,1260.2 L932,1260.2 L931,1265.4 L930,1271.7 L929,1278.1 L928,1282.4 L927,1290.2 L926,1297.5 L925,1299.5 L924,1300.0 L923,1300.0 L922,1300.0 L921,1293.3 L920,1287.6 L919,1283.2 L918,1274.3 L917,1269.5 L916,1266.1 L915,1267.9 L914,1270.2 L913,1270.2 L912,1277.7 L911,1283.2 L910,1283.2 L909,1287.9 L908,1292.2 L907,1294.1 L906,1294.1 L905,1299.0 L904,1300.0 L903,1300.0 L902,1300.0 L901,1294.1 L900,1289.8 L899,1287.9 L898,1287.9 L897,1287.9 L896,1287.9 L895,1287.7 L894,1287.3 L893,1282.0 L892,1282.0 L891,1280.5 L890,1275.5 L889,1276.9 L888,1282.7 L887,1286.6 L886,1286.6 L885,1288.6 L884,1290.0 L883,1290.0 L882,1290.0 L881,1288.3 L880,1286.9 L879,1288.3 L878,1288.3 L877,1288.3 L876,1286.3 L875,1286.3 L874,1286.3 L873,1286.3 L872,1284.9 L871,1282.1 L870,1279.6 L869,1286.9 L868,1288.6 L867,1293.6 L866,1302.9 L865,1309.2 L864,1311.7 L863,1312.6 L862,1312.6 L861,1312.6 L860,1317.4 L859,1324.9 L858,1333.3 L857,1333.3 L856,1333.3 L855,1278.0 L854,1278.2 L853,1291.9 L852,1294.3 L851,1294.3 L850,1294.3 L849,1286.6 L848,1293.5 L847,1298.3 L846,1298.3 L845,1298.3 L844,1304.4 L843,1314.2 L842,1321.7 L841,1324.4 L840,1328.5 L839,1334.2 L838,1340.0 L837,1340.0 L836,1340.0 L835,1304.1 L834,1304.1 L833,1307.7 L832,1308.7 L831,1308.7 L830,1308.7 L829,1318.3 L828,1320.3 L827,1320.3 L826,1320.3 L825,1319.5 L824,1326.3 L823,1335.1 L822,1345.0 L821,1350.0 L820,1350.0 L819,1350.0 L818,1349.2 L817,1347.9 L816,1346.0 L815,1342.2 L814,1342.0 L813,1342.0 L812,1339.6 L811,1336.9 L810,1334.2 L809,1335.0 L808,1335.9 L807,1335.9 L806,1339.9 L805,1342.2 L804,1344.4 L803,1347.3 L802,1347.8 L801,1347.8 L800,1347.8 L799,1347.0 L798,1345.3 L797,1343.1 L796,1337.4 L795,1334.5 L794,1331.3 L793,1328.9 L792,1328.9 L791,1333.8 L790,1339.5 L789,1342.9 L788,1342.9 L787,1342.9 L786,1347.8 L785,1355.6 L784,1362.9 L783,1362.9 L782,1362.9 L781,1363.4 L780,1363.5 L779,1363.5 L778,1363.5 L777,1362.0 L776,1354.7 L775,1347.8 L774,1345.8 L773,1344.8 L772,1344.5 L771,1351.2 L770,1355.5 L769,1358.2 L768,1362.9 L767,1365.3 L766,1367.7 L765,1372.4 L764,1375.3 L763,1377.2 L762,1377.8 L761,1378.2 L760,1378.2 L759,1380.1 L758,1381.4 L757,1383.1 L756,1384.4 L755,1384.4 L754,1384.4 L753,1384.0 L752,1383.3 L751,1377.1 L750,1369.3 L749,1361.0 L748,1361.4 L747,1362.3 L746,1362.4 L745,1362.4 L744,1366.9 L743,1370.6 L742,1371.3 L741,1371.3 L740,1371.3 L739,1370.4 L738,1370.5 L737,1376.3 L736,1379.6 L735,1381.9 L734,1384.0 L733,1386.3 L732,1390.1 L731,1395.7 L730,1395.7 L729,1396.1 L728,1400.0 L727,1400.0 L726,1400.0 L725,1398.5 L724,1390.5 L723,1381.7 L722,1371.8 L721,1377.5 L720,1378.9 L719,1378.9 L718,1385.1 L717,1385.1 L716,1385.1 L715,1384.1 L714,1382.0 L713,1385.5 L712,1388.2 L711,1390.0 L710,1390.0 L709,1390.0 L708,1387.6 L707,1384.8 L706,1384.8 L705,1384.8 L704,1382.4 L703,1381.3 L702,1384.0 L701,1385.4 L700,1386.3 L699,1389.4 L698,1394.1 L697,1394.1 L696,1396.1 L695,1400.1 L694,1403.5 L693,1404.7 L692,1405.9 L691,1406.7 L690,1406.7 L689,1406.7 L688,1405.4 L687,1404.8 L686,1404.8 L685,1400.3 L684,1394.9 L683,1394.9 L682,1394.8 L681,1393.4 L680,1396.5 L679,1404.9 L678,1407.8 L677,1413.2 L676,1421.5 L675,1428.5 L674,1431.8 L673,1433.6 L672,1433.6 L671,1433.6 L670,1431.7 L669,1431.0 L668,1431.0 L667,1427.2 L666,1424.7 L665,1424.7 L664,1425.1 L663,1426.6 L662,1426.6 L661,1426.6 L660,1423.3 L659,1418.5 L658,1418.2 L657,1427.1 L656,1435.0 L655,1441.9 L654,1443.3 L653,1443.3 L652,1443.3 L651,1431.4 L650,1417.4 L649,1410.2 L648,1414.9 L647,1415.6 L646,1415.6 L645,1418.7 L644,1421.9 L643,1422.7 L642,1425.4 L641,1429.6 L640,1433.4 L639,1436.2 L638,1440.1 L637,1442.0 L636,1442.1 L635,1445.8 L634,1446.7 L633,1446.7 L632,1446.7 L631,1440.7 L630,1432.8 L629,1425.7 L628,1427.4 L627,1427.8 L626,1427.8 L625,1431.7 L624,1435.6 L623,1438.5 L622,1440.4 L621,1440.8 L620,1443.7 L619,1445.9 L618,1446.7 L617,1446.7 L616,1446.7 L615,1446.2 L614,1443.3 L613,1442.3 L612,1441.1 L611,1439.7 L610,1439.7 L609,1437.7 L608,1435.7 L607,1442.6 L606,1452.3 L605,1464.2 L604,1467.1 L603,1468.1 L602,1468.1 L601,1468.1 L600,1467.3 L599,1465.7 L598,1464.1 L597,1464.1 L596,1463.8 L595,1464.7 L594,1464.7 L593,1464.7 L592,1461.8 L591,1460.0 L590,1460.0 L589,1460.0 L588,1458.0 L587,1455.1 L586,1460.4 L585,1467.7 L584,1474.5 L583,1476.9 L582,1482.8 L581,1486.7 L580,1486.7 L579,1486.7 L578,1487.4 L577,1487.4 L576,1487.4 L575,1485.5 L574,1482.5 L573,1479.5 L572,1476.3 L571,1476.3 L570,1479.3 L569,1480.1 L568,1483.8 L567,1486.3 L566,1486.3 L565,1489.1 L564,1490.0 L563,1490.0 L562,1490.0 L561,1487.7 L560,1485.4 L559,1482.5 L558,1473.2 L557,1471.9 L556,1469.4 L555,1470.3 L554,1474.7 L553,1474.7 L552,1474.7 L551,1473.8 L550,1472.0 L549,1472.0 L548,1472.3 L547,1474.4 L546,1477.7 L545,1477.7 L544,1483.6 L543,1492.4 L542,1501.8 L541,1507.0 L540,1507.7 L539,1507.7 L538,1507.7 L537,1506.8 L536,1497.0 L535,1495.3 L534,1494.4 L533,1490.9 L532,1490.9 L531,1488.9 L530,1484.0 L529,1484.5 L528,1485.3 L527,1485.8 L526,1485.8 L525,1487.0 L524,1488.1 L523,1488.4 L522,1488.8 L521,1492.5 L520,1493.4 L519,1493.4 L518,1494.3 L517,1502.8 L516,1511.3 L515,1520.2 L514,1521.7 L513,1521.7 L512,1521.7 L511,1520.0 L510,1518.3 L509,1515.9 L508,1510.3 L507,1510.3 L506,1508.5 L505,1508.0 L504,1508.0 L503,1508.0 L502,1507.3 L501,1507.7 L500,1507.7 L499,1508.1 L498,1509.4 L497,1509.4 L496,1509.4 L495,1509.4 L494,1514.2 L493,1520.1 L492,1526.0 L491,1530.3 L490,1535.6 L489,1542.3 L488,1543.7 L487,1543.7 L486,1543.7 L485,1540.3 L484,1537.0 L483,1536.7 L482,1536.7 L481,1536.3 L480,1534.6 L479,1534.6 L478,1534.6 L477,1534.4 L476,1533.4 L475,1532.8 L474,1533.0 L473,1533.0 L472,1533.0 L471,1532.5 L470,1531.5 L469,1531.5 L468,1531.5 L467,1532.3 L466,1532.7 L465,1532.7 L464,1533.5 L463,1533.8 L462,1533.8 L461,1534.0 L460,1535.8 L459,1539.2 L458,1540.5 L457,1541.7 L456,1542.3 L455,1546.5 L454,1550.0 L453,1550.5 L452,1550.7 L451,1550.7 L450,1550.7 L449,1548.4 L448,1545.6 L447,1557.3 L446,1565.6 L445,1565.6 L444,1565.6 L443,1564.2 L442,1561.8 L441,1557.0 L440,1552.7 L439,1549.1 L438,1549.1 L437,1548.8 L436,1548.5 L435,1550.3 L434,1553.6 L433,1554.8 L432,1556.5 L431,1558.7 L430,1560.6 L429,1562.5 L428,1562.5 L427,1562.5 L426,1562.1 L425,1561.0 L424,1560.0 L423,1560.0 L422,1561.8 L421,1564.0 L420,1566.7 L419,1568.1 L418,1570.0 L417,1573.0 L416,1574.8 L415,1576.6 L414,1576.6 L413,1576.6 L412,1576.1 L411,1574.2 L410,1573.3 L409,1572.5 L408,1570.8 L407,1569.0 L406,1567.2 L405,1567.2 L404,1567.0 L403,1572.1 L402,1578.5 L401,1584.4 L400,1588.9 L399,1592.7 L398,1596.5 L397,1597.6 L396,1598.8 L395,1601.2 L394,1602.0 L393,1602.3 L392,1602.3 L391,1602.3 L390,1601.4 L389,1599.0 L388,1597.5 L387,1596.1 L386,1594.5 L385,1594.5 L384,1594.8 L383,1595.3 L382,1595.3 L381,1595.3 L380,1596.5 L379,1598.5 L378,1598.5 L377,1599.0 L376,1600.9 L375,1601.1 L374,1601.4 L373,1601.6 L372,1604.6 L371,1608.5 L370,1613.2 L369,1619.7 L368,1625.1 L367,1625.1 L366,1625.1 L365,1623.7 L364,1617.7 L363,1615.0 L362,1614.1 L361,1614.1 L360,1614.1 L359,1614.4 L358,1617.6 L357,1620.9 L356,1623.9 L355,1626.3 L354,1628.8 L353,1634.7 L352,1640.7 L351,1647.1 L350,1647.1 L349,1647.1 L348,1646.6 L347,1641.7 L346,1637.3 L345,1641.3 L344,1648.6 L343,1654.9 L342,1654.9 L341,1654.9 L340,1654.0 L339,1651.3 L338,1648.5 L337,1646.1 L336,1643.8 L335,1641.5 L334,1658.8 L333,1662.7 L332,1662.7 L331,1662.7 L330,1658.8 L329,1654.0 L328,1647.5 L327,1647.0 L326,1649.7 L325,1650.2 L324,1650.2 L323,1650.4 L322,1651.9 L321,1653.3 L320,1654.5 L319,1655.3 L318,1656.5 L317,1657.2 L316,1658.2 L315,1659.1 L314,1659.6 L313,1659.6 L312,1659.6 L311,1646.7 L310,1639.7 L309,1642.6 L308,1653.0 L307,1661.9 L306,1661.9 L305,1661.9 L304,1661.5 L303,1661.0 L302,1661.2 L301,1662.3 L300,1663.2 L299,1663.2 L298,1663.2 L297,1662.5 L296,1662.0Z" fill="#002060" stroke="#002060" stroke-width="7" stroke-linejoin="round"/>
<clipPath id="pc"><rect x="295" y="0" width="2430" height="1700"/></clipPath>
<line x1="296" y1="654.4" x2="2710.4" y2="654.4" stroke="#000" stroke-width="7" stroke-dasharray="18.5 25.04" stroke-linecap="round" clip-path="url(#pc)"/>
<rect x="2268.5" y="1065.5" width="451" height="580.5" fill="#fff" stroke="#000" stroke-width="1.3"/>
<line x1="2293.5" y1="1123.5" x2="2398.5" y2="1123.5" stroke="#FFC000" stroke-width="7" stroke-linecap="round"/>
<text transform="translate(2410.6,1146.8) scale(0.937,1)" font-size="79.5" style="font-family:'Liberation Sans',Arial,sans-serif">PS3-020</text>
<line x1="2293.5" y1="1239.7" x2="2398.5" y2="1239.7" stroke="#FF0000" stroke-width="7" stroke-linecap="round"/>
<text clip-path="url(#f1c26)" transform="translate(2410.6,1263.0) scale(0.937,1)" font-size="79.5" style="font-family:'Liberation Sans',Arial,sans-serif">PS3-014</text>
<line x1="2293.5" y1="1355.8" x2="2398.5" y2="1355.8" stroke="#00B050" stroke-width="7" stroke-linecap="round"/>
<text transform="translate(2410.6,1379.1) scale(0.937,1)" font-size="79.5" style="font-family:'Liberation Sans',Arial,sans-serif">PS3-008</text>
<line x1="2293.5" y1="1472.0" x2="2398.5" y2="1472.0" stroke="#002060" stroke-width="7" stroke-linecap="round"/>
<text transform="translate(2410.6,1495.2) scale(0.937,1)" font-size="79.5" style="font-family:'Liberation Sans',Arial,sans-serif">PS3-006</text>
<line x1="2293.5" y1="1588.1" x2="2400" y2="1588.1" stroke="#000" stroke-width="7" stroke-dasharray="18.2 25" stroke-linecap="round"/>
<text clip-path="url(#f1c29)" transform="translate(2410.6,1611.4) scale(0.937,1)" font-size="79.5" style="font-family:'Liberation Sans',Arial,sans-serif">ru=1</text>
</svg>
</body></html>
